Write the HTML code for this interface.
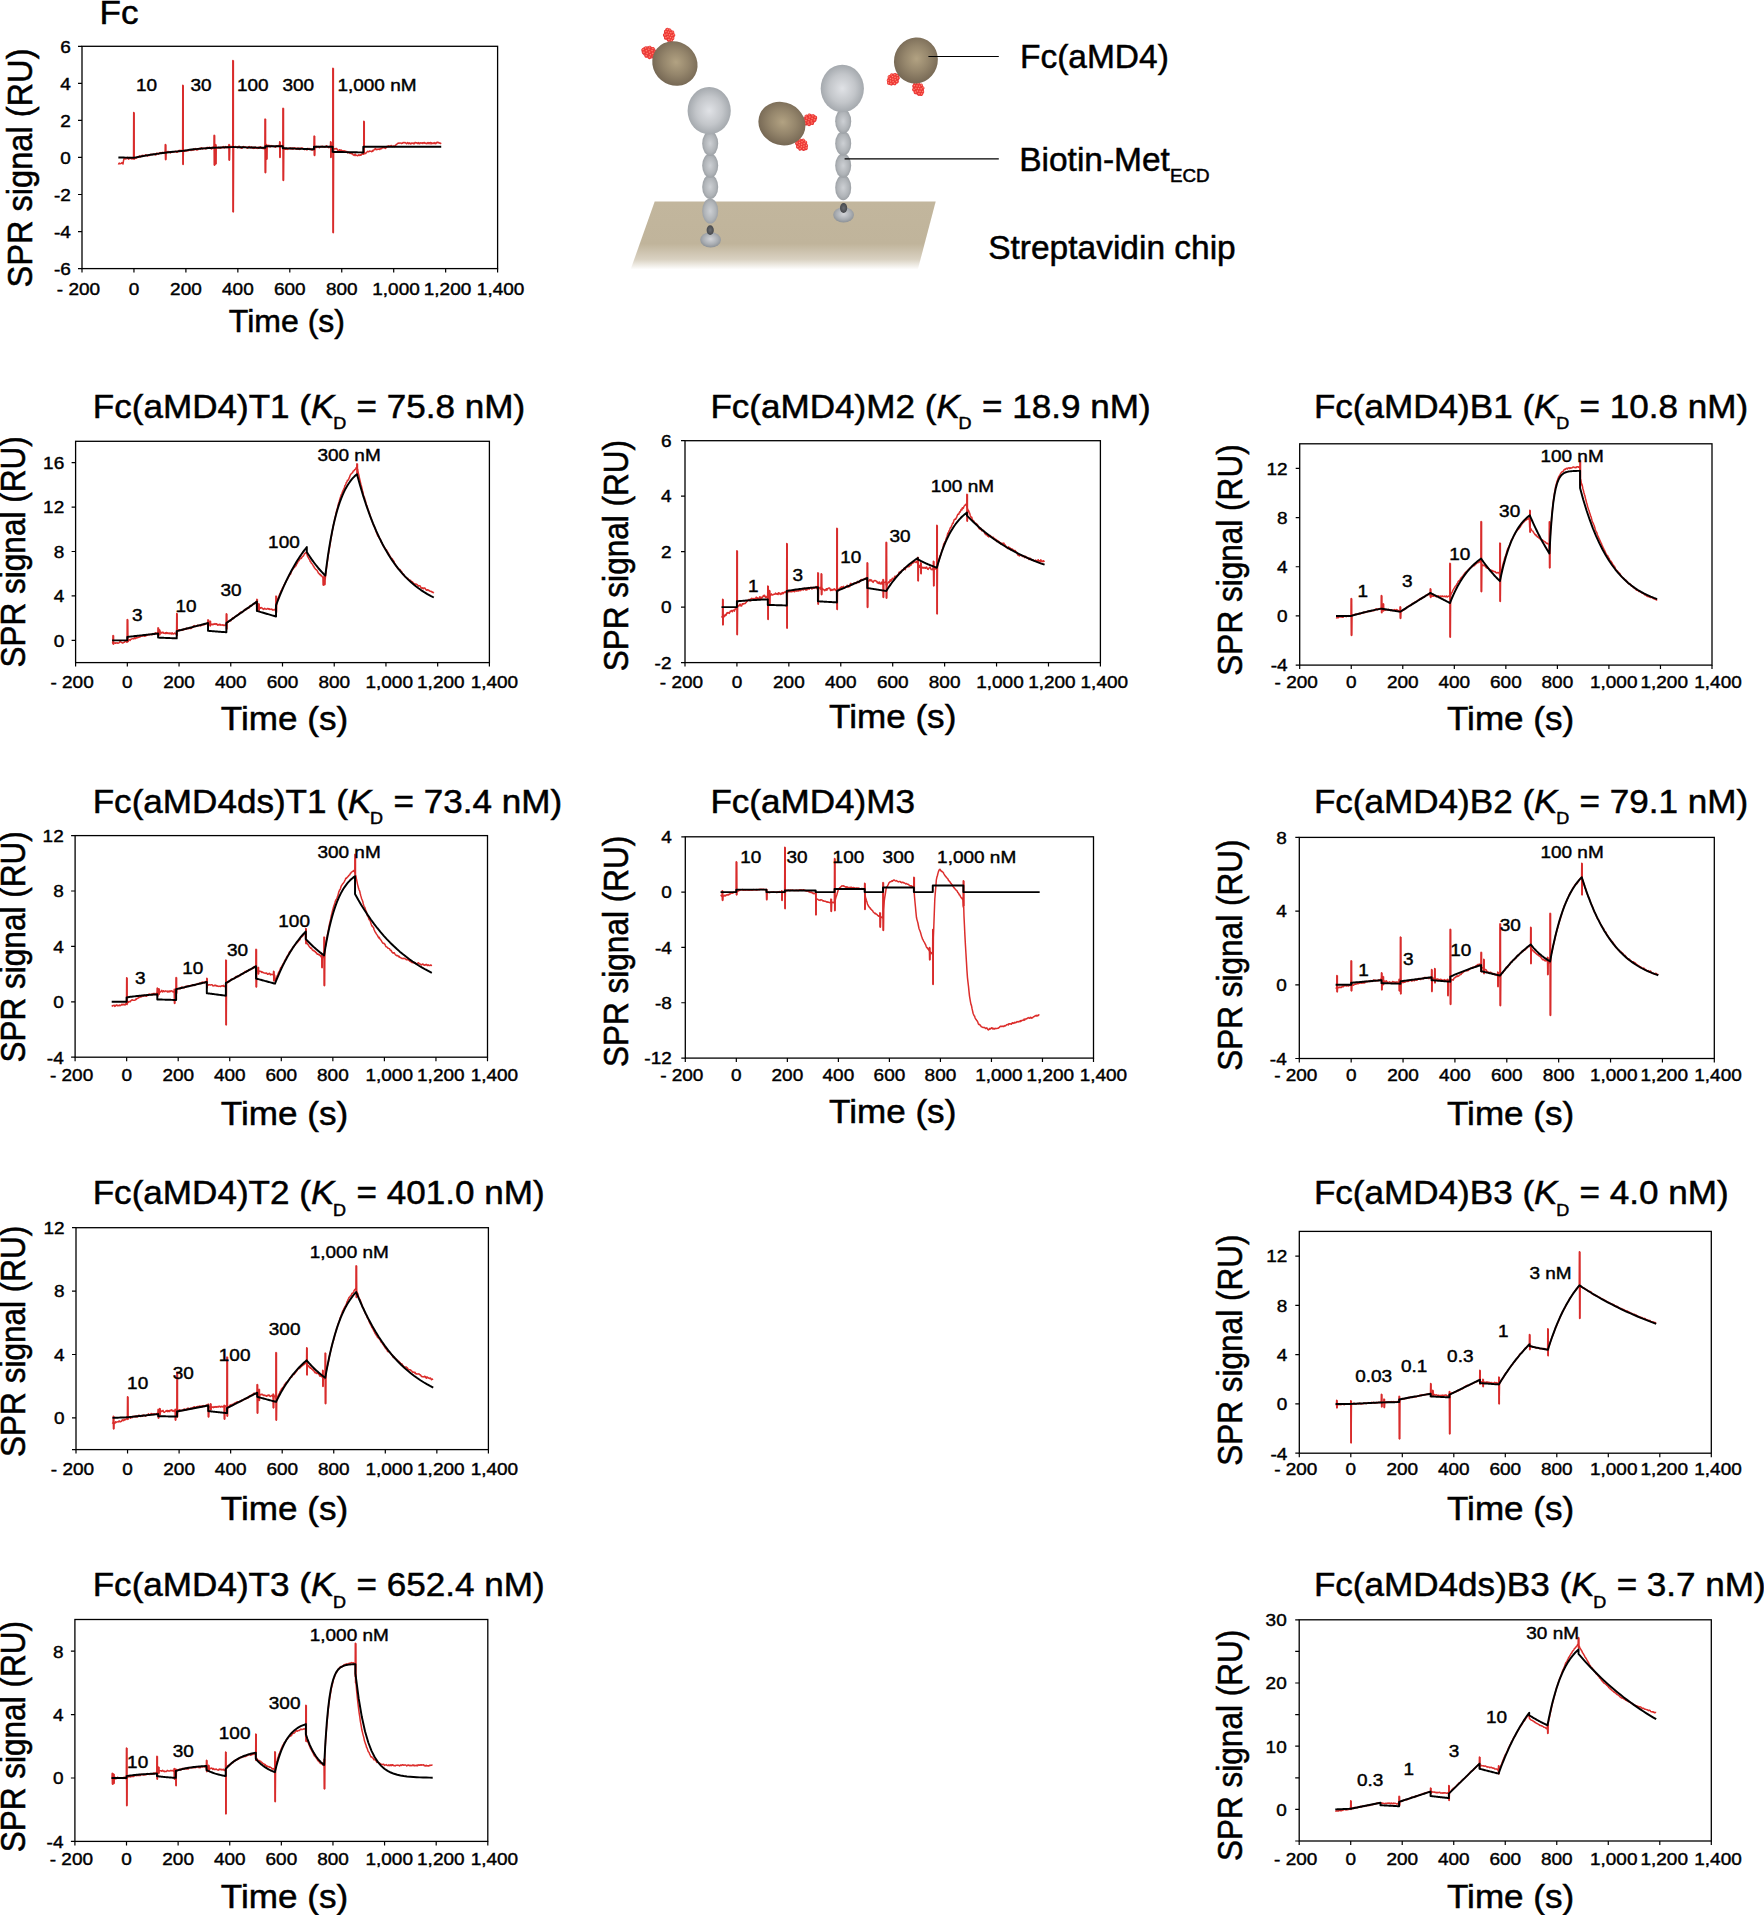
<!DOCTYPE html>
<html lang="en"><head><meta charset="utf-8"><title>SPR sensorgrams</title>
<style>
html,body{margin:0;padding:0;background:#fff}
body{width:1764px;height:1915px;overflow:hidden}
svg{display:block}
text{font-family:"Liberation Sans",sans-serif;fill:#000;stroke:#000;stroke-width:.5}
text.s{stroke-width:.42}
.fr{fill:none;stroke:#000;stroke-width:1.3}
.tk{fill:none;stroke:#000;stroke-width:1.2}
.k{fill:none;stroke:#000;stroke-width:1.95;stroke-linejoin:round}
.r{fill:none;stroke:#dc2e2c;stroke-width:1.5;stroke-linejoin:round}
.sp{fill:none;stroke:#d82c2c;stroke-width:1.8}
</style></head><body>
<svg width="1764" height="1915" viewBox="0 0 1764 1915">
<rect width="1764" height="1915" fill="#fff"/>

<defs>
<linearGradient id="gChip" x1="0" y1="201.6" x2="0" y2="269.5" gradientUnits="userSpaceOnUse">
<stop offset="0" stop-color="#c2b69d"/><stop offset=".62" stop-color="#c0b49b"/><stop offset=".85" stop-color="#d9d1c1"/><stop offset="1" stop-color="#ffffff"/></linearGradient>
<radialGradient id="gGrey" cx=".5" cy=".5" r=".55"><stop offset="0" stop-color="#e0e2e6"/><stop offset=".55" stop-color="#c3c6ca"/><stop offset="1" stop-color="#9da2a7"/></radialGradient>
<radialGradient id="gGrey2" cx=".5" cy=".45" r=".6"><stop offset="0" stop-color="#d2d4d8"/><stop offset=".6" stop-color="#a9adb2"/><stop offset="1" stop-color="#868b90"/></radialGradient>
<radialGradient id="gBead" cx=".5" cy=".5" r=".6"><stop offset="0" stop-color="#cdd0d4"/><stop offset=".6" stop-color="#b0b4b8"/><stop offset="1" stop-color="#8e9398"/></radialGradient>
<radialGradient id="gDark" cx=".5" cy=".5" r=".6"><stop offset="0" stop-color="#6a6c70"/><stop offset="1" stop-color="#3f4145"/></radialGradient>
<radialGradient id="gBrown" cx=".5" cy=".46" r=".56"><stop offset="0" stop-color="#b2a282"/><stop offset=".5" stop-color="#95866c"/><stop offset="1" stop-color="#736552"/></radialGradient>
<radialGradient id="gRed" cx=".45" cy=".4" r=".6"><stop offset="0" stop-color="#ff9a86"/><stop offset=".45" stop-color="#f5453e"/><stop offset="1" stop-color="#e22a2c"/></radialGradient>
</defs>
<g id="diagram">
<polygon points="654.7,201.6 935.7,201.6 917.8,269.5 630.6,269.5" fill="url(#gChip)"/>
<ellipse cx="710.6" cy="239.8" rx="10.4" ry="7.6" fill="url(#gGrey2)"/><ellipse cx="710.2" cy="211" rx="8.0" ry="12.6" fill="url(#gBead)"/><ellipse cx="710.2" cy="186.9" rx="8.0" ry="12.2" fill="url(#gBead)"/><ellipse cx="710.2" cy="165.6" rx="8.0" ry="12.2" fill="url(#gBead)"/><ellipse cx="710.2" cy="143.5" rx="8.0" ry="12.4" fill="url(#gBead)"/><ellipse cx="710.2" cy="230.1" rx="3.6" ry="4.9" fill="url(#gDark)"/><ellipse cx="709.2" cy="110.7" rx="21.6" ry="23.7" fill="url(#gGrey)"/>
<ellipse cx="843.6" cy="214.8" rx="10.4" ry="7.6" fill="url(#gGrey2)"/><ellipse cx="843.2" cy="187.7" rx="8.0" ry="12.6" fill="url(#gBead)"/><ellipse cx="843.2" cy="165.6" rx="8.0" ry="12.2" fill="url(#gBead)"/><ellipse cx="843.2" cy="143.4" rx="8.0" ry="12.2" fill="url(#gBead)"/><ellipse cx="843.2" cy="121.3" rx="8.0" ry="12.4" fill="url(#gBead)"/><ellipse cx="843.6" cy="208" rx="3.6" ry="4.9" fill="url(#gDark)"/><ellipse cx="842.3" cy="88.5" rx="21.6" ry="23.7" fill="url(#gGrey)"/>
<g transform="translate(669.1 35.1) rotate(70)"><ellipse rx="6.9" ry="5.1" fill="#d8262c" opacity=".8"/><circle cx="-1.44" cy="-4.21" r="1.75" fill="url(#gRed)"/><circle cx="1.44" cy="-4.21" r="1.75" fill="url(#gRed)"/><circle cx="-4.33" cy="-2.11" r="1.75" fill="url(#gRed)"/><circle cx="-1.44" cy="-2.11" r="1.75" fill="url(#gRed)"/><circle cx="1.44" cy="-2.11" r="1.75" fill="url(#gRed)"/><circle cx="4.33" cy="-2.11" r="1.75" fill="url(#gRed)"/><circle cx="-5.77" cy="0" r="1.75" fill="url(#gRed)"/><circle cx="-2.88" cy="0" r="1.75" fill="url(#gRed)"/><circle cx="0" cy="0" r="1.75" fill="url(#gRed)"/><circle cx="2.88" cy="0" r="1.75" fill="url(#gRed)"/><circle cx="5.77" cy="0" r="1.75" fill="url(#gRed)"/><circle cx="-4.33" cy="2.11" r="1.75" fill="url(#gRed)"/><circle cx="-1.44" cy="2.11" r="1.75" fill="url(#gRed)"/><circle cx="1.44" cy="2.11" r="1.75" fill="url(#gRed)"/><circle cx="4.33" cy="2.11" r="1.75" fill="url(#gRed)"/><circle cx="-1.44" cy="4.21" r="1.75" fill="url(#gRed)"/><circle cx="1.44" cy="4.21" r="1.75" fill="url(#gRed)"/></g>
<g transform="translate(649.6 52.4) rotate(22)"><ellipse rx="8.4" ry="5.7" fill="#d8262c" opacity=".8"/><circle cx="-1.73" cy="-4.64" r="1.75" fill="url(#gRed)"/><circle cx="1.73" cy="-4.64" r="1.75" fill="url(#gRed)"/><circle cx="-5.19" cy="-2.32" r="1.75" fill="url(#gRed)"/><circle cx="-1.73" cy="-2.32" r="1.75" fill="url(#gRed)"/><circle cx="1.73" cy="-2.32" r="1.75" fill="url(#gRed)"/><circle cx="5.19" cy="-2.32" r="1.75" fill="url(#gRed)"/><circle cx="-6.92" cy="0" r="1.75" fill="url(#gRed)"/><circle cx="-3.46" cy="0" r="1.75" fill="url(#gRed)"/><circle cx="0" cy="0" r="1.75" fill="url(#gRed)"/><circle cx="3.46" cy="0" r="1.75" fill="url(#gRed)"/><circle cx="6.92" cy="0" r="1.75" fill="url(#gRed)"/><circle cx="-5.19" cy="2.32" r="1.75" fill="url(#gRed)"/><circle cx="-1.73" cy="2.32" r="1.75" fill="url(#gRed)"/><circle cx="1.73" cy="2.32" r="1.75" fill="url(#gRed)"/><circle cx="5.19" cy="2.32" r="1.75" fill="url(#gRed)"/><circle cx="-1.73" cy="4.64" r="1.75" fill="url(#gRed)"/><circle cx="1.73" cy="4.64" r="1.75" fill="url(#gRed)"/></g>
<ellipse transform="translate(674.9 63.5) rotate(40)" rx="23.4" ry="21.6" fill="url(#gBrown)"/>
<g transform="translate(809.3 119.8) rotate(-20)"><ellipse rx="7.9" ry="5.2" fill="#d8262c" opacity=".8"/><circle cx="-1.63" cy="-4.29" r="1.75" fill="url(#gRed)"/><circle cx="1.63" cy="-4.29" r="1.75" fill="url(#gRed)"/><circle cx="-4.9" cy="-2.14" r="1.75" fill="url(#gRed)"/><circle cx="-1.63" cy="-2.14" r="1.75" fill="url(#gRed)"/><circle cx="1.63" cy="-2.14" r="1.75" fill="url(#gRed)"/><circle cx="4.9" cy="-2.14" r="1.75" fill="url(#gRed)"/><circle cx="-6.54" cy="0" r="1.75" fill="url(#gRed)"/><circle cx="-3.27" cy="0" r="1.75" fill="url(#gRed)"/><circle cx="0" cy="0" r="1.75" fill="url(#gRed)"/><circle cx="3.27" cy="0" r="1.75" fill="url(#gRed)"/><circle cx="6.54" cy="0" r="1.75" fill="url(#gRed)"/><circle cx="-4.9" cy="2.14" r="1.75" fill="url(#gRed)"/><circle cx="-1.63" cy="2.14" r="1.75" fill="url(#gRed)"/><circle cx="1.63" cy="2.14" r="1.75" fill="url(#gRed)"/><circle cx="4.9" cy="2.14" r="1.75" fill="url(#gRed)"/><circle cx="-1.63" cy="4.29" r="1.75" fill="url(#gRed)"/><circle cx="1.63" cy="4.29" r="1.75" fill="url(#gRed)"/></g>
<g transform="translate(801.6 144.6) rotate(40)"><ellipse rx="6.9" ry="5.2" fill="#d8262c" opacity=".8"/><circle cx="-1.44" cy="-4.29" r="1.75" fill="url(#gRed)"/><circle cx="1.44" cy="-4.29" r="1.75" fill="url(#gRed)"/><circle cx="-4.33" cy="-2.14" r="1.75" fill="url(#gRed)"/><circle cx="-1.44" cy="-2.14" r="1.75" fill="url(#gRed)"/><circle cx="1.44" cy="-2.14" r="1.75" fill="url(#gRed)"/><circle cx="4.33" cy="-2.14" r="1.75" fill="url(#gRed)"/><circle cx="-5.77" cy="0" r="1.75" fill="url(#gRed)"/><circle cx="-2.88" cy="0" r="1.75" fill="url(#gRed)"/><circle cx="0" cy="0" r="1.75" fill="url(#gRed)"/><circle cx="2.88" cy="0" r="1.75" fill="url(#gRed)"/><circle cx="5.77" cy="0" r="1.75" fill="url(#gRed)"/><circle cx="-4.33" cy="2.14" r="1.75" fill="url(#gRed)"/><circle cx="-1.44" cy="2.14" r="1.75" fill="url(#gRed)"/><circle cx="1.44" cy="2.14" r="1.75" fill="url(#gRed)"/><circle cx="4.33" cy="2.14" r="1.75" fill="url(#gRed)"/><circle cx="-1.44" cy="4.29" r="1.75" fill="url(#gRed)"/><circle cx="1.44" cy="4.29" r="1.75" fill="url(#gRed)"/></g>
<ellipse transform="translate(781.9 123.6) rotate(25)" rx="24" ry="21.3" fill="url(#gBrown)"/>
<g transform="translate(893.2 79.3) rotate(-40)"><ellipse rx="6.9" ry="5.2" fill="#d8262c" opacity=".8"/><circle cx="-1.44" cy="-4.29" r="1.75" fill="url(#gRed)"/><circle cx="1.44" cy="-4.29" r="1.75" fill="url(#gRed)"/><circle cx="-4.33" cy="-2.14" r="1.75" fill="url(#gRed)"/><circle cx="-1.44" cy="-2.14" r="1.75" fill="url(#gRed)"/><circle cx="1.44" cy="-2.14" r="1.75" fill="url(#gRed)"/><circle cx="4.33" cy="-2.14" r="1.75" fill="url(#gRed)"/><circle cx="-5.77" cy="0" r="1.75" fill="url(#gRed)"/><circle cx="-2.88" cy="0" r="1.75" fill="url(#gRed)"/><circle cx="0" cy="0" r="1.75" fill="url(#gRed)"/><circle cx="2.88" cy="0" r="1.75" fill="url(#gRed)"/><circle cx="5.77" cy="0" r="1.75" fill="url(#gRed)"/><circle cx="-4.33" cy="2.14" r="1.75" fill="url(#gRed)"/><circle cx="-1.44" cy="2.14" r="1.75" fill="url(#gRed)"/><circle cx="1.44" cy="2.14" r="1.75" fill="url(#gRed)"/><circle cx="4.33" cy="2.14" r="1.75" fill="url(#gRed)"/><circle cx="-1.44" cy="4.29" r="1.75" fill="url(#gRed)"/><circle cx="1.44" cy="4.29" r="1.75" fill="url(#gRed)"/></g>
<g transform="translate(918.3 88.9) rotate(60)"><ellipse rx="7.4" ry="5.2" fill="#d8262c" opacity=".8"/><circle cx="-1.54" cy="-4.29" r="1.75" fill="url(#gRed)"/><circle cx="1.54" cy="-4.29" r="1.75" fill="url(#gRed)"/><circle cx="-4.62" cy="-2.14" r="1.75" fill="url(#gRed)"/><circle cx="-1.54" cy="-2.14" r="1.75" fill="url(#gRed)"/><circle cx="1.54" cy="-2.14" r="1.75" fill="url(#gRed)"/><circle cx="4.62" cy="-2.14" r="1.75" fill="url(#gRed)"/><circle cx="-6.15" cy="0" r="1.75" fill="url(#gRed)"/><circle cx="-3.08" cy="0" r="1.75" fill="url(#gRed)"/><circle cx="0" cy="0" r="1.75" fill="url(#gRed)"/><circle cx="3.08" cy="0" r="1.75" fill="url(#gRed)"/><circle cx="6.15" cy="0" r="1.75" fill="url(#gRed)"/><circle cx="-4.62" cy="2.14" r="1.75" fill="url(#gRed)"/><circle cx="-1.54" cy="2.14" r="1.75" fill="url(#gRed)"/><circle cx="1.54" cy="2.14" r="1.75" fill="url(#gRed)"/><circle cx="4.62" cy="2.14" r="1.75" fill="url(#gRed)"/><circle cx="-1.54" cy="4.29" r="1.75" fill="url(#gRed)"/><circle cx="1.54" cy="4.29" r="1.75" fill="url(#gRed)"/></g>
<ellipse transform="translate(915.9 60.5) rotate(20)" rx="21.8" ry="23.2" fill="url(#gBrown)"/>
<path d="M928.4 56.5H998.8M844.6 158.8H998.8" stroke="#000" stroke-width="1.15" fill="none"/>
<text transform="translate(1020 68.1) scale(1.012 1)" font-size="33.1">Fc(aMD4)</text>
<text transform="translate(1019.2 171.4) scale(1.012 1)" font-size="33.1">Biotin-Met<tspan font-size="18.6" dy="11">ECD</tspan></text>
<text transform="translate(988.2 258.9) scale(1.012 1)" font-size="33.1">Streptavidin chip</text>
</g>
<g>
<polyline class="r" points="118.37,164.55 118.88,163.46 119.4,163.15 119.92,163.84 120.44,163.6 120.96,163.53 121.48,163.1 122,162.65 122.52,163.6 123.04,163.97 123.56,160.46 124.08,158.41 124.6,157.93 125.12,159.03 125.64,158.65 126.16,158.04 126.68,158.65 127.2,157.64 127.72,157.35 128.24,158.7 128.75,159.17 129.27,158.45 129.79,157.52 130.31,158.12 130.83,158.59 131.35,158.4 131.87,158.98 132.39,158.85 132.91,158.42 133.43,158.16 133.53,158.02 133.69,112.43 134,159.3 134.31,157.9 134.47,158.48 134.99,158.39 135.51,157.86 136.03,157.86 136.55,158.26 137.07,156.96 137.59,156.91 138.11,156.69 138.63,157.31 139.15,156.11 139.66,155.85 140.18,156.94 140.7,156.9 141.22,156.17 141.74,155.87 142.26,155.32 142.78,155.94 143.3,155.4 143.82,155.43 144.34,155.99 144.86,155.66 145.38,154.98 145.9,154.75 146.42,155.19 146.94,155.14 147.46,156 147.98,155.9 148.5,154.87 149.02,155.1 149.54,155.54 150.05,155 150.57,154.5 151.09,154.32 151.61,154.71 152.13,154.69 152.65,154.51 153.17,153.94 153.69,154.13 154.21,154.35 154.73,154.22 155.25,154.9 155.77,155.07 156.29,153.96 156.81,153.06 157.33,153.35 157.85,153.74 158.37,154.21 158.89,153.76 159.41,152.75 159.93,152.71 160.44,153.04 160.96,152.57 161.48,153.42 162,153.2 162.52,152.34 163.04,152.62 163.56,152.88 164.08,153.25 164.6,152.86 165.12,152 165.22,152.72 165.38,144.48 165.69,159.67 166,152.64 166.16,152.34 166.68,151.92 167.2,151.62 167.72,151.72 168.24,151.6 168.76,152.01 169.28,152.04 169.8,152.24 170.31,152.89 170.83,151.71 171.35,151.77 171.87,152.37 172.39,152.03 172.91,151.91 173.43,152.05 173.95,152.08 174.47,151.72 174.99,151.42 175.51,151.3 176.03,151.48 176.55,152.24 177.07,152.12 177.59,152.14 178.11,151.42 178.63,150.67 179.15,150.48 179.67,150.38 180.19,150.29 180.7,151.16 181.22,150.45 181.74,150.45 182.26,151.41 182.63,150.83 182.78,85.2 183.09,164.49 183.41,150.76 183.82,150.67 184.34,151.03 184.86,151.33 185.38,150.51 185.9,150.65 186.42,151.11 186.94,151.07 187.46,150.38 187.98,150.7 188.5,150.59 189.02,149.77 189.54,149.86 190.06,150.08 190.58,149.86 191.1,150.49 191.61,150.06 192.13,149.82 192.65,150.08 193.17,150.27 193.69,148.96 194.21,149.13 194.73,149.65 195.25,149.13 195.77,148.56 196.29,149.67 196.81,150.03 197.33,149.9 197.85,148.86 198.37,149.41 198.89,148.65 199.41,148.4 199.93,148.51 200.45,149.06 200.97,147.95 201.49,147.84 202,148.24 202.52,148.85 203.04,148.33 203.56,148.54 204.08,148.29 204.6,148.6 205.12,148.17 205.64,148.95 206.16,148.8 206.68,147.6 207.2,147.31 207.72,148.15 208.24,147.49 208.76,148.16 209.28,147.32 209.8,147.33 210.32,147.87 210.84,148.31 211.36,148.86 211.88,147.57 212.39,148.51 212.91,147.51 213.43,146.9 213.95,147.33 214.06,147.75 214.21,135.22 214.52,165.23 214.84,147.71 214.99,147.23 215.36,147.68 215.51,144.48 215.82,163.93 216.13,147.65 216.55,147.38 217.07,147.73 217.59,147.89 218.11,148.17 218.63,147.46 219.15,147.61 219.67,148.05 220.19,148.34 220.71,147.48 221.23,147.79 221.75,147.54 222.27,147.74 222.78,146.87 223.3,146.51 223.82,147.86 224.34,148.01 224.86,147.84 225.38,146.66 225.9,146.58 226.42,147.29 226.94,147.74 227.46,147.11 227.98,146.61 228.5,146.26 228.86,147.19 229.02,144.48 229.33,160.23 229.64,147.17 230.06,146.61 230.58,146.98 231.1,146.26 231.62,147.26 232.14,146.78 232.66,147.68 232.76,147.09 232.91,60.38 233.23,211.91 233.54,147.08 233.69,146.66 234.21,147.43 234.73,146.79 235.25,146.84 235.77,146.46 236.29,147.13 236.81,147.42 237.33,147.61 237.85,146.71 238.37,146.85 238.89,146.32 239.41,146.25 239.93,147.5 240.45,147.25 240.97,147.92 241.49,148.27 242.01,148.35 242.53,147.05 243.05,146.73 243.56,146.56 244.08,147.33 244.6,147.14 245.12,146.8 245.64,147.37 246.16,147.26 246.68,147.81 247.2,148.25 247.72,148.1 248.24,147 248.76,147.18 249.28,146.64 249.8,147.24 250.32,147.77 250.84,147.1 251.36,146.81 251.88,148.09 252.4,147.43 252.92,148.19 253.44,148.42 253.95,147.21 254.47,148.22 254.99,148.24 255.51,147 256.03,147.53 256.55,148.23 257.07,148.4 257.59,148.34 258.11,147.48 258.63,148.27 259.15,147.19 259.67,147.72 260.19,146.92 260.71,146.75 261.23,147.73 261.75,148.15 262.27,147.93 262.79,148.5 263.31,147.77 263.83,148.56 264.34,148.89 264.86,147.38 264.97,147.81 265.12,119.1 265.44,172.64 265.75,146.34 265.9,146.24 266.27,146.34 266.42,144.48 266.73,159.3 267.05,146.34 267.46,147.19 267.98,145.94 268.5,145.4 269.02,145.22 269.54,146.6 270.06,146.91 270.58,146.34 271.1,145.53 271.62,145.98 272.14,145.89 272.66,145.91 273.18,146.59 273.7,146.35 274.22,146.67 274.73,146.88 275.25,147.23 275.77,147.02 276.29,145.76 276.81,146.22 277.33,146.04 277.85,145.99 278.37,145.47 278.89,146.22 279.41,146.62 279.51,146.34 279.67,141.7 279.98,157.45 280.29,146.34 280.45,146.78 280.97,145.91 281.49,145.52 282.01,146.38 282.53,146.63 282.89,148.2 283.05,108.36 283.36,180.42 283.67,148.22 284.09,148.03 284.61,148.61 285.12,149.2 285.64,149.05 286.16,149.29 286.68,148.59 287.2,149.16 287.72,149.36 288.24,148.5 288.76,148.8 289.28,148.06 289.8,148.32 290.32,147.81 290.84,148.83 291.36,148.62 291.88,148.06 292.4,149.08 292.92,147.99 293.44,148.92 293.96,148.24 294.48,147.67 295,147.75 295.51,148.64 296.03,149.32 296.55,148.89 297.07,148.06 297.59,148.84 298.11,148.11 298.63,149.14 299.15,148.21 299.67,149.38 300.19,149.33 300.71,148.33 301.23,148.16 301.75,147.94 302.27,147.98 302.79,148.17 303.31,148.34 303.83,149.28 304.35,149.19 304.87,149.63 305.38,148.86 305.9,148.68 306.42,149.33 306.94,149.89 307.46,148.58 307.98,148.4 308.5,148.78 309.02,148.94 309.54,148.49 310.06,149.01 310.58,149.3 311.1,149.51 311.62,149.73 312.14,150.22 312.66,149.35 313.18,149.45 313.7,149.23 314.06,146.71 314.22,135.96 314.53,155.6 314.84,146.71 315.26,147.49 315.77,147.61 316.29,147.43 316.81,146.4 317.33,146.77 317.85,146.9 318.37,146.58 318.89,147.11 319.41,147.68 319.93,147 320.45,146.81 320.97,146.49 321.49,146.73 322.01,146.4 322.53,146.21 323.05,146.97 323.57,146.81 324.09,146.78 324.61,147.19 325.13,147.02 325.65,146.72 326.17,146.02 326.68,145.76 327.2,146.75 327.72,146.48 328.24,147.39 328.76,147.67 329.28,147.02 329.8,146.18 330.32,147.1 330.42,146.71 330.58,141.7 330.89,157.45 331.2,146.71 331.36,145.95 331.88,146.76 332.4,146.4 332.76,150.97 332.92,68.16 333.23,232.85 333.54,149.13 333.96,148.85 334.48,148.76 335,149.02 335.52,148.72 336.04,148.6 336.56,148.5 337.07,149.18 337.59,150.13 338.11,150.39 338.63,150.59 339.15,150.12 339.67,149.69 340.19,150.78 340.71,150.16 341.23,149.93 341.75,150.53 342.27,150.62 342.79,151.38 343.31,150.82 343.83,151.91 344.35,150.84 344.87,150.88 345.39,151.33 345.91,152.22 346.43,151.57 346.94,151.4 347.46,152.85 347.98,152.41 348.5,152.27 349.02,152.66 349.54,152.86 350.06,153.43 350.58,152.92 351.1,152.76 351.62,153.8 352.14,153.55 352.66,154.18 353.18,154.95 353.7,155.04 354.22,155.51 354.74,154.45 355.26,154.09 355.78,155.47 356.3,155.13 356.82,155.23 357.33,155.7 357.85,155.5 358.37,155.46 358.89,154.54 359.41,155.42 359.93,155.35 360.45,154.85 360.97,155.32 361.49,154.41 362.01,154.07 362.53,153.5 363.05,154.22 363.57,154.23 363.67,153.68 363.83,121.14 364.14,151.89 364.45,153.48 364.61,153.84 365.13,153.25 365.65,153.5 366.17,152.74 366.69,152.18 367.21,151.84 367.73,151.32 368.24,151.75 368.76,151.87 369.28,151.18 369.8,150.97 370.32,151.11 370.84,151.36 371.36,151.5 371.88,151.73 372.4,150.51 372.92,151.13 373.44,150.17 373.96,150.06 374.48,149.19 375,149.12 375.52,148.61 376.04,149.79 376.56,149.51 377.08,149.22 377.6,149.47 378.12,149.16 378.63,149.22 379.15,148.87 379.67,149.56 380.19,148.98 380.71,148.69 381.23,148.75 381.75,148.54 382.27,147.74 382.79,147.55 383.31,147.72 383.83,147.44 384.35,147.72 384.87,148.04 385.39,148.41 385.91,147.99 386.43,147.27 386.95,146.48 387.47,146.23 387.99,146.63 388.51,145.91 389.02,146.48 389.54,146 390.06,146.49 390.58,146.04 391.1,145.42 391.62,146.3 392.14,146.77 392.66,146.13 393.18,146 393.7,146.18 394.22,146.64 394.74,145.99 395.26,145.54 395.78,145.27 396.3,144.24 396.82,144.2 397.34,143.77 397.86,143.19 398.38,143.08 398.89,143.32 399.41,143.04 399.93,143.12 400.45,143.12 400.97,143.14 401.49,143.52 402.01,143.27 402.53,143.16 403.05,142.6 403.57,142.66 404.09,142.56 404.61,142.65 405.13,142.6 405.65,142.92 406.17,143.46 406.69,143.78 407.21,143.13 407.73,142.62 408.25,142.99 408.77,143.77 409.29,142.88 409.8,143.15 410.32,143.27 410.84,144.01 411.36,143.48 411.88,142.88 412.4,143.21 412.92,143.43 413.44,142.99 413.96,143.9 414.48,143.39 415,142.46 415.52,142.56 416.04,143.07 416.56,142.76 417.08,142.78 417.6,143.44 418.12,143.67 418.64,142.6 419.16,143.25 419.68,143.8 420.19,142.74 420.71,142.89 421.23,143.22 421.75,143.1 422.27,142.69 422.79,143.51 423.31,142.99 423.83,142.72 424.35,142.46 424.87,143.3 425.39,143.03 425.91,143.58 426.43,143.23 426.95,143.77 427.47,142.93 427.99,142.52 428.51,143.29 429.03,143.75 429.55,142.67 430.07,142.73 430.58,142.54 431.1,143.85 431.62,142.85 432.14,142.98 432.66,143.55 433.18,143.5 433.7,142.9 434.22,142.62 434.74,143.5 435.26,143.04 435.78,143.63 436.3,142.44 436.82,142.89 437.34,142.23 437.86,142.28 438.38,142.47 438.9,143.09 439.42,142.83 439.94,143.37 440.46,143.53 440.97,142.58"/>
<path class="sp" d="M133.99 112.43V159.3M165.68 144.48V159.67M183.08 85.2V164.49M214.51 135.22V165.23M215.81 144.48V163.93M229.32 144.48V160.23M233.21 60.38V211.91M265.42 119.1V172.64M266.72 144.48V159.3M279.97 141.7V157.45M283.35 108.36V180.42M314.52 135.96V155.6M330.88 141.7V157.45M333.22 68.16V232.85M364.13 121.14V151.89"/>
<polyline class="k" stroke-width="1.45" points="118.37,157.45 119.01,157.47 119.66,157.48 120.31,157.5 120.96,157.51 121.61,157.53 122.26,157.54 122.91,157.56 123.56,157.57 124.21,157.59 124.86,157.6 125.51,157.62 126.16,157.64 126.81,157.65 127.46,157.67 128.11,157.68 128.75,157.7 129.4,157.71 130.05,157.73 130.7,157.74 131.35,157.76 132,157.77 132.65,157.79 133.3,157.81 133.95,157.82 133.95,157.82 136.01,157.4 138.06,157 140.12,156.6 142.18,156.22 144.23,155.86 146.29,155.5 148.34,155.16 150.4,154.83 152.46,154.51 154.51,154.2 156.57,153.9 158.63,153.61 160.68,153.33 162.74,153.05 164.8,152.79 166.85,152.54 168.91,152.29 170.96,152.05 173.02,151.82 175.08,151.6 177.13,151.39 179.19,151.18 181.25,150.98 183.3,150.78 183.3,150.78 185.39,150.44 187.48,150.12 189.57,149.83 191.66,149.57 193.75,149.32 195.84,149.1 197.92,148.89 200.01,148.7 202.1,148.52 204.19,148.36 206.28,148.21 208.37,148.07 210.46,147.95 212.55,147.83 214.63,147.72 216.72,147.63 218.81,147.54 220.9,147.45 222.99,147.38 225.08,147.31 227.17,147.24 229.26,147.18 231.35,147.13 233.43,147.08 233.43,147.08 234.77,147.11 236.1,147.14 237.43,147.17 238.76,147.2 240.09,147.23 241.42,147.26 242.75,147.29 244.08,147.32 245.42,147.35 246.75,147.38 248.08,147.42 249.41,147.45 250.74,147.48 252.07,147.51 253.4,147.54 254.73,147.57 256.06,147.6 257.4,147.63 258.73,147.66 260.06,147.69 261.39,147.72 262.72,147.76 264.05,147.79 265.38,147.82 265.38,146.34 266.11,146.34 266.83,146.34 267.56,146.34 268.28,146.34 269.01,146.34 269.73,146.34 270.46,146.34 271.18,146.34 271.91,146.34 272.63,146.34 273.36,146.34 274.09,146.34 274.81,146.34 275.54,146.34 276.26,146.34 276.99,146.34 277.71,146.34 278.44,146.34 279.16,146.34 279.89,146.34 280.61,146.34 281.34,146.34 282.06,146.34 282.79,146.34 282.79,148.19 284.09,148.23 285.38,148.28 286.68,148.33 287.98,148.37 289.28,148.42 290.58,148.47 291.88,148.51 293.18,148.56 294.48,148.6 295.77,148.65 297.07,148.7 298.37,148.74 299.67,148.79 300.97,148.84 302.27,148.88 303.57,148.93 304.87,148.97 306.16,149.02 307.46,149.07 308.76,149.11 310.06,149.16 311.36,149.21 312.66,149.25 313.96,149.3 313.96,146.71 314.74,146.71 315.52,146.71 316.29,146.71 317.07,146.71 317.85,146.71 318.63,146.71 319.41,146.71 320.19,146.71 320.97,146.71 321.75,146.71 322.53,146.71 323.31,146.71 324.09,146.71 324.87,146.71 325.65,146.71 326.42,146.71 327.2,146.71 327.98,146.71 328.76,146.71 329.54,146.71 330.32,146.71 331.1,146.71 331.88,146.71 332.66,146.71 332.66,151.89 333.94,151.92 335.21,151.94 336.49,151.96 337.77,151.99 339.04,152.01 340.32,152.03 341.6,152.05 342.88,152.08 344.15,152.1 345.43,152.12 346.71,152.15 347.98,152.17 349.26,152.19 350.54,152.22 351.82,152.24 353.09,152.26 354.37,152.29 355.65,152.31 356.92,152.33 358.2,152.36 359.48,152.38 360.76,152.4 362.03,152.43 363.31,152.45 363.31,146.71 366.56,146.71 369.8,146.71 373.05,146.71 376.3,146.71 379.54,146.71 382.79,146.71 386.04,146.71 389.28,146.71 392.53,146.71 395.78,146.71 399.02,146.71 402.27,146.71 405.52,146.71 408.77,146.71 412.01,146.71 415.26,146.71 418.51,146.71 421.75,146.71 425,146.71 428.25,146.71 431.49,146.71 434.74,146.71 437.99,146.71 441.23,146.71"/>
<rect class="fr" x="82" y="46.3" width="415.6" height="222.3"/>
<path class="tk" d="M82 268.6v4M133.95 268.6v4M185.9 268.6v4M237.85 268.6v4M289.8 268.6v4M341.75 268.6v4M393.7 268.6v4M445.65 268.6v4M497.6 268.6v4M82 268.6h-4M82 231.55h-4M82 194.5h-4M82 157.45h-4M82 120.4h-4M82 83.35h-4M82 46.3h-4"/>
<text transform="translate(78.5 295.2) scale(1.12 1)" font-size="16.95" text-anchor="middle" class="s">- 200</text>
<text transform="translate(133.95 295.2) scale(1.12 1)" font-size="16.95" text-anchor="middle" class="s">0</text>
<text transform="translate(185.9 295.2) scale(1.12 1)" font-size="16.95" text-anchor="middle" class="s">200</text>
<text transform="translate(237.85 295.2) scale(1.12 1)" font-size="16.95" text-anchor="middle" class="s">400</text>
<text transform="translate(289.8 295.2) scale(1.12 1)" font-size="16.95" text-anchor="middle" class="s">600</text>
<text transform="translate(341.75 295.2) scale(1.12 1)" font-size="16.95" text-anchor="middle" class="s">800</text>
<text transform="translate(396 295.2) scale(1.12 1)" font-size="16.95" text-anchor="middle" class="s">1,000</text>
<text transform="translate(447.5 295.2) scale(1.12 1)" font-size="16.95" text-anchor="middle" class="s">1,200</text>
<text transform="translate(500.6 295.2) scale(1.12 1)" font-size="16.95" text-anchor="middle" class="s">1,400</text>
<text transform="translate(70.8 274.9) scale(1.12 1)" font-size="16.95" text-anchor="end" class="s">-6</text>
<text transform="translate(70.8 237.85) scale(1.12 1)" font-size="16.95" text-anchor="end" class="s">-4</text>
<text transform="translate(70.8 200.8) scale(1.12 1)" font-size="16.95" text-anchor="end" class="s">-2</text>
<text transform="translate(70.8 163.75) scale(1.12 1)" font-size="16.95" text-anchor="end" class="s">0</text>
<text transform="translate(70.8 126.7) scale(1.12 1)" font-size="16.95" text-anchor="end" class="s">2</text>
<text transform="translate(70.8 89.65) scale(1.12 1)" font-size="16.95" text-anchor="end" class="s">4</text>
<text transform="translate(70.8 52.6) scale(1.12 1)" font-size="16.95" text-anchor="end" class="s">6</text>
<text transform="translate(99.5 23.8) scale(1.06 1)" font-size="33.1" text-anchor="start">Fc</text>
<text transform="translate(286.9 331.6) scale(1.04 1)" font-size="30.8" text-anchor="middle">Time (s)</text>
<text transform="translate(32.3 168) scale(1.1 1) rotate(-90)" font-size="32.6" text-anchor="middle">SPR signal (RU)</text>
<text transform="translate(135.9 91.2) scale(1.12 1)" font-size="16.95" text-anchor="start" class="s">10</text>
<text transform="translate(190.4 91.2) scale(1.12 1)" font-size="16.95" text-anchor="start" class="s">30</text>
<text transform="translate(236.9 91.2) scale(1.12 1)" font-size="16.95" text-anchor="start" class="s">100</text>
<text transform="translate(282.4 91.2) scale(1.12 1)" font-size="16.95" text-anchor="start" class="s">300</text>
<text transform="translate(337.4 91.2) scale(1.12 1)" font-size="16.95" text-anchor="start" class="s">1,000 nM</text>
</g>
<g>
<polyline class="r" points="112.07,643.06 112.58,642.76 112.95,643.56 113.1,635.38 113.41,644.27 113.72,643.47 114.14,643.18 114.65,642.91 115.17,642.87 115.69,643.33 116.2,643.01 116.72,642.85 117.24,642.78 117.76,643.31 118.27,643.06 118.79,642.98 119.31,642.42 119.82,641.79 120.34,641.58 120.86,642.04 121.38,642.3 121.89,642.6 122.41,642.99 122.93,643.09 123.45,642.44 123.96,642.38 124.48,642.22 125,641.37 125.51,641.56 126.03,641.52 126.55,641.93 127.07,642.33 127.17,640.94 127.32,619.61 127.64,641.49 127.95,640.75 128.1,641.41 128.62,640.77 129.14,639.74 129.65,639.74 130.17,640.35 130.69,639.44 131.2,639.15 131.72,639.04 132.24,638.65 132.76,638.61 133.27,638.46 133.79,638.93 134.31,638.09 134.83,637.72 135.34,638.64 135.86,638 136.38,637.73 136.89,637.9 137.41,637.76 137.93,637.66 138.45,636.9 138.96,637.14 139.48,636.64 140,637.05 140.51,636.33 141.03,635.95 141.55,636.34 142.07,636.23 142.58,635.57 143.1,635.55 143.62,635.83 144.14,636.24 144.65,636.16 145.17,635.53 145.69,636.01 146.2,635.03 146.72,635.55 147.24,634.73 147.76,635.25 148.27,634.42 148.79,634.43 149.31,634.65 149.83,634.64 150.34,634.38 150.86,634.31 151.38,634.62 151.89,634.81 152.41,634.36 152.93,633.53 153.45,633.62 153.96,634.37 154.48,633.49 155,633.25 155.52,632.84 156.03,633.66 156.55,633.08 157.07,633.8 157.58,633.12 157.95,632.38 158.1,627.72 158.41,635.38 158.72,632.42 159.14,632.08 159.24,632.46 159.39,629.83 159.7,634.83 160.02,632.5 160.17,632.63 160.69,632.07 161.2,632.77 161.72,633.09 162.24,632.25 162.76,632.64 163.27,632.37 163.79,633.29 164.31,633.15 164.83,633.4 165.34,632.78 165.86,633.44 166.38,632.43 166.89,633.43 167.41,632.79 167.93,633.61 168.45,633.58 168.96,632.78 169.48,633.47 170,633.69 170.52,633.06 171.03,633.3 171.55,633.89 172.07,632.76 172.58,633.59 173.1,634.07 173.62,633.81 174.14,633.35 174.65,633.02 175.17,633.84 175.69,633.82 176.21,634.28 176.57,631.16 176.72,613.39 177.03,635.38 177.34,631 177.76,630.46 178.27,630.02 178.79,630 179.31,629.75 179.83,629.8 180.34,630.07 180.86,630.43 181.38,629.84 181.89,630.05 182.41,630.34 182.93,629.86 183.45,628.98 183.96,629.67 184.48,629.16 185,629.17 185.52,628.92 186.03,629.27 186.55,628.13 187.07,628.66 187.58,628.26 188.1,628.3 188.62,628.8 189.14,628.11 189.65,628.39 190.17,628.52 190.69,628.51 191.21,628.24 191.72,628.15 192.24,627.25 192.76,627.03 193.27,626.18 193.79,625.87 194.31,625.58 194.83,626.5 195.34,626.42 195.86,626.59 196.38,626.07 196.9,625.75 197.41,625.3 197.93,625.19 198.45,625.72 198.96,625.57 199.48,625.29 200,625.85 200.52,625.92 201.03,625.32 201.55,625.45 202.07,624.52 202.58,624.81 203.1,625.02 203.62,624.89 204.14,624.69 204.65,624.55 205.17,623.98 205.69,623.77 206.21,623.84 206.72,623.29 207.24,623.63 207.76,622.66 207.86,623.72 208.02,619.83 208.33,626.49 208.64,623.76 208.79,623.15 209.31,623.69 209.83,623.79 209.93,623.87 210.08,620.94 210.4,625.94 210.71,623.91 210.86,624.52 211.38,624.29 211.9,624.08 212.41,624.52 212.93,624.83 213.45,623.94 213.96,624.28 214.48,624.21 215,623.62 215.52,623.89 216.03,624.47 216.55,623.7 217.07,624.34 217.59,625.09 218.1,624.42 218.62,625.05 219.14,625 219.65,624.24 220.17,624.24 220.69,625.21 221.21,624.95 221.72,624.94 222.24,624.85 222.76,625.24 223.27,624.86 223.79,625.49 224.31,625.43 224.83,625.31 225.34,624.48 225.86,625.45 226.22,623.05 226.38,613.72 226.69,629.27 227,622.61 227.41,622.35 227.93,622.13 228.45,621.71 228.96,620.91 229.48,620.91 230,621.07 230.52,620.89 231.03,620.65 231.55,619.21 232.07,618.78 232.59,617.93 233.1,617.78 233.62,618.46 234.14,617.54 234.65,616.82 235.17,616.4 235.69,616.35 236.21,616.29 236.72,615.9 237.24,615.03 237.76,615.25 238.28,614.72 238.79,614.37 239.31,613.32 239.83,612.94 240.34,612.38 240.86,612.09 241.38,612.53 241.9,612.54 242.41,611.94 242.93,611.82 243.45,611.3 243.96,610.52 244.48,609.67 245,609.61 245.52,609.02 246.03,609.62 246.55,609.22 247.07,607.91 247.59,608.45 248.1,608.01 248.62,608.13 249.14,607.9 249.65,606.42 250.17,605.53 250.69,605.48 251.21,605.97 251.72,605.66 252.24,605.41 252.76,604.46 253.28,603.87 253.79,603.78 254.31,603.39 254.83,603.61 255.34,602.83 255.86,601.73 256.38,601.39 256.74,607.61 256.9,599.28 257.21,609.83 257.52,607.7 257.93,607.49 258.45,608.09 258.55,607.87 258.71,603.72 259.02,610.39 259.33,607.96 259.48,607.87 260,607.73 260.52,608.16 261.03,607.5 261.55,607.63 262.07,608.02 262.59,608.83 263.1,608.73 263.62,609.34 264.14,608.79 264.65,608.23 265.17,609.09 265.69,608.97 266.21,609.01 266.72,609.19 267.24,608.86 267.76,608.47 268.28,608.71 268.79,609.18 269.31,608.69 269.83,609.48 270.34,609.2 270.86,609.28 271.38,609.21 271.9,609.1 272.41,610.02 272.93,609.82 273.45,610.11 273.97,609.88 274.48,609.4 275,609.77 275.52,610.85 275.88,603.72 276.03,596.05 276.34,612.61 276.66,602.15 277.07,600.48 277.59,599.39 278.1,597.96 278.62,597.8 279.14,595.63 279.66,594.39 280.17,593.37 280.69,591.83 281.21,590.57 281.72,590.54 282.24,588.77 282.76,587.51 283.28,587.2 283.79,585.6 284.31,584.6 284.83,584.15 285.34,582.45 285.86,582.17 286.38,580.74 286.9,579.88 287.41,579.21 287.93,577.92 288.45,577 288.97,576.47 289.48,574.6 290,574.66 290.52,574.22 291.03,572.81 291.55,571.25 292.07,570.44 292.59,569.47 293.1,569 293.62,568.04 294.14,567.69 294.66,567.17 295.17,566.14 295.69,565.99 296.21,565.38 296.72,563.72 297.24,563.51 297.76,562.14 298.28,561.17 298.79,560.93 299.31,560.02 299.83,559.11 300.35,558.25 300.86,558.59 301.38,558.25 301.9,557.41 302.41,556.6 302.93,556.16 303.45,556.04 303.97,554.82 304.48,553.43 305,553.44 305.52,552.82 306.03,552.48 306.55,551.92 307.07,554.86 307.59,556.47 308.1,557.17 308.62,558.27 309.14,559.18 309.66,559.54 310.17,561.44 310.69,561.59 311.21,562.93 311.72,563.44 312.24,563.92 312.76,564.8 313.28,565.97 313.79,566.22 314.31,567.85 314.83,568.09 315.35,568.98 315.86,569.52 316.38,569.66 316.9,570.21 317.41,571.04 317.93,572.19 318.45,573.08 318.97,573.44 319.48,574.25 320,574.83 320.52,574.39 321.04,575.8 321.55,575.6 322.07,576.48 322.59,577.13 322.95,577.39 323.1,577.06 323.41,585.28 323.72,577.94 324.14,578.62 324.24,578.52 324.4,574.84 324.71,584.83 325.02,579.04 325.17,579.46 325.69,575.45 326.21,570.47 326.72,566.05 327.24,562.82 327.76,558.93 328.28,554.88 328.79,552.1 329.31,549.22 329.83,546.03 330.35,542.9 330.86,539.17 331.38,536.44 331.9,533.61 332.41,530.32 332.93,528.24 333.45,525.03 333.97,522.61 334.48,520.5 335,517.74 335.52,516.01 336.04,513.23 336.55,510.89 337.07,509.34 337.59,507.32 338.1,505.02 338.62,503.32 339.14,501.63 339.66,499.75 340.17,497.96 340.69,496.58 341.21,494.76 341.73,494.21 342.24,492.6 342.76,491.09 343.28,490.15 343.79,488.91 344.31,488.05 344.83,485.82 345.35,485.16 345.86,484.05 346.38,482.33 346.9,482.11 347.41,480.25 347.93,480.17 348.45,479.69 348.97,478.45 349.48,477.46 350,475.75 350.52,474.66 351.04,473.96 351.55,473.67 352.07,472.95 352.59,472.68 353.1,471.26 353.62,470.99 354.14,470.62 354.66,469.59 355.17,469.54 355.69,468.89 356.21,467.44 356.73,467.77 356.83,466.41 356.98,463.74 357.29,475.96 357.6,469.2 357.76,470.55 358.28,472.81 358.79,474.87 359.31,477.34 359.83,479.59 360.35,481.98 360.86,484.2 361.38,485.85 361.9,488.24 362.42,490.43 362.93,492.04 363.45,494.99 363.97,496.92 364.48,497.72 365,499.75 365.52,501.1 366.04,503.66 366.55,505.13 367.07,506.15 367.59,508.26 368.1,509.39 368.62,511.04 369.14,512.95 369.66,513.78 370.17,515.87 370.69,517.42 371.21,518.7 371.73,520.53 372.24,521.36 372.76,522.94 373.28,524.37 373.79,525.77 374.31,526.46 374.83,527.55 375.35,528.99 375.86,530.9 376.38,532.37 376.9,533.33 377.42,535.02 377.93,536.19 378.45,535.98 378.97,537.83 379.48,537.95 380,538.95 380.52,539.56 381.04,541.6 381.55,542.58 382.07,542.82 382.59,544.65 383.11,545.67 383.62,546.23 384.14,547.23 384.66,548.17 385.17,548.3 385.69,549.73 386.21,549.46 386.73,550.34 387.24,552.03 387.76,551.91 388.28,553.33 388.79,553.99 389.31,554.65 389.83,556.04 390.35,556.54 390.86,557.9 391.38,558.72 391.9,558.51 392.42,559.09 392.93,560.21 393.45,560.87 393.97,561.33 394.48,563.05 395,563.64 395.52,564.86 396.04,565.75 396.55,566.54 397.07,567.12 397.59,568.02 398.11,568.56 398.62,568.97 399.14,569.17 399.66,569.33 400.17,569.74 400.69,570.58 401.21,571.6 401.73,571.8 402.24,573.33 402.76,574.35 403.28,574.06 403.8,574.63 404.31,575.83 404.83,576.4 405.35,577.02 405.86,577.35 406.38,577.79 406.9,578.3 407.42,578.22 407.93,578.48 408.45,579.19 408.97,579.79 409.48,580.51 410,580.3 410.52,580.15 411.04,581.43 411.55,581.42 412.07,581.62 412.59,581.96 413.11,583.2 413.62,583.1 414.14,583.78 414.66,584.24 415.17,584.02 415.69,584.04 416.21,584.26 416.73,584.36 417.24,584.64 417.76,585.26 418.28,586.26 418.8,585.74 419.31,585.67 419.83,585.8 420.35,586.36 420.86,587.55 421.38,587.9 421.9,588.32 422.42,587.87 422.93,588.01 423.45,588.75 423.97,588.06 424.49,587.94 425,588.16 425.52,589.01 426.04,589.71 426.55,590.22 427.07,589.67 427.59,589.79 428.11,590.57 428.62,590.08 429.14,590.52 429.66,591.03 430.17,591.34 430.69,591.14 431.21,591.56 431.73,591.53 432.24,592.42 432.76,592.01 433.28,592.6 433.8,592.01"/>
<path class="sp" d="M113.4 635.38V644.27M127.62 619.61V641.49M158.4 627.72V635.38M159.69 629.83V634.83M177.02 613.39V635.38M208.32 619.83V626.49M210.38 620.94V625.94M226.68 613.72V629.27M257.2 599.28V609.83M259.01 603.72V610.39M276.33 596.05V612.61M323.4 577.06V585.28M324.7 574.84V584.83M357.28 463.74V475.96"/>
<polyline class="k" points="112.07,640.38 112.7,640.38 113.34,640.38 113.97,640.38 114.61,640.38 115.25,640.38 115.88,640.38 116.52,640.38 117.15,640.38 117.79,640.38 118.42,640.38 119.06,640.38 119.7,640.38 120.33,640.38 120.97,640.38 121.6,640.38 122.24,640.38 122.87,640.38 123.51,640.38 124.15,640.38 124.78,640.38 125.42,640.38 126.05,640.38 126.69,640.38 127.32,640.38 127.32,636.94 128.61,636.79 129.89,636.65 131.17,636.51 132.45,636.36 133.74,636.22 135.02,636.08 136.3,635.93 137.58,635.79 138.87,635.65 140.15,635.5 141.43,635.36 142.71,635.22 144,635.07 145.28,634.93 146.56,634.78 147.84,634.64 149.12,634.5 150.41,634.35 151.69,634.21 152.97,634.07 154.25,633.92 155.54,633.78 156.82,633.64 158.1,633.49 158.1,637.6 158.88,637.64 159.65,637.67 160.43,637.7 161.2,637.73 161.98,637.77 162.76,637.8 163.53,637.83 164.31,637.86 165.08,637.9 165.86,637.93 166.64,637.96 167.41,637.99 168.19,638.02 168.96,638.06 169.74,638.09 170.52,638.12 171.29,638.15 172.07,638.19 172.84,638.22 173.62,638.25 174.39,638.28 175.17,638.32 175.95,638.35 176.72,638.38 176.72,631.16 178.03,630.82 179.33,630.48 180.63,630.15 181.94,629.81 183.24,629.47 184.55,629.13 185.85,628.79 187.15,628.46 188.46,628.12 189.76,627.78 191.07,627.44 192.37,627.11 193.67,626.77 194.98,626.43 196.28,626.09 197.58,625.75 198.89,625.42 200.19,625.08 201.5,624.74 202.8,624.4 204.1,624.06 205.41,623.73 206.71,623.39 208.02,623.05 208.02,630.83 208.78,630.89 209.55,630.95 210.31,631.01 211.08,631.07 211.84,631.13 212.61,631.19 213.37,631.25 214.14,631.31 214.9,631.37 215.67,631.43 216.43,631.49 217.2,631.55 217.96,631.61 218.73,631.67 219.49,631.73 220.26,631.79 221.02,631.85 221.79,631.91 222.55,631.97 223.32,632.03 224.08,632.09 224.85,632.15 225.61,632.21 226.38,632.27 226.38,623.05 227.65,622.16 228.92,621.26 230.19,620.37 231.46,619.48 232.74,618.58 234.01,617.69 235.28,616.8 236.55,615.9 237.82,615.01 239.09,614.12 240.37,613.22 241.64,612.33 242.91,611.44 244.18,610.54 245.45,609.65 246.72,608.76 248,607.86 249.27,606.97 250.54,606.08 251.81,605.18 253.08,604.29 254.35,603.4 255.62,602.5 256.9,601.61 256.9,610.94 257.69,611.17 258.49,611.4 259.29,611.64 260.09,611.87 260.88,612.1 261.68,612.33 262.48,612.56 263.28,612.79 264.07,613.02 264.87,613.26 265.67,613.49 266.47,613.72 267.26,613.95 268.06,614.18 268.86,614.41 269.65,614.64 270.45,614.88 271.25,615.11 272.05,615.34 272.84,615.57 273.64,615.8 274.44,616.03 275.24,616.26 276.03,616.5 276.03,605.28 277.32,601.88 278.6,598.59 279.88,595.4 281.16,592.31 282.45,589.32 283.73,586.41 285.01,583.6 286.29,580.87 287.58,578.23 288.86,575.66 290.14,573.18 291.42,570.77 292.7,568.44 293.99,566.18 295.27,563.99 296.55,561.86 297.83,559.81 299.12,557.81 300.4,555.88 301.68,554 302.96,552.18 304.25,550.42 305.53,548.72 306.81,547.06 306.81,551.95 307.58,553.19 308.35,554.4 309.12,555.59 309.89,556.76 310.66,557.9 311.43,559.02 312.2,560.11 312.97,561.18 313.75,562.23 314.52,563.26 315.29,564.27 316.06,565.25 316.83,566.22 317.6,567.16 318.37,568.09 319.14,569 319.91,569.89 320.68,570.76 321.45,571.61 322.22,572.44 322.99,573.26 323.76,574.06 324.53,574.85 325.3,575.61 325.3,575.61 326.62,565.31 327.94,555.95 329.26,547.45 330.58,539.72 331.9,532.7 333.22,526.32 334.54,520.52 335.86,515.25 337.18,510.47 338.5,506.12 339.82,502.17 341.14,498.58 342.46,495.31 343.78,492.35 345.1,489.66 346.42,487.21 347.74,484.99 349.06,482.97 350.38,481.13 351.7,479.46 353.02,477.95 354.34,476.57 355.66,475.32 356.98,474.18 356.98,474.18 360.18,485.77 363.38,496.41 366.59,506.18 369.79,515.15 372.99,523.38 376.19,530.94 379.39,537.88 382.59,544.25 385.79,550.1 388.99,555.48 392.19,560.41 395.39,564.94 398.59,569.09 401.79,572.91 404.99,576.42 408.19,579.63 411.39,582.59 414.59,585.3 417.79,587.79 420.99,590.08 424.19,592.18 427.39,594.1 430.6,595.87 433.8,597.5"/>
<rect class="fr" x="75.6" y="441.3" width="413.8" height="221.3"/>
<path class="tk" d="M75.6 662.6v4M127.32 662.6v4M179.05 662.6v4M230.77 662.6v4M282.5 662.6v4M334.23 662.6v4M385.95 662.6v4M437.67 662.6v4M489.4 662.6v4M75.6 640.38h-4M75.6 595.94h-4M75.6 551.51h-4M75.6 507.07h-4M75.6 462.63h-4"/>
<text transform="translate(72.1 688) scale(1.12 1)" font-size="16.95" text-anchor="middle" class="s">- 200</text>
<text transform="translate(127.32 688) scale(1.12 1)" font-size="16.95" text-anchor="middle" class="s">0</text>
<text transform="translate(179.05 688) scale(1.12 1)" font-size="16.95" text-anchor="middle" class="s">200</text>
<text transform="translate(230.77 688) scale(1.12 1)" font-size="16.95" text-anchor="middle" class="s">400</text>
<text transform="translate(282.5 688) scale(1.12 1)" font-size="16.95" text-anchor="middle" class="s">600</text>
<text transform="translate(334.23 688) scale(1.12 1)" font-size="16.95" text-anchor="middle" class="s">800</text>
<text transform="translate(389.2 688) scale(1.12 1)" font-size="16.95" text-anchor="middle" class="s">1,000</text>
<text transform="translate(440.8 688) scale(1.12 1)" font-size="16.95" text-anchor="middle" class="s">1,200</text>
<text transform="translate(494.4 688) scale(1.12 1)" font-size="16.95" text-anchor="middle" class="s">1,400</text>
<text transform="translate(64.2 646.68) scale(1.12 1)" font-size="16.95" text-anchor="end" class="s">0</text>
<text transform="translate(64.2 602.24) scale(1.12 1)" font-size="16.95" text-anchor="end" class="s">4</text>
<text transform="translate(64.2 557.81) scale(1.12 1)" font-size="16.95" text-anchor="end" class="s">8</text>
<text transform="translate(64.2 513.37) scale(1.12 1)" font-size="16.95" text-anchor="end" class="s">12</text>
<text transform="translate(64.2 468.93) scale(1.12 1)" font-size="16.95" text-anchor="end" class="s">16</text>
<text transform="translate(92.8 417.7) scale(1.06 1)" font-size="33.1" text-anchor="start">Fc(aMD4)T1 (<tspan font-style="italic">K</tspan><tspan font-size="17" dy="11.5" dx="-1.2">D</tspan><tspan dy="-11.5" dx="0.6"> = 75.8 nM)</tspan></text>
<text transform="translate(284.5 729.9) scale(1.06 1)" font-size="33.1" text-anchor="middle">Time (s)</text>
<text transform="translate(25.1 551.9) scale(1.12 1) rotate(-90)" font-size="31.55" text-anchor="middle">SPR signal (RU)</text>
<text transform="translate(131.9 621) scale(1.12 1)" font-size="16.95" text-anchor="start" class="s">3</text>
<text transform="translate(175.4 611.5) scale(1.12 1)" font-size="16.95" text-anchor="start" class="s">10</text>
<text transform="translate(220.4 596.2) scale(1.12 1)" font-size="16.95" text-anchor="start" class="s">30</text>
<text transform="translate(268.1 547.6) scale(1.12 1)" font-size="16.95" text-anchor="start" class="s">100</text>
<text transform="translate(317.4 461.2) scale(1.12 1)" font-size="16.95" text-anchor="start" class="s">300 nM</text>
</g>
<g>
<polyline class="r" points="721.48,617.49 722,616.67 722.52,616.64 722.49,616.2 722.65,599.36 722.96,624.88 723.27,615.87 723.55,615.35 724.07,616.4 724.59,616.72 725.11,614.57 725.63,615.1 726.15,615.16 726.67,613.08 727.19,613.5 727.71,612.54 728.23,612.93 728.75,612.47 729.27,613.36 729.79,612.27 730.3,611.12 730.82,611.4 731.34,610.77 731.86,610.54 732.38,611.82 732.9,610.33 733.42,610.05 733.94,610.5 734.46,611.16 734.98,609.1 735.5,609.19 736.02,608.42 736.54,607.56 736.77,607.12 736.92,550.82 737.24,634.86 737.55,606.81 737.57,605.41 738.09,606.32 738.61,605.45 739.13,605.87 739.65,604.61 740.17,604.15 740.69,605.79 741.21,606.1 741.73,605.83 742.25,603.68 742.77,604.1 743.29,603.59 743.81,604.07 744.32,603.55 744.84,603.5 745.36,603.41 745.88,602.62 746.4,602.17 746.92,601.04 747.44,601.04 747.96,600.25 748.48,599.98 749,599.38 749.52,599.81 750.04,601.08 750.56,599.59 751.07,598.64 751.59,598.29 752.11,598.85 752.63,598.54 753.15,599.67 753.67,598.42 754.19,598.57 754.71,599.27 755.23,600 755.75,598.19 756.27,597.14 756.79,598.97 757.31,597.74 757.82,598.22 758.34,598.97 758.86,598.8 759.38,597.47 759.9,596.67 760.42,598.4 760.94,597.5 761.46,598.54 761.98,597.14 762.5,597.55 763.02,596.23 763.54,595.44 764.06,596.29 764.58,595.27 765.09,596.58 765.61,597.55 766.13,596.5 766.65,597.49 767.17,597.35 767.69,596.69 767.66,596.01 767.82,586.04 768.13,619.61 768.44,595.87 768.73,596.66 769.25,597.15 769.22,595.67 769.38,590.48 769.69,604.35 770,595.53 770.29,595.8 770.81,594.31 771.33,593.88 771.84,594.96 772.36,595.06 772.88,594.87 773.4,594.42 773.92,594.3 774.44,594.28 774.96,594.05 775.48,593.08 776,593.77 776.52,594.12 777.04,593.45 777.56,594.35 778.08,594.44 778.59,592.68 779.11,593.15 779.63,593.17 780.15,594.46 780.67,593.82 781.19,593.1 781.71,594.19 782.23,593 782.75,592.46 783.27,593.65 783.79,592.55 784.31,592.5 784.83,591.88 785.35,592.41 785.86,591.62 786.38,591.2 786.62,591.87 786.77,543.61 787.08,628.21 787.4,591.78 787.42,593.21 787.94,591.75 788.46,590.47 788.98,591.76 789.5,591.65 790.02,591.21 790.54,591.7 791.06,591.7 791.58,591.78 792.1,591.62 792.61,590.94 793.13,591.39 793.65,591.31 794.17,590.23 794.69,591.68 795.21,590.77 795.73,589.98 796.25,590.73 796.77,591.16 797.29,589.79 797.81,590.69 798.33,591.08 798.85,590.54 799.36,589.64 799.88,590.78 800.4,590.57 800.92,590.41 801.44,589.05 801.96,589.52 802.48,588.58 803,589.93 803.52,589.93 804.04,589.08 804.56,588.15 805.08,588.86 805.6,589.63 806.12,590.11 806.63,589.2 807.15,589.68 807.67,588.25 808.19,587.61 808.71,588.99 809.23,589.18 809.75,587.87 810.27,587.77 810.79,587.27 811.31,588.21 811.83,589.03 812.35,588.86 812.87,587.48 813.38,588.26 813.9,588.3 814.42,588.08 814.94,587.95 815.46,587.88 815.98,586.51 816.5,587.91 817.02,588.73 817.54,586.6 817.77,588.82 817.93,572.73 818.24,604.35 818.55,588.85 818.58,587.22 819.1,588.48 819.62,587.64 820.13,587.42 820.65,589.15 821.17,588.45 821.15,589.02 821.3,573.84 821.61,594.64 821.93,589.05 822.21,588.29 822.73,588.78 823.25,589.55 823.77,589.71 824.29,590.07 824.81,590.62 825.33,589.52 825.85,589.91 826.37,588.75 826.89,590.29 827.4,588.69 827.92,588.67 828.44,588.11 828.96,588 829.48,587.97 830,588.8 830.52,590.53 831.04,589.31 831.56,590.35 832.08,590.41 832.6,589.53 833.12,589.59 833.64,589.92 834.15,588.72 834.67,589.15 835.19,590 835.71,590.54 836.23,589.22 836.75,589.74 836.72,589.93 836.88,528.35 837.19,609.62 837.5,589.68 837.79,589.67 838.31,590.17 838.83,589.36 839.35,588.23 839.87,589.33 840.39,588.02 840.9,587.1 841.42,586.93 841.94,586.7 842.46,588.55 842.98,587.49 843.5,586.4 844.02,587.94 844.54,587.78 845.06,587.6 845.58,586.75 846.1,586.59 846.62,586.27 847.14,585.26 847.66,586.73 848.17,586.98 848.69,586.75 849.21,586.54 849.73,586.48 850.25,584.04 850.77,583.36 851.29,584.92 851.81,584.29 852.33,584.41 852.85,584.32 853.37,584.06 853.89,583.09 854.41,582.77 854.92,583.1 855.44,583.51 855.96,583.17 856.48,583.44 857,582.31 857.52,581.38 858.04,581.77 858.56,582.53 859.08,582.41 859.6,581.75 860.12,580.8 860.64,579.89 861.16,580.45 861.67,579.45 862.19,579.42 862.71,579.76 863.23,579.89 863.75,579.5 864.27,578.7 864.79,579.01 865.31,578.29 865.83,578.49 866.35,578.98 866.87,578.28 867.1,580.5 867.26,562.75 867.57,607.4 867.88,580.59 867.91,581.52 868.43,581.18 868.94,581.11 869.46,579.99 869.98,579.5 870.5,580.8 871.02,579.98 871.54,580.02 872.06,581.41 872.58,581.44 873.1,582.36 873.62,580.99 874.14,580.94 874.66,580.41 875.18,580.51 875.69,580.91 876.21,580.93 876.73,581.42 877.25,582.8 877.77,582.11 878.29,583.39 878.81,583.53 879.33,582.04 879.85,583.41 880.37,583.82 880.89,584 881.41,582.13 881.93,583.3 882.44,584.15 882.96,582.44 882.94,582.81 883.09,579.39 883.41,597.42 883.72,582.91 884,582.37 884.52,582.38 885.04,582.03 885.56,581.66 886.08,582.52 886.05,584.94 886.21,542.22 886.52,598.25 886.83,584.32 887.12,584.85 887.64,583.13 888.16,582.85 888.68,581.91 889.2,582.8 889.71,581.17 890.23,579.81 890.75,581.23 891.27,580.75 891.79,579.66 892.31,578.31 892.83,579.01 893.35,579.11 893.87,578.67 894.39,577.3 894.91,576.17 895.43,576.39 895.95,576.25 896.46,575.84 896.98,575.53 897.5,574.96 898.02,575.33 898.54,574.13 899.06,572.24 899.58,572.72 900.1,571.77 900.62,572.65 901.14,571.35 901.66,570.47 902.18,570.1 902.7,570.11 903.21,569.94 903.73,569.22 904.25,568.07 904.77,569.31 905.29,569.63 905.81,567.84 906.33,566.55 906.85,566.86 907.37,566.91 907.89,565.99 908.41,566.78 908.93,566.61 909.45,566.49 909.97,565.24 910.48,565.26 911,565.24 911.52,563.85 912.04,562.48 912.56,563.44 913.08,562.52 913.6,562.71 914.12,561.45 914.64,561.48 915.16,562.07 915.68,562.19 916.2,562.51 916.72,561.27 917.23,560.87 917.75,561.05 917.73,564.13 917.88,557.2 918.2,581.05 918.51,564.9 918.79,565.95 919.31,565.44 919.83,567.27 920.35,566.19 920.58,567.65 920.74,562.75 921.05,573.84 921.36,568.3 921.39,567.95 921.91,568.27 922.43,567.47 922.95,567.24 923.47,567.84 923.98,568.25 924.5,567.8 925.02,567.31 925.54,568.31 926.06,567.83 926.58,567.1 927.1,568.1 927.62,569.06 928.14,569.4 928.66,568.31 929.18,568.04 929.7,567.25 930.22,567.25 930.74,568.8 931.25,569.49 931.77,569.57 932.29,569.79 932.81,568.57 933.33,567.77 933.31,568.73 933.46,561.36 933.77,586.04 934.08,568.75 934.37,568.91 934.89,567.91 935.41,568.96 935.93,569.07 936.45,568.34 936.68,567.74 936.84,525.3 937.15,614.06 937.46,565.42 937.49,566.66 938,563.02 938.52,561.94 939.04,560.22 939.56,557.91 940.08,555.75 940.6,555.56 941.12,553.63 941.64,551.63 942.16,549.79 942.68,548.84 943.2,546.57 943.72,543.91 944.24,543.44 944.75,541.99 945.27,541.66 945.79,540.27 946.31,537.95 946.83,537.68 947.35,534.84 947.87,532.97 948.39,533.59 948.91,530.92 949.43,530.65 949.95,528.84 950.47,527.51 950.99,527.52 951.51,525.88 952.02,524.69 952.54,523.24 953.06,523.45 953.58,521.68 954.1,519.92 954.62,519.43 955.14,519.03 955.66,519.36 956.18,517.98 956.7,517.3 957.22,515.61 957.74,514.59 958.26,514 958.77,514.28 959.29,512.7 959.81,511.72 960.33,512.05 960.85,509.91 961.37,509.31 961.89,510 962.41,507.78 962.93,508.58 963.45,507.97 963.97,506.38 964.49,505.73 965.01,505.24 965.52,504.46 966.04,504.3 966.56,504.26 966.8,507.27 966.95,494.23 967.26,521.14 967.58,508.78 967.6,510.27 968.12,510.06 968.64,510.7 969.16,512.28 969.68,513.16 970.2,515.24 970.72,516.69 971.24,517.51 971.76,517.17 972.28,519.75 972.79,520.09 973.31,521.47 973.83,520.95 974.35,522.17 974.87,523.02 975.39,523.51 975.91,523.71 976.43,523.57 976.95,524.94 977.47,524.53 977.99,526.6 978.51,527.28 979.03,528.31 979.54,529 980.06,527.91 980.58,527.99 981.1,529.74 981.62,530.69 982.14,530.79 982.66,530.35 983.18,530.35 983.7,530.84 984.22,531.73 984.74,533.49 985.26,533.8 985.78,534.75 986.29,534.57 986.81,534.57 987.33,535.71 987.85,536.19 988.37,535.24 988.89,537.01 989.41,535.89 989.93,535.48 990.45,535.39 990.97,536.99 991.49,537.32 992.01,537.56 992.53,537.72 993.05,537.11 993.56,537.81 994.08,539.22 994.6,538.49 995.12,539.38 995.64,539.58 996.16,539.52 996.68,541.51 997.2,540.44 997.72,540.52 998.24,541.16 998.76,541.48 999.28,541.93 999.8,542.96 1000.31,542.66 1000.83,543.98 1001.35,543.46 1001.87,543.1 1002.39,543.67 1002.91,543.81 1003.43,543.1 1003.95,543.26 1004.47,545.46 1004.99,544.81 1005.51,545.24 1006.03,547.06 1006.55,547.15 1007.06,547.72 1007.58,548.54 1008.1,547.89 1008.62,546.9 1009.14,548.3 1009.66,547.63 1010.18,548.05 1010.7,549.83 1011.22,548.84 1011.74,549.36 1012.26,548.94 1012.78,549.53 1013.3,549.88 1013.82,551.21 1014.33,550.72 1014.85,550.44 1015.37,550.72 1015.89,552.09 1016.41,551.96 1016.93,552.81 1017.45,554.25 1017.97,555.12 1018.49,555.54 1019.01,555.57 1019.53,555.87 1020.05,555.32 1020.57,554.81 1021.08,555.23 1021.6,555.86 1022.12,555.66 1022.64,556.55 1023.16,556.57 1023.68,555.95 1024.2,556.75 1024.72,557.7 1025.24,556.33 1025.76,556.39 1026.28,557.39 1026.8,557.82 1027.32,557.67 1027.83,557.54 1028.35,558.53 1028.87,559.51 1029.39,559.43 1029.91,558.03 1030.43,559.24 1030.95,558.96 1031.47,559.61 1031.99,559.88 1032.51,560.15 1033.03,559.74 1033.55,560.27 1034.07,560.89 1034.59,560.98 1035.1,560.93 1035.62,560.14 1036.14,561.01 1036.66,561.46 1037.18,560.59 1037.7,560.45 1038.22,559.7 1038.74,561.12 1039.26,560.78 1039.78,560.71 1040.3,561.67 1040.82,559.68 1041.34,560.91 1041.85,561.69 1042.37,561.04 1042.89,561.63 1043.41,560.72 1043.93,561.14 1044.45,561.88"/>
<path class="sp" d="M722.95 599.36V624.88M737.22 550.82V634.86M768.12 586.04V619.61M769.68 590.48V604.35M787.07 543.61V628.21M818.23 572.73V604.35M821.6 573.84V594.64M837.18 528.35V609.62M867.56 562.75V607.4M883.39 579.39V597.42M886.51 542.22V598.25M918.18 557.2V581.05M921.04 562.75V573.84M933.76 561.36V586.04M937.14 525.3V614.06M967.25 494.23V521.14"/>
<polyline class="k" points="721.48,607.12 722.12,607.12 722.76,607.12 723.41,607.12 724.05,607.12 724.7,607.12 725.34,607.12 725.98,607.12 726.63,607.12 727.27,607.12 727.91,607.12 728.56,607.12 729.2,607.12 729.84,607.12 730.49,607.12 731.13,607.12 731.78,607.12 732.42,607.12 733.06,607.12 733.71,607.12 734.35,607.12 734.99,607.12 735.64,607.12 736.28,607.12 736.92,607.12 736.92,601.3 738.21,601.18 739.5,601.07 740.79,600.96 742.07,600.86 743.36,600.76 744.65,600.66 745.94,600.57 747.22,600.47 748.51,600.39 749.8,600.3 751.09,600.22 752.37,600.14 753.66,600.06 754.95,599.99 756.23,599.91 757.52,599.84 758.81,599.77 760.1,599.71 761.38,599.65 762.67,599.58 763.96,599.53 765.25,599.47 766.53,599.41 767.82,599.36 767.82,604.91 768.61,604.93 769.4,604.95 770.19,604.98 770.98,605 771.77,605.02 772.56,605.04 773.35,605.07 774.14,605.09 774.93,605.11 775.72,605.14 776.51,605.16 777.3,605.18 778.09,605.21 778.88,605.23 779.67,605.25 780.46,605.28 781.25,605.3 782.03,605.32 782.82,605.35 783.61,605.37 784.4,605.39 785.19,605.41 785.98,605.44 786.77,605.46 786.77,591.04 788.07,590.81 789.37,590.58 790.67,590.37 791.97,590.16 793.26,589.95 794.56,589.76 795.86,589.57 797.16,589.39 798.46,589.21 799.75,589.04 801.05,588.87 802.35,588.71 803.65,588.56 804.95,588.41 806.24,588.26 807.54,588.12 808.84,587.99 810.14,587.86 811.44,587.73 812.74,587.61 814.03,587.49 815.33,587.37 816.63,587.26 817.93,587.15 817.93,601.3 818.72,601.35 819.51,601.39 820.3,601.44 821.09,601.49 821.88,601.53 822.67,601.58 823.46,601.62 824.25,601.67 825.04,601.72 825.82,601.76 826.61,601.81 827.4,601.85 828.19,601.9 828.98,601.95 829.77,601.99 830.56,602.04 831.35,602.09 832.14,602.13 832.93,602.18 833.72,602.22 834.51,602.27 835.3,602.32 836.09,602.36 836.88,602.41 836.88,591.04 838.15,590.49 839.41,589.95 840.68,589.41 841.94,588.86 843.21,588.32 844.47,587.78 845.74,587.23 847.01,586.69 848.27,586.15 849.54,585.61 850.8,585.06 852.07,584.52 853.33,583.98 854.6,583.43 855.87,582.89 857.13,582.35 858.4,581.8 859.66,581.26 860.93,580.72 862.19,580.17 863.46,579.63 864.73,579.09 865.99,578.54 867.26,578 867.26,587.99 868.05,588.11 868.84,588.24 869.63,588.37 870.42,588.49 871.21,588.62 871.99,588.75 872.78,588.88 873.57,589 874.36,589.13 875.15,589.26 875.94,589.38 876.73,589.51 877.52,589.64 878.31,589.77 879.1,589.89 879.89,590.02 880.68,590.15 881.47,590.27 882.26,590.4 883.05,590.53 883.84,590.66 884.63,590.78 885.42,590.91 886.21,591.04 886.21,591.04 887.53,588.99 888.85,587.02 890.17,585.12 891.49,583.29 892.81,581.53 894.13,579.83 895.45,578.2 896.77,576.62 898.09,575.1 899.41,573.64 900.73,572.24 902.05,570.88 903.37,569.58 904.69,568.32 906.01,567.11 907.33,565.94 908.65,564.82 909.97,563.74 911.28,562.69 912.6,561.69 913.92,560.72 915.24,559.79 916.56,558.89 917.88,558.03 917.88,559.42 918.67,559.83 919.46,560.24 920.25,560.65 921.04,561.04 921.83,561.43 922.62,561.82 923.41,562.2 924.2,562.57 924.99,562.93 925.78,563.29 926.57,563.64 927.36,563.99 928.15,564.33 928.94,564.67 929.73,565 930.52,565.32 931.31,565.64 932.1,565.96 932.89,566.27 933.68,566.57 934.47,566.87 935.26,567.16 936.05,567.45 936.84,567.74 936.84,567.74 938.09,563.28 939.35,559.1 940.6,555.2 941.86,551.55 943.11,548.13 944.37,544.94 945.62,541.95 946.88,539.15 948.13,536.53 949.38,534.09 950.64,531.8 951.89,529.65 953.15,527.65 954.4,525.77 955.66,524.02 956.91,522.38 958.17,520.84 959.42,519.41 960.68,518.06 961.93,516.81 963.19,515.63 964.44,514.53 965.7,513.5 966.95,512.54 966.95,515.59 970.19,518.89 973.42,522.04 976.66,525.05 979.89,527.92 983.13,530.66 986.36,533.28 989.59,535.79 992.83,538.18 996.06,540.47 999.3,542.65 1002.53,544.73 1005.77,546.72 1009,548.63 1012.24,550.44 1015.47,552.18 1018.7,553.84 1021.94,555.42 1025.17,556.93 1028.41,558.38 1031.64,559.76 1034.88,561.08 1038.11,562.33 1041.35,563.54 1044.58,564.69"/>
<rect class="fr" x="685" y="440.7" width="415.4" height="221.9"/>
<path class="tk" d="M685 662.6v4M736.92 662.6v4M788.85 662.6v4M840.78 662.6v4M892.7 662.6v4M944.62 662.6v4M996.55 662.6v4M1048.48 662.6v4M1100.4 662.6v4M685 662.6h-4M685 607.12h-4M685 551.65h-4M685 496.18h-4M685 440.7h-4"/>
<text transform="translate(681.5 688) scale(1.12 1)" font-size="16.95" text-anchor="middle" class="s">- 200</text>
<text transform="translate(736.92 688) scale(1.12 1)" font-size="16.95" text-anchor="middle" class="s">0</text>
<text transform="translate(788.85 688) scale(1.12 1)" font-size="16.95" text-anchor="middle" class="s">200</text>
<text transform="translate(840.78 688) scale(1.12 1)" font-size="16.95" text-anchor="middle" class="s">400</text>
<text transform="translate(892.7 688) scale(1.12 1)" font-size="16.95" text-anchor="middle" class="s">600</text>
<text transform="translate(944.62 688) scale(1.12 1)" font-size="16.95" text-anchor="middle" class="s">800</text>
<text transform="translate(999.95 688) scale(1.12 1)" font-size="16.95" text-anchor="middle" class="s">1,000</text>
<text transform="translate(1051.88 688) scale(1.12 1)" font-size="16.95" text-anchor="middle" class="s">1,200</text>
<text transform="translate(1104.3 688) scale(1.12 1)" font-size="16.95" text-anchor="middle" class="s">1,400</text>
<text transform="translate(671.5 668.9) scale(1.12 1)" font-size="16.95" text-anchor="end" class="s">-2</text>
<text transform="translate(671.5 613.42) scale(1.12 1)" font-size="16.95" text-anchor="end" class="s">0</text>
<text transform="translate(671.5 557.95) scale(1.12 1)" font-size="16.95" text-anchor="end" class="s">2</text>
<text transform="translate(671.5 502.48) scale(1.12 1)" font-size="16.95" text-anchor="end" class="s">4</text>
<text transform="translate(671.5 447) scale(1.12 1)" font-size="16.95" text-anchor="end" class="s">6</text>
<text transform="translate(710.4 417.7) scale(1.06 1)" font-size="33.1" text-anchor="start">Fc(aMD4)M2 (<tspan font-style="italic">K</tspan><tspan font-size="17" dy="11.5" dx="-1.2">D</tspan><tspan dy="-11.5" dx="0.6"> = 18.9 nM)</tspan></text>
<text transform="translate(892.7 727.8) scale(1.06 1)" font-size="33.1" text-anchor="middle">Time (s)</text>
<text transform="translate(628 555.6) scale(1.12 1) rotate(-90)" font-size="31.55" text-anchor="middle">SPR signal (RU)</text>
<text transform="translate(747.9 591.8) scale(1.12 1)" font-size="16.95" text-anchor="start" class="s">1</text>
<text transform="translate(792.4 580.9) scale(1.12 1)" font-size="16.95" text-anchor="start" class="s">3</text>
<text transform="translate(840.2 562.9) scale(1.12 1)" font-size="16.95" text-anchor="start" class="s">10</text>
<text transform="translate(889.4 542.4) scale(1.12 1)" font-size="16.95" text-anchor="start" class="s">30</text>
<text transform="translate(930.7 491.8) scale(1.12 1)" font-size="16.95" text-anchor="start" class="s">100 nM</text>
</g>
<g>
<polyline class="r" points="1336.03,617.69 1336.55,617.89 1337.06,617.61 1337.58,617.74 1338.1,617.86 1338.61,617.49 1339.13,616.75 1339.64,616.59 1340.16,616.54 1340.67,617.1 1341.19,616.91 1341.7,617.1 1342.22,617.25 1342.73,617.35 1343.25,617.23 1343.76,616.35 1344.28,616.13 1344.8,616.04 1345.31,615.98 1345.83,616.61 1346.34,616.67 1346.86,616.3 1347.37,616.02 1347.89,615.75 1348.4,615.6 1348.92,616.4 1349.43,616.07 1349.95,615.84 1350.46,615.92 1350.98,616.28 1351.08,615.92 1351.24,598.46 1351.55,635.59 1351.86,615.74 1352.01,616.2 1352.53,615.23 1353.04,614.86 1353.56,614.99 1354.07,615.22 1354.59,614.52 1355.1,614.55 1355.62,614.13 1356.13,613.92 1356.65,614.13 1357.16,614.22 1357.68,613.95 1358.2,613.96 1358.71,614.17 1359.23,613.99 1359.74,613.27 1360.26,613.79 1360.77,613.89 1361.29,613.18 1361.8,613.24 1362.32,612.89 1362.83,612.75 1363.35,612.76 1363.86,611.95 1364.38,612.48 1364.89,612.34 1365.41,612.45 1365.93,611.92 1366.44,612.06 1366.96,611.94 1367.47,611.38 1367.99,611.59 1368.5,611.31 1369.02,610.76 1369.53,611.38 1370.05,611.57 1370.56,611.38 1371.08,610.64 1371.59,610.47 1372.11,610.76 1372.63,610.69 1373.14,610.76 1373.66,610.4 1374.17,610.67 1374.69,609.97 1375.2,609.43 1375.72,609.11 1376.23,609.17 1376.75,608.88 1377.26,609.76 1377.78,609.7 1378.29,608.86 1378.81,608.71 1379.33,609 1379.84,608.44 1380.36,608.55 1380.87,608.3 1381.23,609.16 1381.39,595.39 1381.7,612.85 1382.01,609.2 1382.42,609.42 1382.93,609.74 1383.04,609.28 1383.19,603.63 1383.5,611 1383.81,609.32 1383.96,608.92 1384.48,609.41 1384.99,609.96 1385.51,610.14 1386.03,610.08 1386.54,609.4 1387.06,609.65 1387.57,609.84 1388.09,610.15 1388.6,609.28 1389.12,609.63 1389.63,610.01 1390.15,610.34 1390.66,610.48 1391.18,610.42 1391.69,609.85 1392.21,610.27 1392.73,610.55 1393.24,610.17 1393.76,610.33 1394.27,609.57 1394.79,610.31 1395.3,610.13 1395.82,609.82 1396.33,610.14 1396.85,609.63 1397.36,610.04 1397.88,610.47 1398.39,610.45 1398.91,610.89 1399.43,610.63 1399.94,610.76 1400.04,611.74 1400.2,606.7 1400.51,618.38 1400.82,611.36 1400.97,610.78 1401.49,610.77 1402,611.08 1402.52,610.73 1403.03,610.42 1403.55,610.13 1404.06,609.8 1404.58,608.76 1405.09,609 1405.61,608.98 1406.12,607.78 1406.64,607.56 1407.16,606.79 1407.67,606.98 1408.19,606.27 1408.7,606.09 1409.22,605.67 1409.73,605.36 1410.25,605.33 1410.76,605.56 1411.28,605.29 1411.79,604.25 1412.31,603.65 1412.82,603.2 1413.34,603.49 1413.86,603.03 1414.37,602.5 1414.89,602.28 1415.4,601.8 1415.92,601.74 1416.43,601.37 1416.95,601 1417.46,601.13 1417.98,600.23 1418.49,599.67 1419.01,600.25 1419.52,599.24 1420.04,598.69 1420.56,598.62 1421.07,599.08 1421.59,598.08 1422.1,598.38 1422.62,597.34 1423.13,597.1 1423.65,597.49 1424.16,597.29 1424.68,596.49 1425.19,596.08 1425.71,595.53 1426.22,594.92 1426.74,595.29 1427.26,595.46 1427.77,594.27 1428.29,594.67 1428.8,593.63 1429.32,593.91 1429.83,593.02 1430.19,596.01 1430.35,588.87 1430.66,597.48 1430.97,596.02 1431.38,595.78 1431.89,595.53 1432.41,596.21 1432.92,595.93 1433.44,596.22 1433.96,595.71 1434.47,595.67 1434.99,596 1435.5,596.06 1436.02,596.65 1436.53,596.86 1437.05,596.31 1437.56,596.25 1438.08,595.81 1438.59,595.96 1439.11,596.54 1439.62,596.5 1440.14,596.04 1440.66,596.17 1441.17,596.79 1441.69,596.09 1442.2,595.87 1442.72,596.63 1443.23,596.39 1443.75,596.5 1444.26,596.09 1444.78,596.49 1445.29,596.72 1445.81,596.53 1446.32,595.93 1446.84,596.71 1447.35,596.96 1447.87,596.5 1448.39,596.04 1448.9,596.31 1449.42,596.5 1449.78,596.25 1449.93,563.3 1450.24,637.31 1450.55,595.02 1450.96,594.53 1451.48,592.89 1451.99,592.46 1452.51,591.56 1453.02,590.07 1453.54,589.41 1454.05,588.18 1454.57,587.9 1455.09,586.45 1455.6,586.19 1456.12,585.6 1456.63,584.49 1457.15,583.77 1457.66,582.79 1458.18,581.56 1458.69,580.87 1459.21,580.95 1459.72,580.19 1460.24,579.21 1460.75,578.5 1461.27,577.57 1461.79,577.08 1462.3,576.97 1462.82,576.33 1463.33,575.05 1463.85,574.76 1464.36,573.83 1464.88,572.89 1465.39,572.6 1465.91,572.1 1466.42,571.65 1466.94,571.49 1467.45,570.44 1467.97,570.24 1468.49,569.36 1469,569.42 1469.52,568.51 1470.03,567.99 1470.55,567.71 1471.06,567.52 1471.58,567.51 1472.09,566.53 1472.61,566.38 1473.12,565.73 1473.64,565.84 1474.15,565.69 1474.67,565.32 1475.19,564.21 1475.7,564.3 1476.22,563.29 1476.73,563.3 1477.25,562.86 1477.76,562.75 1478.28,562.19 1478.79,562.38 1479.31,561.9 1479.82,560.94 1480.34,561.26 1480.85,560.65 1480.96,563.06 1481.11,521.5 1481.42,591.7 1481.73,563.7 1481.89,564.14 1482.4,565 1482.92,565.61 1483.43,565.09 1483.95,565.32 1484.46,565.71 1484.98,566.11 1485.49,566.33 1486.01,567.54 1486.52,567.72 1487.04,568.11 1487.55,568.37 1488.07,568.26 1488.58,568.62 1489.1,568.7 1489.62,569.87 1490.13,569.85 1490.65,569.98 1491.16,570.11 1491.68,570.46 1492.19,570.49 1492.71,571.23 1493.22,570.93 1493.74,571.54 1494.25,571.66 1494.77,571.49 1495.28,571.76 1495.8,572.41 1496.32,572.83 1496.83,572.98 1497.35,572.79 1497.86,572.4 1498.38,572.47 1498.89,573.13 1499.41,573.45 1499.77,576.58 1499.92,542.89 1500.23,601.54 1500.54,573.96 1500.95,572.35 1501.47,570.72 1501.98,568.66 1502.5,566.26 1503.02,564.08 1503.53,562.19 1504.05,560.7 1504.56,558.42 1505.08,556.91 1505.59,555.9 1506.11,554.61 1506.62,552.22 1507.14,550.42 1507.65,548.96 1508.17,547.94 1508.68,547.04 1509.2,546.18 1509.72,544.88 1510.23,543.71 1510.75,541.77 1511.26,540.4 1511.78,539.38 1512.29,539.02 1512.81,538.17 1513.32,537.17 1513.84,535.48 1514.35,535.18 1514.87,533.79 1515.38,532.89 1515.9,532.18 1516.42,530.96 1516.93,530.81 1517.45,529.97 1517.96,529.63 1518.48,529.12 1518.99,528.58 1519.51,527.65 1520.02,527.12 1520.54,526.61 1521.05,525 1521.57,524.86 1522.08,523.77 1522.6,523.25 1523.12,522.7 1523.63,522.26 1524.15,521.47 1524.66,520.96 1525.18,520.67 1525.69,520.45 1526.21,519.95 1526.72,519.48 1527.24,519.23 1527.75,518.96 1528.27,519.01 1528.78,518.02 1529.3,517.85 1529.66,527.4 1529.81,510.19 1530.12,532.32 1530.43,528.31 1530.85,528.67 1531.36,529.82 1531.88,530.51 1532.39,530.86 1532.91,531.2 1533.42,532.31 1533.94,533.04 1534.45,533.63 1534.97,534.64 1535.48,534.41 1536,535.63 1536.51,535.34 1537.03,536.47 1537.55,537.17 1538.06,536.95 1538.58,537.19 1539.09,538.22 1539.61,538.51 1540.12,538.95 1540.64,539.1 1541.15,540.01 1541.67,539.85 1542.18,539.84 1542.7,540.39 1543.21,540.56 1543.73,540.82 1544.25,541.74 1544.76,541.74 1545.28,541.96 1545.79,542.5 1546.31,543.41 1546.82,543.33 1547.34,543.15 1547.85,543.93 1548.37,543.98 1548.88,543.88 1549.24,550.76 1549.4,521.87 1549.71,567.97 1550.02,540.52 1550.43,533.68 1550.95,526.54 1551.46,519.59 1551.98,513.29 1552.49,508.93 1553.01,503.65 1553.52,499.68 1554.04,496.49 1554.55,492.57 1555.07,489.7 1555.58,486.97 1556.1,484.7 1556.61,482.96 1557.13,481.07 1557.65,479.71 1558.16,478.36 1558.68,476.64 1559.19,476.08 1559.71,475.51 1560.22,474.15 1560.74,473.38 1561.25,472.66 1561.77,471.97 1562.28,471.75 1562.8,471.47 1563.31,471.22 1563.83,470.12 1564.35,469.38 1564.86,469.15 1565.38,469.58 1565.89,468.6 1566.41,468.31 1566.92,468.44 1567.44,468.94 1567.95,468.09 1568.47,467.95 1568.98,467.84 1569.5,468.41 1570.01,467.75 1570.53,468.25 1571.04,467.88 1571.56,468.09 1572.08,467.88 1572.59,467.18 1573.11,467.07 1573.62,466.93 1574.14,467.44 1574.65,467.49 1575.17,467.25 1575.68,467.79 1576.2,467.54 1576.71,466.81 1577.23,466.79 1577.74,466.65 1578.26,467.23 1578.78,466.98 1579.29,466.78 1579.81,466.8 1579.91,477 1580.06,460.15 1580.37,485.6 1580.68,479.55 1580.84,480.53 1581.35,482.97 1581.87,484.24 1582.38,486.01 1582.9,488.75 1583.41,490.5 1583.93,492.69 1584.44,494.46 1584.96,496.08 1585.48,498.48 1585.99,500.23 1586.51,502.49 1587.02,504.05 1587.54,506.26 1588.05,507.89 1588.57,509.56 1589.08,510.57 1589.6,512.92 1590.11,514.02 1590.63,516.16 1591.14,516.91 1591.66,519.11 1592.18,520.97 1592.69,522.5 1593.21,523.15 1593.72,524.56 1594.24,525.72 1594.75,527.47 1595.27,529.43 1595.78,530.77 1596.3,531.98 1596.81,532.59 1597.33,534.55 1597.84,535.97 1598.36,536.61 1598.88,538.48 1599.39,538.98 1599.91,540.61 1600.42,541.62 1600.94,542.6 1601.45,543.41 1601.97,545.37 1602.48,545.93 1603,547.51 1603.51,548.12 1604.03,549.78 1604.54,550.2 1605.06,551.67 1605.58,552.82 1606.09,554.01 1606.61,554.7 1607.12,555.53 1607.64,555.69 1608.15,556.77 1608.67,558.02 1609.18,558.32 1609.7,559.86 1610.21,560.9 1610.73,560.97 1611.24,561.54 1611.76,562.58 1612.27,563.14 1612.79,564.83 1613.31,564.97 1613.82,565.72 1614.34,566.52 1614.85,567.09 1615.37,568.6 1615.88,569.44 1616.4,570.24 1616.91,570.58 1617.43,571.06 1617.94,571.68 1618.46,572.53 1618.97,572.79 1619.49,573.17 1620.01,573.79 1620.52,575.2 1621.04,575.97 1621.55,576.56 1622.07,577.11 1622.58,577.27 1623.1,578.11 1623.61,578.28 1624.13,579.01 1624.64,579.6 1625.16,579.76 1625.67,579.86 1626.19,581.06 1626.71,581.63 1627.22,581.44 1627.74,582.56 1628.25,583.47 1628.77,583.88 1629.28,583.61 1629.8,583.91 1630.31,584.07 1630.83,584.91 1631.34,586 1631.86,586.34 1632.37,586.26 1632.89,586.85 1633.41,587.61 1633.92,587.87 1634.44,588.12 1634.95,588.57 1635.47,588.85 1635.98,589.54 1636.5,590.13 1637.01,589.73 1637.53,589.88 1638.04,590.51 1638.56,591.27 1639.07,591.55 1639.59,591.56 1640.11,591.4 1640.62,592.02 1641.14,591.89 1641.65,592.53 1642.17,593.33 1642.68,593.32 1643.2,593.52 1643.71,593.78 1644.23,593.93 1644.74,594.93 1645.26,594.98 1645.77,594.77 1646.29,595.61 1646.81,596.18 1647.32,596.4 1647.84,596.51 1648.35,596.54 1648.87,596.83 1649.38,596.74 1649.9,597.38 1650.41,597.56 1650.93,597.4 1651.44,597.62 1651.96,597.38 1652.47,597.46 1652.99,598.39 1653.5,598.76 1654.02,598.8 1654.54,598.93 1655.05,599.3 1655.57,599 1656.08,599.77 1656.6,599.85 1657.11,600.4"/>
<path class="sp" d="M1351.54 598.46V635.59M1381.69 595.39V612.85M1383.49 603.63V611M1400.5 606.7V618.38M1430.65 588.87V597.48M1450.23 563.3V637.31M1481.41 521.5V591.7M1500.22 542.89V601.54M1530.11 510.19V532.32M1549.7 521.87V567.97M1580.36 460.15V485.6"/>
<polyline class="k" points="1336.03,615.92 1336.67,615.92 1337.3,615.92 1337.93,615.92 1338.57,615.92 1339.2,615.92 1339.83,615.92 1340.47,615.92 1341.1,615.92 1341.74,615.92 1342.37,615.92 1343,615.92 1343.64,615.92 1344.27,615.92 1344.9,615.92 1345.54,615.92 1346.17,615.92 1346.8,615.92 1347.44,615.92 1348.07,615.92 1348.7,615.92 1349.34,615.92 1349.97,615.92 1350.6,615.92 1351.24,615.92 1351.24,615.92 1352.49,615.54 1353.75,615.17 1355.01,614.81 1356.26,614.45 1357.52,614.1 1358.77,613.76 1360.03,613.42 1361.29,613.09 1362.54,612.77 1363.8,612.46 1365.06,612.15 1366.31,611.84 1367.57,611.55 1368.82,611.26 1370.08,610.97 1371.34,610.7 1372.59,610.42 1373.85,610.16 1375.11,609.9 1376.36,609.64 1377.62,609.39 1378.87,609.14 1380.13,608.9 1381.39,608.67 1381.39,608.67 1382.17,608.8 1382.95,608.92 1383.74,609.05 1384.52,609.18 1385.31,609.31 1386.09,609.44 1386.87,609.56 1387.66,609.69 1388.44,609.82 1389.22,609.95 1390.01,610.08 1390.79,610.21 1391.58,610.33 1392.36,610.46 1393.14,610.59 1393.93,610.72 1394.71,610.85 1395.5,610.97 1396.28,611.1 1397.06,611.23 1397.85,611.36 1398.63,611.49 1399.41,611.61 1400.2,611.74 1400.2,611.74 1401.45,610.96 1402.71,610.17 1403.97,609.39 1405.22,608.61 1406.48,607.82 1407.74,607.04 1408.99,606.26 1410.25,605.47 1411.5,604.69 1412.76,603.9 1414.02,603.12 1415.27,602.34 1416.53,601.55 1417.79,600.77 1419.04,599.99 1420.3,599.2 1421.55,598.42 1422.81,597.63 1424.07,596.85 1425.32,596.07 1426.58,595.28 1427.84,594.5 1429.09,593.72 1430.35,592.93 1430.35,592.93 1431.16,593.35 1431.98,593.77 1432.8,594.19 1433.61,594.61 1434.43,595.03 1435.24,595.45 1436.06,595.87 1436.88,596.29 1437.69,596.71 1438.51,597.13 1439.32,597.55 1440.14,597.97 1440.96,598.39 1441.77,598.81 1442.59,599.23 1443.4,599.65 1444.22,600.07 1445.04,600.49 1445.85,600.91 1446.67,601.33 1447.48,601.75 1448.3,602.17 1449.12,602.59 1449.93,603.01 1449.93,603.01 1451.23,599.8 1452.53,596.75 1453.83,593.86 1455.13,591.13 1456.43,588.54 1457.73,586.08 1459.03,583.76 1460.33,581.56 1461.62,579.47 1462.92,577.5 1464.22,575.63 1465.52,573.85 1466.82,572.17 1468.12,570.58 1469.42,569.08 1470.72,567.65 1472.02,566.3 1473.32,565.02 1474.62,563.8 1475.92,562.65 1477.21,561.56 1478.51,560.53 1479.81,559.56 1481.11,558.63 1481.11,558.63 1481.9,559.76 1482.68,560.87 1483.46,561.96 1484.25,563.03 1485.03,564.09 1485.81,565.12 1486.6,566.15 1487.38,567.15 1488.17,568.14 1488.95,569.11 1489.73,570.06 1490.52,571 1491.3,571.92 1492.09,572.83 1492.87,573.73 1493.65,574.6 1494.44,575.47 1495.22,576.32 1496,577.15 1496.79,577.98 1497.57,578.78 1498.36,579.58 1499.14,580.36 1499.92,581.13 1499.92,581.13 1501.17,575.24 1502.41,569.8 1503.66,564.78 1504.91,560.14 1506.15,555.85 1507.4,551.88 1508.64,548.22 1509.89,544.84 1511.13,541.72 1512.38,538.83 1513.62,536.16 1514.87,533.7 1516.11,531.42 1517.36,529.32 1518.61,527.37 1519.85,525.58 1521.1,523.92 1522.34,522.39 1523.59,520.97 1524.83,519.66 1526.08,518.45 1527.32,517.34 1528.57,516.31 1529.81,515.35 1529.81,515.35 1530.63,517.26 1531.45,519.14 1532.26,520.99 1533.08,522.81 1533.89,524.6 1534.71,526.35 1535.53,528.08 1536.34,529.78 1537.16,531.46 1537.98,533.1 1538.79,534.72 1539.61,536.31 1540.42,537.87 1541.24,539.41 1542.06,540.93 1542.87,542.41 1543.69,543.88 1544.5,545.32 1545.32,546.73 1546.14,548.12 1546.95,549.49 1547.77,550.84 1548.58,552.16 1549.4,553.47 1549.4,553.47 1550.68,531.28 1551.95,515.05 1553.23,503.17 1554.51,494.49 1555.79,488.13 1557.07,483.48 1558.34,480.08 1559.62,477.59 1560.9,475.77 1562.18,474.43 1563.45,473.46 1564.73,472.75 1566.01,472.22 1567.29,471.84 1568.56,471.56 1569.84,471.36 1571.12,471.21 1572.4,471.1 1573.68,471.02 1574.95,470.96 1576.23,470.92 1577.51,470.89 1578.79,470.86 1580.06,470.85 1580.06,488.06 1583.27,499.68 1586.48,510.19 1589.7,519.7 1592.91,528.31 1596.12,536.1 1599.33,543.15 1602.54,549.52 1605.75,555.29 1608.96,560.51 1612.17,565.24 1615.38,569.51 1618.59,573.38 1621.8,576.88 1625.01,580.05 1628.22,582.91 1631.43,585.5 1634.64,587.85 1637.85,589.97 1641.06,591.89 1644.27,593.63 1647.48,595.2 1650.69,596.63 1653.9,597.91 1657.11,599.08"/>
<rect class="fr" x="1299.7" y="443.8" width="412.3" height="221.3"/>
<path class="tk" d="M1299.7 665.1v4M1351.24 665.1v4M1402.78 665.1v4M1454.31 665.1v4M1505.85 665.1v4M1557.39 665.1v4M1608.92 665.1v4M1660.46 665.1v4M1712 665.1v4M1299.7 665.1h-4M1299.7 615.92h-4M1299.7 566.74h-4M1299.7 517.57h-4M1299.7 468.39h-4"/>
<text transform="translate(1296.2 688.2) scale(1.12 1)" font-size="16.95" text-anchor="middle" class="s">- 200</text>
<text transform="translate(1351.24 688.2) scale(1.12 1)" font-size="16.95" text-anchor="middle" class="s">0</text>
<text transform="translate(1402.78 688.2) scale(1.12 1)" font-size="16.95" text-anchor="middle" class="s">200</text>
<text transform="translate(1454.31 688.2) scale(1.12 1)" font-size="16.95" text-anchor="middle" class="s">400</text>
<text transform="translate(1505.85 688.2) scale(1.12 1)" font-size="16.95" text-anchor="middle" class="s">600</text>
<text transform="translate(1557.39 688.2) scale(1.12 1)" font-size="16.95" text-anchor="middle" class="s">800</text>
<text transform="translate(1613.7 688.2) scale(1.12 1)" font-size="16.95" text-anchor="middle" class="s">1,000</text>
<text transform="translate(1664.2 688.2) scale(1.12 1)" font-size="16.95" text-anchor="middle" class="s">1,200</text>
<text transform="translate(1718 688.2) scale(1.12 1)" font-size="16.95" text-anchor="middle" class="s">1,400</text>
<text transform="translate(1287.6 671.4) scale(1.12 1)" font-size="16.95" text-anchor="end" class="s">-4</text>
<text transform="translate(1287.6 622.22) scale(1.12 1)" font-size="16.95" text-anchor="end" class="s">0</text>
<text transform="translate(1287.6 573.04) scale(1.12 1)" font-size="16.95" text-anchor="end" class="s">4</text>
<text transform="translate(1287.6 523.87) scale(1.12 1)" font-size="16.95" text-anchor="end" class="s">8</text>
<text transform="translate(1287.6 474.69) scale(1.12 1)" font-size="16.95" text-anchor="end" class="s">12</text>
<text transform="translate(1313.9 417.7) scale(1.06 1)" font-size="33.1" text-anchor="start">Fc(aMD4)B1 (<tspan font-style="italic">K</tspan><tspan font-size="17" dy="11.5" dx="-1.2">D</tspan><tspan dy="-11.5" dx="0.6"> = 10.8 nM)</tspan></text>
<text transform="translate(1510.6 729.9) scale(1.06 1)" font-size="33.1" text-anchor="middle">Time (s)</text>
<text transform="translate(1242.2 560) scale(1.12 1) rotate(-90)" font-size="31.55" text-anchor="middle">SPR signal (RU)</text>
<text transform="translate(1357.6 597.2) scale(1.12 1)" font-size="16.95" text-anchor="start" class="s">1</text>
<text transform="translate(1402.1 587) scale(1.12 1)" font-size="16.95" text-anchor="start" class="s">3</text>
<text transform="translate(1449.2 559.8) scale(1.12 1)" font-size="16.95" text-anchor="start" class="s">10</text>
<text transform="translate(1499.1 516.9) scale(1.12 1)" font-size="16.95" text-anchor="start" class="s">30</text>
<text transform="translate(1540.4 461.8) scale(1.12 1)" font-size="16.95" text-anchor="start" class="s">100 nM</text>
</g>
<g>
<polyline class="r" points="111.7,1006.33 112.22,1006.01 112.73,1005.76 113.25,1005.4 113.76,1005.51 114.28,1005.22 114.79,1006.35 115.31,1006.06 115.82,1005.21 116.34,1005.28 116.86,1004.88 117.37,1005.81 117.89,1005.57 118.4,1005.75 118.92,1005.32 119.43,1005.07 119.95,1005.73 120.46,1005.61 120.98,1005.42 121.49,1004.38 122.01,1004.17 122.53,1004.91 123.04,1004.19 123.56,1004.83 124.07,1004.3 124.59,1004.77 125.1,1005.05 125.62,1003.84 126.13,1004.31 126.5,1003.19 126.65,977.84 126.96,1004.57 127.27,1002.9 127.68,1001.99 128.2,1002.52 128.71,1001.58 129.23,1001.7 129.74,1001.39 130.26,1001.81 130.77,1000.73 131.29,1000.56 131.81,999.95 132.32,999.69 132.84,1000.29 133.35,1000.26 133.87,1000.37 134.38,1000.29 134.9,1000.22 135.41,999.7 135.93,998.92 136.44,999.36 136.96,998.38 137.48,998.38 137.99,998.26 138.51,997.33 139.02,997.33 139.54,997.42 140.05,997.05 140.57,996.45 141.08,997.01 141.6,995.73 142.12,996.5 142.63,995.72 143.15,995.25 143.66,996.23 144.18,995.4 144.69,995.67 145.21,995.4 145.72,996.07 146.24,996.2 146.75,995.99 147.27,994.75 147.79,995.36 148.3,994.71 148.82,994.17 149.33,993.91 149.85,994.63 150.36,994.81 150.88,994.57 151.39,994.07 151.91,994.81 152.42,994.09 152.94,993.71 153.46,993.43 153.97,994.46 154.49,993.46 155,994.29 155.52,994.16 156.03,993.67 156.55,993 157.06,993.55 157.17,991 157.32,988.09 157.63,996.26 157.94,991.02 158.1,990.74 158.61,991.21 158.71,991.04 158.87,988.64 159.18,994.18 159.49,991.06 159.64,991.64 160.16,991.89 160.67,991.88 161.19,991.11 161.7,990.41 162.22,991.38 162.73,991.89 163.25,990.73 163.77,990.98 164.28,991.27 164.8,991.62 165.31,991.24 165.83,990.78 166.34,991.16 166.86,991.36 167.37,991.96 167.89,990.94 168.41,991.87 168.92,991.54 169.44,990.94 169.95,991.75 170.47,991.19 170.98,990.68 171.5,990.98 172.01,990.86 172.53,991.81 173.04,991.68 173.56,992.06 174.08,991.2 174.18,991.5 174.33,989.34 174.64,1003.46 174.95,991.52 175.11,991.66 175.62,990.86 175.98,989.2 176.14,977.56 176.45,993.49 176.76,989.05 177.17,988.69 177.68,988.76 178.2,988.36 178.72,988.5 179.23,988.74 179.75,988.58 180.26,988.82 180.78,988.49 181.29,987.42 181.81,987 182.32,987.26 182.84,987.45 183.35,987.68 183.87,988.03 184.39,987.82 184.9,986.93 185.42,986.41 185.93,986.89 186.45,986.36 186.96,986.11 187.48,986.06 187.99,986.01 188.51,985.78 189.03,986.19 189.54,985.76 190.06,986.14 190.57,985.9 191.09,985.33 191.6,985.17 192.12,985.6 192.63,984.74 193.15,984.78 193.66,984.82 194.18,985.57 194.7,984.99 195.21,985.13 195.73,984.49 196.24,984.49 196.76,983.9 197.27,983.86 197.79,983.55 198.3,984.02 198.82,983.67 199.34,983.34 199.85,983.01 200.37,983.51 200.88,982.89 201.4,982.56 201.91,982.63 202.43,982.16 202.94,981.94 203.46,982.42 203.97,982.49 204.49,982.96 205.01,982.08 205.52,981.55 206.04,981.95 206.55,981.7 206.66,984.9 206.81,978.25 207.12,987.95 207.43,984.94 207.58,984.46 208.1,985.28 208.61,984.71 209.13,984.82 209.65,984.75 210.16,985.1 210.68,984.95 211.19,984.7 211.71,984.83 212.22,984.77 212.74,985.77 213.25,985.95 213.77,985.63 214.28,985.23 214.8,985.74 215.32,985.26 215.83,985.19 216.35,986.03 216.86,985.73 217.38,986 217.89,986.36 218.41,986.39 218.92,986.15 219.44,986.29 219.96,986.34 220.47,986.6 220.99,986.09 221.5,986.06 222.02,985.73 222.53,985.67 223.05,986.17 223.56,985.41 224.08,986.46 224.59,986.27 225.11,986.4 225.63,986.28 225.73,982.96 225.88,959.97 226.19,1024.93 226.5,982.62 226.66,982.29 227.17,982.34 227.69,982.66 228.2,981.76 228.72,982 229.23,981.25 229.75,981.1 230.27,980.51 230.78,979.58 231.3,979.26 231.81,979.54 232.33,978.89 232.84,978.72 233.36,978.87 233.87,979.06 234.39,978.29 234.91,977.88 235.42,976.98 235.94,976.46 236.45,976.62 236.97,976.85 237.48,975.97 238,976.76 238.51,976.69 239.03,975.83 239.54,975.27 240.06,975.57 240.58,974.78 241.09,973.94 241.61,974.21 242.12,974.03 242.64,974.08 243.15,973.82 243.67,972.56 244.18,972.78 244.7,971.84 245.21,971.39 245.73,971.51 246.25,971.84 246.76,970.74 247.28,970.86 247.79,970.84 248.31,970.78 248.82,969.62 249.34,969.73 249.85,969.88 250.37,969.47 250.89,969.66 251.4,968.81 251.92,968.59 252.43,968.54 252.95,967.63 253.46,967.07 253.98,967.85 254.49,967.19 255.01,967.15 255.52,965.99 255.89,969.95 256.04,949.31 256.35,987.12 256.66,970.19 257.07,970.74 257.59,971.18 257.95,970.74 258.1,967.18 258.41,974.1 258.72,970.97 259.13,971 259.65,971.29 260.16,971.26 260.68,971.42 261.2,971.38 261.71,972.38 262.23,971.91 262.74,972.5 263.26,972.48 263.77,972.85 264.29,973.13 264.8,972.99 265.32,973.13 265.83,973.41 266.35,973.05 266.87,973.22 267.38,974.17 267.9,974.27 268.41,974.09 268.93,973.45 269.44,973.34 269.96,973.87 270.47,974.89 270.99,974.22 271.51,974.56 272.02,974.54 272.54,974.41 273.05,974.53 273.41,974.94 273.57,971.33 273.88,981.03 274.19,975.06 274.6,975.08 275.11,980.86 275.63,979.06 276.14,978.58 276.66,977.52 277.18,975.63 277.69,975.33 278.21,973.39 278.72,972.19 279.24,971.45 279.75,970.71 280.27,969.04 280.78,967.61 281.3,967.54 281.82,966.38 282.33,965.23 282.85,964.26 283.36,963.54 283.88,962.92 284.39,961.48 284.91,960.05 285.42,960.03 285.94,959.22 286.45,957.5 286.97,956.39 287.49,955.62 288,955.72 288.52,954.22 289.03,952.79 289.55,951.75 290.06,951.29 290.58,951.56 291.09,950.02 291.61,949.88 292.13,948.74 292.64,947.42 293.16,946.83 293.67,947 294.19,946.37 294.7,944.8 295.22,944.92 295.73,943.85 296.25,943.34 296.76,943.09 297.28,941.94 297.8,941.95 298.31,941.46 298.83,940.5 299.34,940.21 299.86,939.75 300.37,938.46 300.89,937.39 301.4,936.45 301.92,936.82 302.44,936.18 302.95,935.76 303.47,934.86 303.98,934.36 304.5,933.19 305.01,933.28 305.53,933.43 305.63,940.86 305.79,928.39 306.1,943.63 306.4,942.02 306.56,942.79 307.07,943.26 307.59,944.24 308.11,944.63 308.62,945.67 309.14,946.17 309.65,947.17 310.17,947.41 310.68,948.23 311.2,948.1 311.71,948.69 312.23,949.74 312.75,950.25 313.26,950.51 313.78,950.36 314.29,951.39 314.81,951.25 315.32,951.56 315.84,952.75 316.35,952.59 316.87,953.63 317.38,954.2 317.9,953.97 318.42,954.66 318.93,954.22 319.45,954.89 319.96,955.58 320.48,955.38 320.99,956.65 321.51,956.32 321.61,956.63 321.77,954.71 322.08,967.73 322.39,957.05 322.54,957.87 323.06,957.1 323.57,957.44 323.93,956.1 324.09,936.98 324.4,985.73 324.71,951.69 325.12,948.43 325.63,945.09 326.15,941.62 326.66,939.4 327.18,936.01 327.69,933.37 328.21,930.85 328.73,928.13 329.24,925.16 329.76,922.95 330.27,920.62 330.79,918.73 331.3,915.69 331.82,913.56 332.33,911.31 332.85,909.84 333.37,907.54 333.88,906.1 334.4,904.41 334.91,902.81 335.43,901.01 335.94,899.92 336.46,899.05 336.97,897.96 337.49,896.48 338,895.38 338.52,892.8 339.04,891.62 339.55,889.97 340.07,889.69 340.58,888.18 341.1,886.33 341.61,885.39 342.13,884.69 342.64,883.78 343.16,883.39 343.68,882.61 344.19,881.81 344.71,880.71 345.22,879.82 345.74,878.33 346.25,878.43 346.77,877.9 347.28,877.27 347.8,876.84 348.31,876.15 348.83,875.64 349.35,874.77 349.86,874.81 350.38,873.24 350.89,873.2 351.41,872.1 351.92,871.82 352.44,871.49 352.95,871.43 353.47,870.51 353.99,871.17 354.5,870.4 354.86,873 355.02,854.16 355.33,878.54 355.64,875.56 356.05,876.89 356.56,879.77 357.08,882.11 357.59,884.58 358.11,886.53 358.62,888.59 359.14,890.02 359.66,890.9 360.17,893.28 360.69,895.39 361.2,897.1 361.72,899.01 362.23,900.02 362.75,901.43 363.26,903.75 363.78,905.49 364.3,906.5 364.81,907.42 365.33,909 365.84,910.75 366.36,911.47 366.87,914 367.39,915.7 367.9,916.11 368.42,917.5 368.93,919.27 369.45,919.93 369.97,920.29 370.48,921.86 371,923.41 371.51,924.93 372.03,926.15 372.54,926.04 373.06,927.25 373.57,927.69 374.09,929.77 374.61,930.78 375.12,931.96 375.64,932.44 376.15,933.66 376.67,934.37 377.18,934.97 377.7,935.82 378.21,936.95 378.73,937.86 379.25,937.32 379.76,938.75 380.28,939.27 380.79,940.06 381.31,940.54 381.82,941.77 382.34,942.29 382.85,943.19 383.37,943.3 383.88,943.2 384.4,943.96 384.92,944.21 385.43,945.59 385.95,946.72 386.46,946.72 386.98,947.16 387.49,947.48 388.01,948.18 388.52,948.38 389.04,948.61 389.55,948.73 390.07,949.96 390.59,950.45 391.1,950.34 391.62,951.43 392.13,952.24 392.65,952.51 393.16,953.19 393.68,952.68 394.19,952.65 394.71,953.6 395.23,954.43 395.74,955.02 396.26,955.22 396.77,955.74 397.29,955.61 397.8,955.55 398.32,956.2 398.83,956.89 399.35,956.41 399.87,957.38 400.38,957.66 400.9,957.8 401.41,957.89 401.93,958.49 402.44,958.41 402.96,958.7 403.47,958.31 403.99,958.6 404.5,958.36 405.02,958.77 405.54,958.91 406.05,959.37 406.57,959.85 407.08,959.6 407.6,959.87 408.11,959.66 408.63,960.04 409.14,960.34 409.66,961.18 410.17,960.8 410.69,961.39 411.21,962.07 411.72,962.51 412.24,962.62 412.75,962.63 413.27,962.12 413.78,962.6 414.3,963.18 414.81,962.47 415.33,962.61 415.85,963.52 416.36,963.88 416.88,963.97 417.39,963.75 417.91,963.04 418.42,962.74 418.94,963.2 419.45,963.97 419.97,964.03 420.49,964.21 421,964.39 421.52,964.98 422.03,964.43 422.55,963.95 423.06,963.99 423.58,964.97 424.09,964.74 424.61,965.24 425.12,964.7 425.64,964.95 426.16,964.37 426.67,964.43 427.19,965.47 427.7,965.6 428.22,964.84 428.73,965.28 429.25,965.51 429.76,965.62 430.28,965.24 430.79,964.9 431.31,965.41 431.83,965.01"/>
<path class="sp" d="M126.95 977.84V1004.57M157.62 988.09V996.26M159.17 988.64V994.18M174.63 989.34V1003.46M176.44 977.56V993.49M207.11 978.25V987.95M226.18 959.97V1024.93M256.34 949.31V987.12M258.4 967.18V974.1M273.87 971.33V981.03M306.09 928.39V943.63M322.07 954.71V967.73M324.39 936.98V985.73M355.32 854.16V878.54"/>
<polyline class="k" points="111.7,1001.8 112.32,1001.8 112.95,1001.8 113.57,1001.8 114.19,1001.8 114.81,1001.8 115.44,1001.8 116.06,1001.8 116.68,1001.8 117.31,1001.8 117.93,1001.8 118.55,1001.8 119.18,1001.8 119.8,1001.8 120.42,1001.8 121.04,1001.8 121.67,1001.8 122.29,1001.8 122.91,1001.8 123.54,1001.8 124.16,1001.8 124.78,1001.8 125.4,1001.8 126.03,1001.8 126.65,1001.8 126.65,997.37 127.93,997.19 129.21,997.01 130.48,996.84 131.76,996.68 133.04,996.52 134.32,996.36 135.6,996.22 136.87,996.07 138.15,995.93 139.43,995.8 140.71,995.67 141.99,995.54 143.26,995.42 144.54,995.3 145.82,995.19 147.1,995.08 148.38,994.97 149.65,994.87 150.93,994.77 152.21,994.68 153.49,994.58 154.77,994.49 156.04,994.41 157.32,994.32 157.32,999.45 158.11,999.47 158.89,999.49 159.67,999.51 160.46,999.54 161.24,999.56 162.03,999.58 162.81,999.61 163.59,999.63 164.38,999.65 165.16,999.68 165.95,999.7 166.73,999.72 167.51,999.75 168.3,999.77 169.08,999.79 169.87,999.81 170.65,999.84 171.43,999.86 172.22,999.88 173,999.91 173.79,999.93 174.57,999.95 175.35,999.98 176.14,1000 176.14,989.2 177.42,988.9 178.69,988.6 179.97,988.3 181.25,988 182.53,987.7 183.81,987.4 185.08,987.1 186.36,986.8 187.64,986.5 188.92,986.2 190.2,985.9 191.47,985.6 192.75,985.3 194.03,985 195.31,984.7 196.59,984.4 197.86,984.1 199.14,983.8 200.42,983.49 201.7,983.19 202.98,982.89 204.25,982.59 205.53,982.29 206.81,981.99 206.81,993.21 207.6,993.32 208.4,993.42 209.19,993.52 209.99,993.63 210.78,993.73 211.58,993.84 212.37,993.94 213.17,994.04 213.96,994.15 214.76,994.25 215.55,994.36 216.35,994.46 217.14,994.56 217.94,994.67 218.73,994.77 219.53,994.88 220.32,994.98 221.12,995.08 221.91,995.19 222.7,995.29 223.5,995.39 224.29,995.5 225.09,995.6 225.88,995.71 225.88,982.96 227.14,982.27 228.4,981.57 229.65,980.87 230.91,980.17 232.17,979.47 233.42,978.77 234.68,978.08 235.94,977.38 237.19,976.68 238.45,975.98 239.71,975.28 240.96,974.58 242.22,973.89 243.48,973.19 244.73,972.49 245.99,971.79 247.24,971.09 248.5,970.4 249.76,969.7 251.01,969 252.27,968.3 253.53,967.6 254.78,966.9 256.04,966.21 256.04,978.53 256.83,978.75 257.62,978.96 258.41,979.17 259.2,979.39 259.99,979.6 260.78,979.81 261.57,980.03 262.36,980.24 263.14,980.45 263.93,980.67 264.72,980.88 265.51,981.09 266.3,981.31 267.09,981.52 267.88,981.73 268.67,981.95 269.46,982.16 270.25,982.38 271.04,982.59 271.83,982.8 272.62,983.02 273.41,983.23 274.2,983.44 274.99,983.66 274.99,983.66 276.27,980.42 277.55,977.3 278.84,974.29 280.12,971.4 281.4,968.61 282.69,965.93 283.97,963.34 285.25,960.85 286.54,958.45 287.82,956.14 289.1,953.92 290.39,951.77 291.67,949.71 292.95,947.72 294.24,945.8 295.52,943.96 296.8,942.18 298.09,940.47 299.37,938.82 300.65,937.23 301.94,935.7 303.22,934.23 304.5,932.81 305.79,931.44 305.79,939.06 306.55,939.88 307.31,940.68 308.07,941.48 308.84,942.26 309.6,943.02 310.36,943.78 311.12,944.52 311.89,945.25 312.65,945.96 313.41,946.67 314.17,947.36 314.94,948.05 315.7,948.72 316.46,949.38 317.22,950.02 317.99,950.66 318.75,951.29 319.51,951.91 320.27,952.51 321.04,953.11 321.8,953.7 322.56,954.28 323.32,954.84 324.09,955.4 324.09,955.4 325.38,947.6 326.66,940.48 327.95,933.98 329.24,928.05 330.53,922.65 331.82,917.71 333.11,913.21 334.4,909.1 335.69,905.35 336.97,901.93 338.26,898.81 339.55,895.97 340.84,893.37 342.13,891 343.42,888.84 344.71,886.86 346,885.06 347.28,883.42 348.57,881.92 349.86,880.55 351.15,879.31 352.44,878.17 353.73,877.13 355.02,876.18 355.02,894.05 358.22,899.76 361.42,905.17 364.62,910.29 367.82,915.15 371.02,919.75 374.22,924.11 377.42,928.23 380.62,932.14 383.82,935.84 387.02,939.35 390.22,942.68 393.42,945.82 396.62,948.81 399.82,951.63 403.02,954.31 406.22,956.84 409.42,959.24 412.62,961.52 415.82,963.67 419.02,965.71 422.22,967.64 425.43,969.48 428.63,971.21 431.83,972.85"/>
<rect class="fr" x="75.1" y="835.6" width="412.4" height="221.6"/>
<path class="tk" d="M75.1 1057.2v4M126.65 1057.2v4M178.2 1057.2v4M229.75 1057.2v4M281.3 1057.2v4M332.85 1057.2v4M384.4 1057.2v4M435.95 1057.2v4M487.5 1057.2v4M75.1 1057.2h-4M75.1 1001.8h-4M75.1 946.4h-4M75.1 891h-4M75.1 835.6h-4"/>
<text transform="translate(71.6 1081) scale(1.12 1)" font-size="16.95" text-anchor="middle" class="s">- 200</text>
<text transform="translate(126.65 1081) scale(1.12 1)" font-size="16.95" text-anchor="middle" class="s">0</text>
<text transform="translate(178.2 1081) scale(1.12 1)" font-size="16.95" text-anchor="middle" class="s">200</text>
<text transform="translate(229.75 1081) scale(1.12 1)" font-size="16.95" text-anchor="middle" class="s">400</text>
<text transform="translate(281.3 1081) scale(1.12 1)" font-size="16.95" text-anchor="middle" class="s">600</text>
<text transform="translate(332.85 1081) scale(1.12 1)" font-size="16.95" text-anchor="middle" class="s">800</text>
<text transform="translate(389.2 1081) scale(1.12 1)" font-size="16.95" text-anchor="middle" class="s">1,000</text>
<text transform="translate(440.8 1081) scale(1.12 1)" font-size="16.95" text-anchor="middle" class="s">1,200</text>
<text transform="translate(494.4 1081) scale(1.12 1)" font-size="16.95" text-anchor="middle" class="s">1,400</text>
<text transform="translate(63.7 1063.5) scale(1.12 1)" font-size="16.95" text-anchor="end" class="s">-4</text>
<text transform="translate(63.7 1008.1) scale(1.12 1)" font-size="16.95" text-anchor="end" class="s">0</text>
<text transform="translate(63.7 952.7) scale(1.12 1)" font-size="16.95" text-anchor="end" class="s">4</text>
<text transform="translate(63.7 897.3) scale(1.12 1)" font-size="16.95" text-anchor="end" class="s">8</text>
<text transform="translate(63.7 841.9) scale(1.12 1)" font-size="16.95" text-anchor="end" class="s">12</text>
<text transform="translate(92.7 812.6) scale(1.06 1)" font-size="33.1" text-anchor="start">Fc(aMD4ds)T1 (<tspan font-style="italic">K</tspan><tspan font-size="17" dy="11.5" dx="-1.2">D</tspan><tspan dy="-11.5" dx="0.6"> = 73.4 nM)</tspan></text>
<text transform="translate(284.5 1124.9) scale(1.06 1)" font-size="33.1" text-anchor="middle">Time (s)</text>
<text transform="translate(25.1 946.9) scale(1.12 1) rotate(-90)" font-size="31.55" text-anchor="middle">SPR signal (RU)</text>
<text transform="translate(134.9 984.4) scale(1.12 1)" font-size="16.95" text-anchor="start" class="s">3</text>
<text transform="translate(182.2 974.2) scale(1.12 1)" font-size="16.95" text-anchor="start" class="s">10</text>
<text transform="translate(226.9 956.2) scale(1.12 1)" font-size="16.95" text-anchor="start" class="s">30</text>
<text transform="translate(278.3 926.6) scale(1.12 1)" font-size="16.95" text-anchor="start" class="s">100</text>
<text transform="translate(317.4 857.9) scale(1.12 1)" font-size="16.95" text-anchor="start" class="s">300 nM</text>
</g>
<g>
<polyline class="r" points="720.51,895.75 721.02,895.45 721.53,895.91 722.04,896.43 722.14,896.05 722.29,890.74 722.6,900.42 722.91,895.98 723.06,896.02 723.57,895.97 724.08,895.39 724.59,895.85 725.1,895.25 725.61,895.89 726.12,895.13 726.63,894.8 727.14,895.12 727.65,894.88 728.16,894.4 728.67,894.97 729.18,894.36 729.69,893.87 730.2,894.04 730.71,893.48 731.22,893.26 731.73,892.9 732.24,893.1 732.75,893.25 733.26,892.54 733.77,892.15 734.28,892.2 734.79,892.4 735.3,892.24 735.81,891.66 736.17,891.43 736.32,861.83 736.63,894.89 736.94,891.27 737.35,890.96 737.86,891.22 738.37,890.81 738.88,890.84 739.39,890.25 739.9,889.97 740.41,890.14 740.92,889.99 741.43,889.8 741.94,889.68 742.45,889.48 742.96,890.25 743.47,890.22 743.98,889.99 744.49,890.17 745,889.97 745.51,890.34 746.02,889.76 746.53,889.87 747.04,890.27 747.55,889.91 748.06,890.1 748.57,890.26 749.08,890.05 749.59,890.29 750.1,890.3 750.61,889.71 751.12,889.64 751.63,890.23 752.14,889.75 752.65,890.25 753.16,890.14 753.67,889.58 754.18,889.64 754.69,889.93 755.2,889.97 755.71,889.96 756.22,890.19 756.73,889.48 757.25,890.08 757.76,889.95 758.27,889.61 758.78,889.8 759.29,889.33 759.8,889.83 760.31,889.33 760.82,889.24 761.33,889.39 761.84,889.25 762.35,889.59 762.86,889.36 763.37,889.3 763.88,889.53 764.39,889.64 764.9,889.47 765.41,889.67 765.92,890.02 766.28,889.64 766.43,889.36 766.74,899.87 767.04,892.12 767.45,892.2 767.96,891.9 768.47,892.34 768.98,892.63 769.49,892.64 770,892.22 770.51,892.28 771.02,892.4 771.53,892.26 772.04,891.79 772.55,892.23 773.06,892.24 773.57,891.82 774.08,891.92 774.59,892.26 775.1,892.2 775.61,892.17 776.12,892.46 776.63,892.35 777.14,892.38 777.66,891.94 778.17,892.22 778.68,892.01 779.19,891.66 779.7,891.58 780.21,892.05 780.72,892 781.23,892.24 781.58,892.12 781.74,890.74 782.04,900.42 782.35,892.12 782.76,891.88 783.27,891.65 783.78,892.15 784.29,892.58 784.65,892.12 784.8,847.17 785.1,908.72 785.41,890.46 785.82,891.04 786.33,890.4 786.84,890.76 787.35,890.34 787.86,890.5 788.37,890.03 788.88,889.94 789.39,890.61 789.9,890.72 790.41,890.07 790.92,890.13 791.43,890.32 791.94,890.05 792.45,889.92 792.96,890.16 793.47,890.26 793.98,890.61 794.49,890.49 795,890.64 795.51,890.25 796.02,890.12 796.53,890.49 797.04,890.17 797.55,890.53 798.07,890.64 798.58,890.18 799.09,890.18 799.6,889.78 800.11,889.88 800.62,889.84 801.13,890.33 801.64,889.86 802.15,890.36 802.66,890.05 803.17,889.82 803.68,889.83 804.19,889.94 804.7,890.46 805.21,890.52 805.72,890.54 806.23,891.23 806.74,890.83 807.25,890.81 807.76,891.32 808.27,891.28 808.78,891.66 809.29,892.03 809.8,891.86 810.31,892.47 810.82,892.17 811.33,892.04 811.84,892.74 812.35,892.53 812.86,893.35 813.37,893.07 813.88,893.62 814.39,893.33 814.9,893.83 815.41,893.7 815.52,894.2 815.67,892.12 815.98,914.95 816.28,899.07 816.43,899.57 816.94,899.11 817.45,899.18 817.96,899.38 818.48,899.98 818.99,900.15 819.5,900.11 820.01,900.46 820.52,899.82 821.03,899.88 821.54,899.81 822.05,900.09 822.56,900.59 823.07,901.08 823.58,900.74 824.09,901.25 824.6,901.12 825.11,901.22 825.62,901.31 826.13,901.79 826.64,902.03 827.15,901.79 827.66,902.22 828.17,902.01 828.68,902.34 829.19,902.42 829.7,902.64 830.21,902.41 830.72,902.57 830.82,902.5 830.98,899.04 831.28,911.49 831.59,902.5 831.74,902.85 832.25,902.56 832.76,902.15 833.27,902.45 833.78,902.78 834.29,902.76 834.4,902.5 834.55,858.38 834.85,910.8 835.16,900.36 835.31,899.88 835.82,897.81 836.33,896.13 836.84,894.77 837.35,893.05 837.86,891.28 838.38,889.48 838.89,889.03 839.4,888.04 839.91,887.79 840.42,887.3 840.93,886.79 841.44,886.37 841.95,885.78 842.46,885.95 842.97,885.91 843.48,885.7 843.99,886.42 844.5,886.33 845.01,886.59 845.52,887.04 846.03,887.29 846.54,886.81 847.05,887.29 847.56,886.99 848.07,887.51 848.58,887.52 849.09,887.84 849.6,887.54 850.11,887.25 850.62,887.69 851.13,887.57 851.64,887.25 852.15,887.74 852.66,887.79 853.17,887.61 853.68,887.46 854.19,888.07 854.7,887.88 855.21,888.34 855.72,888.54 856.23,887.87 856.74,888.51 857.25,887.99 857.76,887.99 858.27,888.1 858.78,888.12 859.3,888.24 859.81,888.65 860.32,888.69 860.83,888.95 861.34,888.49 861.85,888.44 862.36,888.45 862.87,889.01 863.38,888.9 863.89,889.2 864.4,888.86 864.5,889.08 864.65,883.27 864.96,909.41 865.27,895.94 865.42,897.11 865.93,898.82 866.44,900.43 866.95,901.91 867.46,904.05 867.97,904.94 868.48,906.1 868.99,906.68 869.5,907.59 870.01,907.64 870.52,908.97 871.03,909.11 871.54,909.61 872.05,910.41 872.56,910.6 873.07,911.63 873.58,912.19 874.09,912.77 874.6,913.19 875.11,913.67 875.62,913.36 876.13,914.19 876.64,914.3 877.15,914.86 877.66,915.43 878.17,915.62 878.68,916.15 879.19,915.87 879.71,916.55 879.81,916.74 879.96,912.87 880.27,927.26 880.57,916.94 880.73,916.9 881.24,917 881.75,917.28 882.26,917.67 882.77,918.03 882.87,917.71 883.02,882.44 883.33,930.44 883.63,909.41 883.79,907.54 884.3,900.54 884.81,897.08 885.32,894.05 885.83,890.63 886.34,887.54 886.85,886.89 887.36,886.42 887.87,885.23 888.38,884.32 888.89,883.05 889.4,882.31 889.91,882 890.42,881.64 890.93,881.68 891.44,881.22 891.95,880.86 892.46,881.26 892.97,880.57 893.48,880.23 893.99,879.98 894.5,880.21 895.01,880.59 895.52,880.93 896.03,880.93 896.54,880.59 897.05,881.01 897.56,881.58 898.07,881.6 898.58,881.9 899.09,881.62 899.61,881.49 900.12,881.39 900.63,882.21 901.14,882.33 901.65,882.7 902.16,882.21 902.67,882.25 903.18,882.68 903.69,882.56 904.2,883.03 904.71,883.09 905.22,883.5 905.73,883.88 906.24,883.57 906.75,883.72 907.26,884.13 907.77,884.15 908.28,884.47 908.79,884.58 909.3,885.4 909.81,885.75 910.32,886.02 910.83,885.8 911.34,885.74 911.85,886.35 912.36,886.38 912.87,886.86 913.38,886.64 913.74,886.87 913.89,877.33 914.2,892.12 914.5,896.61 914.91,901.28 915.42,906.48 915.93,912.13 916.44,917.24 916.95,919.62 917.46,921.38 917.97,923.26 918.48,926.03 918.99,928.42 919.5,929.67 920.01,930.93 920.53,932.5 921.04,934.33 921.55,936.31 922.06,937.58 922.57,939.19 923.08,939.91 923.59,941.02 924.1,941.93 924.61,942.69 925.12,943.93 925.63,944.76 926.14,946.29 926.65,947.57 927.16,947.61 927.67,948.85 928.18,948.86 928.69,949.8 929.2,950.93 929.3,950.91 929.45,947.45 929.76,959.9 930.07,951.55 930.22,951.62 930.73,952.31 931.24,952.68 931.75,953.63 932.26,953.65 932.62,954.37 932.77,929.47 933.08,984.38 933.38,937.77 933.79,926.92 934.3,912.8 934.81,899.04 935.32,892.67 935.83,886.59 936.34,879.81 936.85,877.34 937.36,875.79 937.87,873.59 938.38,871.87 938.89,870.51 939.4,869.66 939.91,869.24 940.42,869.93 940.94,870.83 941.45,871.39 941.96,871.36 942.47,871.8 942.98,872.23 943.49,872.94 944,874.02 944.51,875.01 945.02,875.55 945.53,876.37 946.04,876.92 946.55,877.26 947.06,878.22 947.57,878.53 948.08,879.32 948.59,880.61 949.1,880.85 949.61,881.43 950.12,882.08 950.63,883.29 951.14,883.34 951.65,884.13 952.16,884.78 952.67,885.76 953.18,886.65 953.69,887.39 954.2,887.9 954.71,888.41 955.22,889.14 955.73,889.91 956.24,890.09 956.75,890.65 957.26,891.17 957.77,892.43 958.28,892.9 958.79,893.66 959.3,894.86 959.81,895.06 960.32,896.08 960.84,897.07 961.35,897.9 961.86,898.01 962.37,899.16 962.88,899.89 963.23,906.99 963.39,880.78 963.69,905.96 964,916.36 964.41,924.67 964.92,935.62 965.43,945.04 965.94,953.49 966.45,962.03 966.96,970.65 967.47,977.62 967.98,982.1 968.49,986.42 969,991.43 969.51,996.1 970.02,999.07 970.53,1002.12 971.04,1004.6 971.55,1005.76 972.06,1008.69 972.57,1010.96 973.08,1013.27 973.59,1014.52 974.1,1015.73 974.61,1016.13 975.12,1018 975.63,1019 976.14,1019.29 976.65,1020.47 977.16,1020.86 977.67,1021.79 978.18,1023.35 978.69,1024.38 979.2,1024.36 979.71,1024.49 980.22,1025.4 980.73,1025.87 981.25,1026.74 981.76,1026.91 982.27,1027.18 982.78,1027.44 983.29,1027.49 983.8,1027.37 984.31,1027.5 984.82,1027.59 985.33,1028.43 985.84,1028.45 986.35,1028.15 986.86,1027.85 987.37,1028.88 987.88,1029.67 988.39,1029.96 988.9,1029.39 989.41,1028.5 989.92,1029.31 990.43,1028.52 990.94,1028.44 991.45,1028 991.96,1027.74 992.47,1028.89 992.98,1028.14 993.49,1028.9 994,1029.14 994.51,1028.66 995.02,1028.26 995.53,1028.7 996.04,1028.44 996.55,1028.42 997.06,1028.38 997.57,1028.34 998.08,1028.36 998.59,1027.96 999.1,1027.55 999.61,1027.17 1000.12,1026.5 1000.63,1026.31 1001.14,1026.36 1001.65,1026.55 1002.17,1026.06 1002.68,1026.48 1003.19,1026.56 1003.7,1026.6 1004.21,1025.63 1004.72,1026.05 1005.23,1025.98 1005.74,1025.65 1006.25,1025.1 1006.76,1024.69 1007.27,1024.54 1007.78,1024.39 1008.29,1024.91 1008.8,1023.83 1009.31,1023.65 1009.82,1024.03 1010.33,1024.09 1010.84,1023.73 1011.35,1024.25 1011.86,1023.5 1012.37,1022.72 1012.88,1023.23 1013.39,1023.1 1013.9,1023.37 1014.41,1022.31 1014.92,1022.71 1015.43,1022.78 1015.94,1022.15 1016.45,1022.39 1016.96,1021.52 1017.47,1021.9 1017.98,1021.64 1018.49,1021.9 1019,1021.42 1019.51,1021.33 1020.02,1021.79 1020.53,1020.57 1021.04,1021.22 1021.55,1020.67 1022.07,1020.2 1022.58,1020.27 1023.09,1020.41 1023.6,1020.15 1024.11,1019.07 1024.62,1020.18 1025.13,1019.04 1025.64,1018.99 1026.15,1019.07 1026.66,1018.73 1027.17,1018.5 1027.68,1018.01 1028.19,1017.49 1028.7,1017.95 1029.21,1018.27 1029.72,1018.25 1030.23,1017.27 1030.74,1017.54 1031.25,1018.2 1031.76,1017.5 1032.27,1017.93 1032.78,1017.61 1033.29,1016.92 1033.8,1016.65 1034.31,1016.58 1034.82,1015.99 1035.33,1016.05 1035.84,1015.39 1036.35,1015.33 1036.86,1016.1 1037.37,1015.44 1037.88,1015.8 1038.39,1014.88 1038.9,1015 1039.41,1015.27"/>
<path class="sp" d="M722.59 890.74V900.42M736.62 861.83V894.89M766.73 889.36V899.87M782.04 890.74V900.42M785.1 847.17V908.72M815.97 892.12V914.95M831.28 899.04V911.49M834.85 858.38V910.8M864.95 883.27V909.41M880.26 912.87V927.26M883.32 882.44V930.44M914.19 877.33V892.12M929.75 947.45V959.9M933.07 929.47V984.38M963.69 880.78V905.96"/>
<polyline class="k" stroke-width="1.5" points="720.51,892.12 721.17,892.12 721.83,892.12 722.48,892.12 723.14,892.12 723.8,892.12 724.46,892.12 725.12,892.12 725.78,892.12 726.44,892.12 727.1,892.12 727.76,892.12 728.42,892.12 729.08,892.12 729.73,892.12 730.39,892.12 731.05,892.12 731.71,892.12 732.37,892.12 733.03,892.12 733.69,892.12 734.35,892.12 735.01,892.12 735.67,892.12 736.32,892.12 736.32,889.64 737.58,889.64 738.83,889.64 740.09,889.64 741.34,889.64 742.6,889.64 743.85,889.64 745.11,889.64 746.36,889.64 747.61,889.64 748.87,889.64 750.12,889.64 751.38,889.64 752.63,889.64 753.89,889.64 755.14,889.64 756.39,889.64 757.65,889.64 758.9,889.64 760.16,889.64 761.41,889.64 762.67,889.64 763.92,889.64 765.18,889.64 766.43,889.64 766.43,892.12 767.2,892.12 767.96,892.12 768.73,892.12 769.49,892.12 770.26,892.12 771.02,892.12 771.79,892.12 772.55,892.12 773.32,892.12 774.08,892.12 774.85,892.12 775.61,892.12 776.38,892.12 777.14,892.12 777.91,892.12 778.68,892.12 779.44,892.12 780.21,892.12 780.97,892.12 781.74,892.12 782.5,892.12 783.27,892.12 784.03,892.12 784.8,892.12 784.8,890.47 786.09,890.47 787.37,890.47 788.66,890.47 789.94,890.47 791.23,890.47 792.52,890.47 793.8,890.47 795.09,890.47 796.38,890.47 797.66,890.47 798.95,890.47 800.23,890.47 801.52,890.47 802.81,890.47 804.09,890.47 805.38,890.47 806.67,890.47 807.95,890.47 809.24,890.47 810.52,890.47 811.81,890.47 813.1,890.47 814.38,890.47 815.67,890.47 815.67,892.12 816.46,892.12 817.24,892.12 818.03,892.12 818.82,892.12 819.6,892.12 820.39,892.12 821.18,892.12 821.96,892.12 822.75,892.12 823.54,892.12 824.32,892.12 825.11,892.12 825.9,892.12 826.68,892.12 827.47,892.12 828.26,892.12 829.04,892.12 829.83,892.12 830.61,892.12 831.4,892.12 832.19,892.12 832.97,892.12 833.76,892.12 834.55,892.12 834.55,889.08 835.8,889.08 837.06,889.08 838.31,889.08 839.57,889.08 840.82,889.08 842.07,889.08 843.33,889.08 844.58,889.08 845.84,889.08 847.09,889.08 848.35,889.08 849.6,889.08 850.85,889.08 852.11,889.08 853.36,889.08 854.62,889.08 855.87,889.08 857.13,889.08 858.38,889.08 859.64,889.08 860.89,889.08 862.14,889.08 863.4,889.08 864.65,889.08 864.65,892.12 865.42,892.12 866.18,892.12 866.95,892.12 867.71,892.12 868.48,892.12 869.25,892.12 870.01,892.12 870.78,892.12 871.54,892.12 872.31,892.12 873.07,892.12 873.84,892.12 874.6,892.12 875.37,892.12 876.13,892.12 876.9,892.12 877.66,892.12 878.43,892.12 879.19,892.12 879.96,892.12 880.73,892.12 881.49,892.12 882.26,892.12 883.02,892.12 883.02,887.56 884.31,887.56 885.59,887.56 886.88,887.56 888.17,887.56 889.45,887.56 890.74,887.56 892.03,887.56 893.31,887.56 894.6,887.56 895.88,887.56 897.17,887.56 898.46,887.56 899.74,887.56 901.03,887.56 902.32,887.56 903.6,887.56 904.89,887.56 906.17,887.56 907.46,887.56 908.75,887.56 910.03,887.56 911.32,887.56 912.61,887.56 913.89,887.56 913.89,892.12 914.68,892.12 915.47,892.12 916.25,892.12 917.04,892.12 917.83,892.12 918.61,892.12 919.4,892.12 920.19,892.12 920.97,892.12 921.76,892.12 922.54,892.12 923.33,892.12 924.12,892.12 924.9,892.12 925.69,892.12 926.48,892.12 927.26,892.12 928.05,892.12 928.84,892.12 929.62,892.12 930.41,892.12 931.2,892.12 931.98,892.12 932.77,892.12 932.77,885.49 934.05,885.49 935.32,885.49 936.6,885.49 937.87,885.49 939.15,885.49 940.42,885.49 941.7,885.49 942.98,885.49 944.25,885.49 945.53,885.49 946.8,885.49 948.08,885.49 949.35,885.49 950.63,885.49 951.91,885.49 953.18,885.49 954.46,885.49 955.73,885.49 957.01,885.49 958.28,885.49 959.56,885.49 960.84,885.49 962.11,885.49 963.39,885.49 963.39,892.12 966.56,892.12 969.74,892.12 972.92,892.12 976.1,892.12 979.28,892.12 982.46,892.12 985.64,892.12 988.81,892.12 991.99,892.12 995.17,892.12 998.35,892.12 1001.53,892.12 1004.71,892.12 1007.88,892.12 1011.06,892.12 1014.24,892.12 1017.42,892.12 1020.6,892.12 1023.78,892.12 1026.95,892.12 1030.13,892.12 1033.31,892.12 1036.49,892.12 1039.67,892.12"/>
<rect class="fr" x="685.3" y="836.8" width="408.2" height="221.3"/>
<path class="tk" d="M685.3 1058.1v4M736.32 1058.1v4M787.35 1058.1v4M838.38 1058.1v4M889.4 1058.1v4M940.42 1058.1v4M991.45 1058.1v4M1042.47 1058.1v4M1093.5 1058.1v4M685.3 1058.1h-4M685.3 1002.77h-4M685.3 947.45h-4M685.3 892.12h-4M685.3 836.8h-4"/>
<text transform="translate(681.8 1081.2) scale(1.12 1)" font-size="16.95" text-anchor="middle" class="s">- 200</text>
<text transform="translate(736.32 1081.2) scale(1.12 1)" font-size="16.95" text-anchor="middle" class="s">0</text>
<text transform="translate(787.35 1081.2) scale(1.12 1)" font-size="16.95" text-anchor="middle" class="s">200</text>
<text transform="translate(838.38 1081.2) scale(1.12 1)" font-size="16.95" text-anchor="middle" class="s">400</text>
<text transform="translate(889.4 1081.2) scale(1.12 1)" font-size="16.95" text-anchor="middle" class="s">600</text>
<text transform="translate(940.42 1081.2) scale(1.12 1)" font-size="16.95" text-anchor="middle" class="s">800</text>
<text transform="translate(998.9 1081.2) scale(1.12 1)" font-size="16.95" text-anchor="middle" class="s">1,000</text>
<text transform="translate(1050.3 1081.2) scale(1.12 1)" font-size="16.95" text-anchor="middle" class="s">1,200</text>
<text transform="translate(1103.4 1081.2) scale(1.12 1)" font-size="16.95" text-anchor="middle" class="s">1,400</text>
<text transform="translate(671.8 1064.4) scale(1.12 1)" font-size="16.95" text-anchor="end" class="s">-12</text>
<text transform="translate(671.8 1009.07) scale(1.12 1)" font-size="16.95" text-anchor="end" class="s">-8</text>
<text transform="translate(671.8 953.75) scale(1.12 1)" font-size="16.95" text-anchor="end" class="s">-4</text>
<text transform="translate(671.8 898.42) scale(1.12 1)" font-size="16.95" text-anchor="end" class="s">0</text>
<text transform="translate(671.8 843.1) scale(1.12 1)" font-size="16.95" text-anchor="end" class="s">4</text>
<text transform="translate(710.4 812.6) scale(1.06 1)" font-size="33.1" text-anchor="start">Fc(aMD4)M3</text>
<text transform="translate(892.7 1122.8) scale(1.06 1)" font-size="33.1" text-anchor="middle">Time (s)</text>
<text transform="translate(628 951.4) scale(1.12 1) rotate(-90)" font-size="31.55" text-anchor="middle">SPR signal (RU)</text>
<text transform="translate(740.2 863) scale(1.12 1)" font-size="16.95" text-anchor="start" class="s">10</text>
<text transform="translate(786.5 863) scale(1.12 1)" font-size="16.95" text-anchor="start" class="s">30</text>
<text transform="translate(832.6 863) scale(1.12 1)" font-size="16.95" text-anchor="start" class="s">100</text>
<text transform="translate(882.6 863) scale(1.12 1)" font-size="16.95" text-anchor="start" class="s">300</text>
<text transform="translate(937.1 863) scale(1.12 1)" font-size="16.95" text-anchor="start" class="s">1,000 nM</text>
</g>
<g>
<polyline class="r" points="1335.61,987.82 1336.13,988.06 1336.65,987.37 1336.75,987.33 1336.91,975.59 1337.22,991.99 1337.53,987.22 1337.69,987.36 1338.21,987.35 1338.72,987.73 1339.24,987.16 1339.76,987.58 1340.28,987.09 1340.8,987.39 1341.32,987.4 1341.84,986.86 1342.36,986.04 1342.88,986.7 1343.39,986.73 1343.91,986.1 1344.43,985.36 1344.95,985.57 1345.47,985.84 1345.99,985.05 1346.51,986.05 1347.02,985.17 1347.54,985.62 1348.06,985.92 1348.58,986.01 1349.1,985.71 1349.62,984.81 1350.14,985.35 1350.66,984.9 1351.02,984.8 1351.17,960.85 1351.49,990.88 1351.8,984.69 1352.21,984.58 1352.73,985.13 1353.25,985.27 1353.77,985.05 1354.29,984.23 1354.81,984.24 1355.33,984.35 1355.84,983.93 1356.36,983.92 1356.88,984.07 1357.4,983.35 1357.92,983.18 1358.44,983.71 1358.96,983.36 1359.47,983.24 1359.99,982.64 1360.51,982.58 1361.03,983.13 1361.55,982.26 1362.07,983.14 1362.59,982.95 1363.11,982.34 1363.62,982.93 1364.14,982.59 1364.66,983.06 1365.18,982.26 1365.7,981.78 1366.22,981.82 1366.74,981.34 1367.26,981.92 1367.77,981.51 1368.29,981.45 1368.81,981.39 1369.33,981.49 1369.85,980.91 1370.37,980.49 1370.89,980.96 1371.41,980.79 1371.92,981.54 1372.44,980.82 1372.96,980.58 1373.48,979.94 1374,979.9 1374.52,980.6 1375.04,980.64 1375.56,980.18 1376.08,980.89 1376.59,980.44 1377.11,980.65 1377.63,980.73 1378.15,980.78 1378.67,979.72 1379.19,980.21 1379.71,980.14 1380.22,979.85 1380.74,979 1381.26,979.78 1381.37,981.12 1381.52,972.64 1381.83,989.96 1382.14,981.18 1382.3,981.2 1382.82,980.69 1382.92,981.27 1383.08,976.51 1383.39,984.8 1383.7,981.33 1383.86,980.59 1384.38,981.45 1384.89,981.58 1385.41,981.75 1385.93,981.08 1386.45,980.77 1386.97,981.86 1387.49,982.24 1388.01,982.32 1388.52,982.38 1389.04,982.07 1389.56,981.85 1390.08,982.27 1390.6,982.82 1391.12,982.45 1391.64,982.43 1392.16,982.17 1392.67,981.56 1393.19,981.75 1393.71,982.1 1394.23,982.11 1394.75,982.07 1395.27,982.98 1395.79,982.11 1396.31,982.01 1396.83,981.88 1397.34,981.97 1397.86,982.62 1398.38,982.87 1398.9,983.42 1399,982.83 1399.16,979.27 1399.47,990.88 1399.78,982.89 1399.94,983.54 1400.3,982.04 1400.46,936.89 1400.77,994.01 1401.08,981.94 1401.49,982.61 1402.01,982.28 1402.53,982.53 1403.05,982.64 1403.57,982.41 1404.09,982.35 1404.61,981.9 1405.12,982.17 1405.64,981 1406.16,980.91 1406.68,981.5 1407.2,981.5 1407.72,981.31 1408.24,981.17 1408.76,981.42 1409.27,980.41 1409.79,979.8 1410.31,980.29 1410.83,980.38 1411.35,980.93 1411.87,981.05 1412.39,980.7 1412.91,980.63 1413.42,979.75 1413.94,980.34 1414.46,980.7 1414.98,979.44 1415.5,979.55 1416.02,980.09 1416.54,979.66 1417.06,980.19 1417.58,979.61 1418.09,978.71 1418.61,978.5 1419.13,978.62 1419.65,979.24 1420.17,979.25 1420.69,979.49 1421.21,978.65 1421.72,978.65 1422.24,978.24 1422.76,978.69 1423.28,978.95 1423.8,978.15 1424.32,977.56 1424.84,977.5 1425.36,977.49 1425.88,977.42 1426.39,977.45 1426.91,978.15 1427.43,977.92 1427.95,978.03 1428.47,978.48 1428.99,978.59 1429.51,978.21 1430.02,978.06 1430.54,977.33 1431.06,976.64 1431.43,978.9 1431.58,969.51 1431.89,991.62 1432.2,978.98 1432.62,978.09 1433.14,978.1 1433.66,979 1434.17,979.56 1434.54,979.27 1434.69,968.59 1435,982.96 1435.32,979.35 1435.73,980.04 1436.25,979.5 1436.77,978.96 1437.29,978.89 1437.81,979.43 1438.33,979.41 1438.84,979.23 1439.36,980.24 1439.88,979.8 1440.4,979.33 1440.92,979.39 1441.44,979.49 1441.96,979.96 1442.47,980.6 1442.99,979.98 1443.51,980.46 1444.03,980 1444.55,979.63 1445.07,980.37 1445.59,980.66 1446.11,980.01 1446.62,980.15 1447.14,981.03 1447.51,980.81 1447.66,979.27 1447.97,995.86 1448.28,980.88 1448.7,980.6 1449.22,980.44 1449.74,981.37 1450.1,981.12 1450.26,929.16 1450.57,1004.51 1450.88,980.7 1451.29,979.9 1451.81,980.1 1452.33,979.66 1452.85,979.88 1453.37,979.9 1453.89,978.3 1454.41,977.97 1454.92,977.81 1455.44,976.94 1455.96,977.13 1456.48,976.34 1457,975.9 1457.52,976.4 1458.04,976.29 1458.56,975.97 1459.08,975.7 1459.59,974.89 1460.11,974.84 1460.63,974.37 1461.15,974.39 1461.67,973.05 1462.19,973.16 1462.71,972.82 1463.22,972.29 1463.74,971.42 1464.26,971.58 1464.78,970.7 1465.3,970.76 1465.82,970.62 1466.34,970.42 1466.86,970.92 1467.38,970.33 1467.89,970.34 1468.41,970.44 1468.93,969.18 1469.45,969.48 1469.97,969 1470.49,968.31 1471.01,968.15 1471.52,968.27 1472.04,967.88 1472.56,967.53 1473.08,966.93 1473.6,967.53 1474.12,966.93 1474.64,967.01 1475.16,966.84 1475.67,965.92 1476.19,965.81 1476.71,965.54 1477.23,965.01 1477.75,964.44 1478.27,964.76 1478.79,964.47 1479.31,964.37 1479.83,964.17 1480.34,963.68 1480.86,963.7 1480.97,967.3 1481.12,952.19 1481.43,971.9 1481.74,967.73 1481.9,967.85 1482.42,967.56 1482.94,968.02 1483.46,968.15 1483.56,969.03 1483.72,959.37 1484.03,973.75 1484.34,969.42 1484.49,969.55 1485.01,969.76 1485.53,969.48 1486.05,969.72 1486.57,971 1487.09,971.66 1487.61,971.61 1488.12,972.3 1488.64,972.47 1489.16,972.95 1489.68,972.42 1490.2,972.23 1490.72,972.16 1491.24,973.36 1491.76,973.13 1492.28,973.27 1492.79,974.21 1493.31,973.62 1493.83,973.43 1494.35,974.58 1494.87,974.06 1495.39,974.8 1495.91,975.06 1496.42,974.56 1496.94,974.73 1497.46,975.87 1497.57,975.73 1497.72,971.9 1498.03,986.64 1498.34,975.94 1498.5,976.04 1499.02,976.42 1499.54,976.86 1499.9,975.59 1500.06,923.63 1500.37,1005.8 1500.68,974.79 1501.09,974.89 1501.61,973.75 1502.13,973.09 1502.65,973.04 1503.17,972.17 1503.69,971.03 1504.21,970.38 1504.72,970.4 1505.24,968.68 1505.76,967.97 1506.28,967.06 1506.8,967.59 1507.32,967.16 1507.84,966.95 1508.36,965.44 1508.88,965.26 1509.39,965.03 1509.91,964.15 1510.43,962.78 1510.95,962.06 1511.47,962.26 1511.99,962.12 1512.51,960.62 1513.02,960.23 1513.54,959.57 1514.06,959.86 1514.58,959.67 1515.1,958.35 1515.62,957.93 1516.14,957.96 1516.66,956.39 1517.17,955.95 1517.69,955.23 1518.21,955.68 1518.73,954.41 1519.25,954.78 1519.77,953.45 1520.29,953.26 1520.81,953.05 1521.33,952.36 1521.84,951.27 1522.36,951.54 1522.88,951.53 1523.4,950.66 1523.92,950.47 1524.44,950.3 1524.96,949.88 1525.47,949.6 1525.99,949 1526.51,948.35 1527.03,947.85 1527.55,946.75 1528.07,946.76 1528.59,946.19 1529.11,946.18 1529.62,945.66 1530.14,945.69 1530.51,947.95 1530.66,927.13 1530.97,963.8 1531.28,948.68 1531.7,949.15 1532.22,949.66 1532.74,950.72 1533.26,951.04 1533.77,950.83 1534.29,952.29 1534.81,952.1 1535.33,952.9 1535.85,953.41 1536.37,953.4 1536.89,954.32 1537.41,954.76 1537.92,954.94 1538.44,954.84 1538.96,956 1539.48,955.95 1540,956.37 1540.52,956.86 1541.04,957.6 1541.56,958.17 1542.07,959.02 1542.59,959.42 1543.11,959.86 1543.63,959.26 1544.15,959.95 1544.67,960.52 1545.19,961.02 1545.71,960.3 1546.22,960.18 1546.74,960.61 1547.26,961.49 1547.37,961.47 1547.52,957.16 1547.83,974.67 1548.14,961.77 1548.3,962.3 1548.82,962.31 1549.34,962.91 1549.86,962.85 1549.96,961.4 1550.12,913.31 1550.43,1015.39 1550.74,958.07 1550.89,956.73 1551.41,953.61 1551.93,951.51 1552.45,949.54 1552.97,946.2 1553.49,944.45 1554.01,942.21 1554.52,940.51 1555.04,937.92 1555.56,935.48 1556.08,933.26 1556.6,931.56 1557.12,929.29 1557.64,927.95 1558.16,925.88 1558.67,924.27 1559.19,922.08 1559.71,920.74 1560.23,919.21 1560.75,917.19 1561.27,915.6 1561.79,913.51 1562.31,911.91 1562.82,910.09 1563.34,908.64 1563.86,907.2 1564.38,905.57 1564.9,904.87 1565.42,903.9 1565.94,901.79 1566.46,901.51 1566.97,899.82 1567.49,898.61 1568.01,898.35 1568.53,896.4 1569.05,894.99 1569.57,894.21 1570.09,893.14 1570.61,892.05 1571.12,892.01 1571.64,890.87 1572.16,889.93 1572.68,888.56 1573.2,887.6 1573.72,886.69 1574.24,886.23 1574.76,885.12 1575.28,884.54 1575.79,883.87 1576.31,883.83 1576.83,883.67 1577.35,883.03 1577.87,882.05 1578.39,881.68 1578.91,880.1 1579.42,879.56 1579.94,878.9 1580.46,878.29 1580.98,877.66 1581.5,877.36 1581.6,877.2 1581.76,863.19 1582.07,895.07 1582.38,879.13 1582.54,879.42 1583.06,880.8 1583.58,882.68 1584.09,884.34 1584.61,885.79 1585.13,888.15 1585.65,888.93 1586.17,890.85 1586.69,892.72 1587.21,894.06 1587.72,894.81 1588.24,896.75 1588.76,897.49 1589.28,898.27 1589.8,900.1 1590.32,901.77 1590.84,903.08 1591.36,904.1 1591.88,905.08 1592.39,906.43 1592.91,907.64 1593.43,909.67 1593.95,911.06 1594.47,912.18 1594.99,912.56 1595.51,914.03 1596.02,914.88 1596.54,916.69 1597.06,917.96 1597.58,918.83 1598.1,919.18 1598.62,919.92 1599.14,920.85 1599.66,922.38 1600.17,923.24 1600.69,924.26 1601.21,925.21 1601.73,926.62 1602.25,926.58 1602.77,928.16 1603.29,928.18 1603.81,928.84 1604.32,930.94 1604.84,931.56 1605.36,931.79 1605.88,932.2 1606.4,933.62 1606.92,934.91 1607.44,935.96 1607.96,935.74 1608.47,937.2 1608.99,937.67 1609.51,938.95 1610.03,939.34 1610.55,939.33 1611.07,940.93 1611.59,940.94 1612.11,941.83 1612.62,942.04 1613.14,942.82 1613.66,944.22 1614.18,944.12 1614.7,945.09 1615.22,946.49 1615.74,947.41 1616.26,947.43 1616.78,947.9 1617.29,948.63 1617.81,949.48 1618.33,949.85 1618.85,950.38 1619.37,950.18 1619.89,951.68 1620.41,951.46 1620.92,951.58 1621.44,952.99 1621.96,952.65 1622.48,953.17 1623,953.41 1623.52,954.68 1624.04,955.3 1624.56,955.79 1625.08,955.39 1625.59,956.14 1626.11,957.03 1626.63,957.53 1627.15,958.19 1627.67,959.02 1628.19,959.51 1628.71,958.9 1629.22,959.75 1629.74,959.38 1630.26,960.47 1630.78,961.08 1631.3,961.19 1631.82,961.94 1632.34,962.18 1632.86,961.67 1633.38,961.82 1633.89,962.19 1634.41,962.81 1634.93,962.85 1635.45,963.05 1635.97,963.91 1636.49,964.16 1637.01,965.41 1637.52,965.08 1638.04,965.57 1638.56,965.51 1639.08,965.85 1639.6,966.67 1640.12,967.48 1640.64,966.69 1641.16,967.75 1641.67,967.81 1642.19,968.2 1642.71,968.57 1643.23,968.23 1643.75,967.94 1644.27,969.04 1644.79,969.03 1645.31,969.7 1645.82,969.72 1646.34,970.12 1646.86,970.73 1647.38,971.11 1647.9,971.33 1648.42,970.56 1648.94,971.02 1649.46,971.72 1649.97,971.12 1650.49,970.91 1651.01,971.77 1651.53,972.66 1652.05,973.02 1652.57,973.42 1653.09,973.33 1653.61,973.78 1654.12,973.85 1654.64,973.98 1655.16,973.7 1655.68,973.26 1656.2,973.41 1656.72,974.07 1657.24,974.41 1657.76,974.49 1658.28,974.84"/>
<path class="sp" d="M1337.21 975.59V991.99M1351.47 960.85V990.88M1381.82 972.64V989.96M1383.38 976.51V984.8M1399.46 979.27V990.88M1400.76 936.89V994.01M1431.88 969.51V991.62M1434.99 968.59V982.96M1447.96 979.27V995.86M1450.56 929.16V1004.51M1481.42 952.19V971.9M1484.02 959.37V973.75M1498.02 971.9V986.64M1500.36 923.63V1005.8M1530.96 927.13V963.8M1547.82 957.16V974.67M1550.42 913.31V1015.39M1582.06 863.19V895.07"/>
<polyline class="k" points="1335.61,984.8 1336.26,984.8 1336.91,984.8 1337.56,984.8 1338.21,984.8 1338.85,984.8 1339.5,984.8 1340.15,984.8 1340.8,984.8 1341.45,984.8 1342.1,984.8 1342.75,984.8 1343.39,984.8 1344.04,984.8 1344.69,984.8 1345.34,984.8 1345.99,984.8 1346.64,984.8 1347.28,984.8 1347.93,984.8 1348.58,984.8 1349.23,984.8 1349.88,984.8 1350.53,984.8 1351.17,984.8 1351.17,982.77 1352.44,982.67 1353.7,982.56 1354.97,982.45 1356.23,982.34 1357.5,982.24 1358.76,982.13 1360.03,982.02 1361.29,981.91 1362.56,981.81 1363.82,981.7 1365.08,981.59 1366.35,981.48 1367.61,981.38 1368.88,981.27 1370.14,981.16 1371.41,981.05 1372.67,980.95 1373.94,980.84 1375.2,980.73 1376.46,980.62 1377.73,980.52 1378.99,980.41 1380.26,980.3 1381.52,980.19 1381.52,983.14 1382.31,983.16 1383.1,983.19 1383.89,983.21 1384.68,983.23 1385.47,983.26 1386.26,983.28 1387.04,983.3 1387.83,983.33 1388.62,983.35 1389.41,983.37 1390.2,983.4 1390.99,983.42 1391.78,983.44 1392.57,983.46 1393.36,983.49 1394.14,983.51 1394.93,983.53 1395.72,983.56 1396.51,983.58 1397.3,983.6 1398.09,983.63 1398.88,983.65 1399.67,983.67 1400.46,983.69 1400.46,981.3 1401.75,981.13 1403.05,980.96 1404.35,980.79 1405.64,980.62 1406.94,980.45 1408.24,980.29 1409.53,980.12 1410.83,979.95 1412.13,979.78 1413.42,979.61 1414.72,979.44 1416.02,979.27 1417.32,979.1 1418.61,978.93 1419.91,978.77 1421.21,978.6 1422.5,978.43 1423.8,978.26 1425.1,978.09 1426.39,977.92 1427.69,977.75 1428.99,977.58 1430.28,977.41 1431.58,977.25 1431.58,980.19 1432.36,980.26 1433.14,980.32 1433.92,980.38 1434.69,980.44 1435.47,980.5 1436.25,980.56 1437.03,980.62 1437.81,980.69 1438.58,980.75 1439.36,980.81 1440.14,980.87 1440.92,980.93 1441.7,980.99 1442.47,981.05 1443.25,981.12 1444.03,981.18 1444.81,981.24 1445.59,981.3 1446.37,981.36 1447.14,981.42 1447.92,981.48 1448.7,981.54 1449.48,981.61 1450.26,981.67 1450.26,976.69 1451.54,976.11 1452.83,975.54 1454.11,974.98 1455.4,974.42 1456.69,973.88 1457.97,973.34 1459.26,972.82 1460.54,972.3 1461.83,971.79 1463.12,971.29 1464.4,970.8 1465.69,970.31 1466.98,969.83 1468.26,969.37 1469.55,968.9 1470.83,968.45 1472.12,968.01 1473.41,967.57 1474.69,967.14 1475.98,966.71 1477.26,966.3 1478.55,965.89 1479.84,965.48 1481.12,965.09 1481.12,971.17 1481.91,971.35 1482.7,971.53 1483.49,971.72 1484.28,971.9 1485.07,972.09 1485.86,972.27 1486.64,972.46 1487.43,972.64 1488.22,972.82 1489.01,973.01 1489.8,973.19 1490.59,973.38 1491.38,973.56 1492.17,973.75 1492.96,973.93 1493.74,974.11 1494.53,974.3 1495.32,974.48 1496.11,974.67 1496.9,974.85 1497.69,975.03 1498.48,975.22 1499.27,975.4 1500.06,975.59 1500.06,975.59 1501.33,973.96 1502.61,972.36 1503.88,970.79 1505.16,969.26 1506.43,967.76 1507.71,966.29 1508.98,964.85 1510.26,963.44 1511.53,962.06 1512.81,960.7 1514.08,959.38 1515.36,958.08 1516.63,956.81 1517.91,955.57 1519.19,954.35 1520.46,953.15 1521.74,951.99 1523.01,950.84 1524.29,949.72 1525.56,948.62 1526.84,947.54 1528.11,946.49 1529.39,945.46 1530.66,944.45 1530.66,944.45 1531.47,945.46 1532.28,946.43 1533.09,947.38 1533.9,948.29 1534.72,949.17 1535.53,950.03 1536.34,950.86 1537.15,951.65 1537.96,952.43 1538.77,953.18 1539.58,953.9 1540.39,954.6 1541.2,955.27 1542.01,955.93 1542.82,956.56 1543.63,957.17 1544.44,957.77 1545.25,958.34 1546.06,958.89 1546.87,959.43 1547.68,959.95 1548.49,960.45 1549.31,960.93 1550.12,961.4 1550.12,961.4 1551.43,954.36 1552.75,947.79 1554.07,941.68 1555.39,935.98 1556.71,930.67 1558.03,925.73 1559.35,921.12 1560.66,916.83 1561.98,912.84 1563.3,909.11 1564.62,905.64 1565.94,902.41 1567.26,899.4 1568.57,896.59 1569.89,893.98 1571.21,891.55 1572.53,889.28 1573.85,887.17 1575.17,885.2 1576.49,883.36 1577.8,881.65 1579.12,880.06 1580.44,878.58 1581.76,877.2 1581.76,877.2 1584.95,887.15 1588.14,896.2 1591.32,904.42 1594.51,911.89 1597.7,918.67 1600.89,924.84 1604.08,930.44 1607.26,935.53 1610.45,940.16 1613.64,944.36 1616.83,948.18 1620.02,951.65 1623.21,954.8 1626.39,957.66 1629.58,960.27 1632.77,962.63 1635.96,964.78 1639.15,966.73 1642.33,968.5 1645.52,970.12 1648.71,971.58 1651.9,972.91 1655.09,974.12 1658.28,975.22"/>
<rect class="fr" x="1299.3" y="837.4" width="415" height="221.1"/>
<path class="tk" d="M1299.3 1058.5v4M1351.17 1058.5v4M1403.05 1058.5v4M1454.92 1058.5v4M1506.8 1058.5v4M1558.67 1058.5v4M1610.55 1058.5v4M1662.42 1058.5v4M1714.3 1058.5v4M1299.3 1058.5h-4M1299.3 984.8h-4M1299.3 911.1h-4M1299.3 837.4h-4"/>
<text transform="translate(1295.8 1081) scale(1.12 1)" font-size="16.95" text-anchor="middle" class="s">- 200</text>
<text transform="translate(1351.17 1081) scale(1.12 1)" font-size="16.95" text-anchor="middle" class="s">0</text>
<text transform="translate(1403.05 1081) scale(1.12 1)" font-size="16.95" text-anchor="middle" class="s">200</text>
<text transform="translate(1454.92 1081) scale(1.12 1)" font-size="16.95" text-anchor="middle" class="s">400</text>
<text transform="translate(1506.8 1081) scale(1.12 1)" font-size="16.95" text-anchor="middle" class="s">600</text>
<text transform="translate(1558.67 1081) scale(1.12 1)" font-size="16.95" text-anchor="middle" class="s">800</text>
<text transform="translate(1613.7 1081) scale(1.12 1)" font-size="16.95" text-anchor="middle" class="s">1,000</text>
<text transform="translate(1664.2 1081) scale(1.12 1)" font-size="16.95" text-anchor="middle" class="s">1,200</text>
<text transform="translate(1718 1081) scale(1.12 1)" font-size="16.95" text-anchor="middle" class="s">1,400</text>
<text transform="translate(1286.7 1064.8) scale(1.12 1)" font-size="16.95" text-anchor="end" class="s">-4</text>
<text transform="translate(1286.7 991.1) scale(1.12 1)" font-size="16.95" text-anchor="end" class="s">0</text>
<text transform="translate(1286.7 917.4) scale(1.12 1)" font-size="16.95" text-anchor="end" class="s">4</text>
<text transform="translate(1286.7 843.7) scale(1.12 1)" font-size="16.95" text-anchor="end" class="s">8</text>
<text transform="translate(1313.9 812.6) scale(1.06 1)" font-size="33.1" text-anchor="start">Fc(aMD4)B2 (<tspan font-style="italic">K</tspan><tspan font-size="17" dy="11.5" dx="-1.2">D</tspan><tspan dy="-11.5" dx="0.6"> = 79.1 nM)</tspan></text>
<text transform="translate(1510.6 1124.9) scale(1.06 1)" font-size="33.1" text-anchor="middle">Time (s)</text>
<text transform="translate(1242.2 955.2) scale(1.12 1) rotate(-90)" font-size="31.55" text-anchor="middle">SPR signal (RU)</text>
<text transform="translate(1358.3 975.9) scale(1.12 1)" font-size="16.95" text-anchor="start" class="s">1</text>
<text transform="translate(1403.1 965) scale(1.12 1)" font-size="16.95" text-anchor="start" class="s">3</text>
<text transform="translate(1450.2 956.2) scale(1.12 1)" font-size="16.95" text-anchor="start" class="s">10</text>
<text transform="translate(1499.8 931) scale(1.12 1)" font-size="16.95" text-anchor="start" class="s">30</text>
<text transform="translate(1540.4 857.5) scale(1.12 1)" font-size="16.95" text-anchor="start" class="s">100 nM</text>
</g>
<g>
<polyline class="r" points="112.47,1423.74 112.99,1422.53 113.22,1423.01 113.37,1416.31 113.68,1428.99 113.99,1422.83 114.02,1422.62 114.53,1423.28 115.05,1423.13 115.56,1421.74 116.08,1422.46 116.6,1421.89 117.11,1421.89 117.63,1421.8 118.14,1421.6 118.66,1421.92 119.17,1420.88 119.69,1421.64 120.2,1421.56 120.72,1421.79 121.24,1421.36 121.75,1420.87 122.27,1419.78 122.78,1420.16 123.3,1420.63 123.81,1420.46 124.33,1419.08 124.84,1420.03 125.36,1419.34 125.87,1419.4 126.39,1418.85 126.91,1419.09 127.42,1418.49 127.4,1417.9 127.55,1396.82 127.86,1419.48 128.17,1417.8 128.45,1417.48 128.97,1416.92 129.48,1417.2 130,1417.97 130.51,1418.32 131.03,1416.93 131.55,1417.15 132.06,1417.66 132.58,1416.55 133.09,1416.71 133.61,1416.47 134.12,1416.08 134.64,1416.87 135.15,1416.98 135.67,1416.11 136.18,1416.98 136.7,1416.19 137.22,1416.96 137.73,1416.2 138.25,1415.87 138.76,1415.29 139.28,1415.21 139.79,1415.69 140.31,1416.31 140.82,1416.56 141.34,1415.96 141.86,1415.74 142.37,1416.33 142.89,1415.11 143.4,1415.29 143.92,1414.98 144.43,1415.61 144.95,1415.74 145.46,1416.12 145.98,1415.65 146.49,1415.56 147.01,1415.22 147.53,1415.12 148.04,1414.28 148.56,1413.84 149.07,1414.82 149.59,1414.74 150.1,1415.05 150.62,1414.28 151.13,1413.45 151.65,1414.38 152.17,1413.72 152.68,1414.21 153.2,1414.8 153.71,1413.71 154.23,1413.98 154.74,1414.3 155.26,1413.93 155.77,1414.08 156.29,1413.79 156.8,1413.57 157.32,1413.49 157.84,1413.13 158.07,1411.56 158.22,1409.18 158.53,1418.22 158.84,1411.53 158.87,1412.31 159.38,1412.46 159.61,1411.48 159.77,1408.39 160.08,1414.73 160.39,1411.45 160.41,1411.76 160.93,1411.76 161.44,1411.01 161.96,1411.23 162.48,1410.95 162.99,1410.39 163.51,1411.69 164.02,1412.2 164.54,1412.16 165.05,1411.72 165.57,1411.25 166.08,1410.78 166.6,1411.25 167.11,1410.38 167.63,1411.65 168.15,1410.7 168.66,1411.39 169.18,1410.51 169.69,1411.58 170.21,1410.4 170.72,1410.31 171.24,1409.88 171.75,1410.38 172.27,1411.21 172.79,1410.18 173.3,1410.67 173.82,1411.41 174.33,1410.8 174.85,1410.74 175.08,1410.7 175.23,1409.18 175.54,1420.28 175.85,1410.67 175.88,1411.26 176.39,1411.47 176.91,1410.77 176.88,1410.61 177.04,1372.25 177.35,1417.11 177.66,1410.51 177.94,1411.12 178.46,1410.71 178.97,1410.04 179.49,1409.77 180,1410.02 180.52,1410.18 181.03,1410.24 181.55,1410.43 182.06,1410.48 182.58,1410.04 183.1,1410.39 183.61,1409.44 184.13,1409.08 184.64,1409.06 185.16,1409.96 185.67,1409.67 186.19,1409.39 186.7,1409.8 187.22,1408.45 187.73,1408.27 188.25,1408.57 188.77,1408.29 189.28,1408.97 189.8,1409.1 190.31,1408.61 190.83,1408.02 191.34,1407.92 191.86,1408.88 192.37,1408.17 192.89,1407.38 193.41,1407.32 193.92,1406.94 194.44,1406.66 194.95,1407.76 195.47,1407.97 195.98,1407.58 196.5,1406.67 197.01,1407.31 197.53,1406.53 198.04,1406.35 198.56,1406.79 199.08,1406.71 199.59,1406.08 200.11,1406.09 200.62,1406.84 201.14,1406.14 201.65,1406.92 202.17,1406.85 202.68,1405.8 203.2,1405.56 203.72,1406.3 204.23,1406.54 204.75,1406.04 205.26,1405.43 205.78,1405.43 206.29,1404.95 206.81,1405.08 207.32,1404.91 207.84,1405.16 208.07,1406.8 208.23,1403.95 208.54,1417.11 208.84,1406.82 208.87,1406.96 209.39,1406.89 209.9,1406.81 210.42,1406.28 210.39,1406.84 210.55,1403.63 210.85,1409.97 211.16,1406.85 211.45,1407.63 211.96,1406.75 212.48,1407.21 212.99,1407.14 213.51,1407.61 214.03,1406.61 214.54,1407.18 215.06,1407.36 215.57,1406.58 216.09,1406.81 216.6,1407.27 217.12,1406.43 217.63,1406.92 218.15,1407.19 218.66,1406.29 219.18,1406.27 219.7,1406.34 220.21,1407.19 220.73,1406.56 221.24,1406.71 221.76,1406.38 222.27,1407.03 222.79,1406.58 223.3,1406.41 223.82,1407.03 224.05,1407.07 224.21,1405.22 224.52,1419.33 224.82,1407.08 224.85,1406.53 225.37,1406.09 225.88,1406.06 226.4,1406.27 226.91,1407.43 226.89,1407.44 227.04,1356.88 227.35,1416.31 227.66,1407.14 227.94,1406.67 228.46,1407.31 228.97,1406.75 229.49,1405.73 230.01,1405.14 230.52,1404.74 231.04,1405.81 231.55,1405.17 232.07,1404.36 232.58,1404.26 233.1,1404.61 233.61,1405.03 234.13,1403.56 234.65,1402.99 235.16,1402.96 235.68,1403.26 236.19,1402.44 236.71,1402.01 237.22,1401.85 237.74,1401.83 238.25,1402.12 238.77,1402.1 239.28,1401.83 239.8,1401.62 240.32,1401.06 240.83,1401.37 241.35,1400.32 241.86,1400.4 242.38,1400.58 242.89,1400.32 243.41,1399.84 243.92,1399.44 244.44,1398.56 244.96,1399.21 245.47,1399.07 245.99,1398.74 246.5,1398.66 247.02,1397.52 247.53,1398.01 248.05,1398.12 248.56,1397.16 249.08,1396.36 249.59,1395.77 250.11,1395.84 250.63,1396.08 251.14,1395.09 251.66,1394.82 252.17,1394.98 252.69,1394.74 253.2,1393.88 253.72,1393.31 254.23,1393.05 254.75,1394.12 255.27,1394.01 255.78,1393.67 256.3,1393.78 256.81,1392.68 257.04,1394.92 257.2,1384.62 257.51,1413.14 257.82,1394.97 257.84,1394.56 258.36,1394.73 258.87,1394.77 258.85,1395.07 259,1389.37 259.31,1400.46 259.62,1395.12 259.9,1394.44 260.42,1394.81 260.94,1394.45 261.45,1394.3 261.97,1394.66 262.48,1394.34 263,1395.06 263.51,1395.55 264.03,1394.96 264.54,1395.3 265.06,1395.81 265.58,1395.41 266.09,1395.63 266.61,1396.31 267.12,1395.41 267.64,1395.68 268.15,1395.02 268.67,1395.54 269.18,1395.09 269.7,1396.02 270.21,1396.5 270.73,1396.18 271.25,1395.71 271.76,1395.47 272.28,1395.71 272.79,1396.68 273.02,1396.26 273.18,1394.12 273.49,1408.07 273.8,1396.32 273.82,1397.2 274.34,1396.88 274.85,1395.85 275.37,1396.51 275.89,1396.18 275.86,1398.88 276.01,1352.44 276.32,1420.28 276.63,1397.79 276.92,1397.76 277.43,1396.24 277.95,1396.15 278.46,1395.37 278.98,1393.9 279.49,1393.58 280.01,1391.55 280.52,1391.21 281.04,1390.22 281.56,1388.82 282.07,1389.23 282.59,1387.41 283.1,1387.87 283.62,1386.61 284.13,1385.61 284.65,1384.25 285.16,1384.34 285.68,1382.95 286.2,1382.5 286.71,1382.2 287.23,1382.16 287.74,1381.61 288.26,1380.78 288.77,1380.1 289.29,1379.42 289.8,1378.06 290.32,1377.9 290.83,1377.04 291.35,1377.31 291.87,1376.87 292.38,1375.4 292.9,1374.22 293.41,1374.4 293.93,1374.56 294.44,1373.95 294.96,1373.17 295.47,1372.55 295.99,1371.67 296.51,1371.46 297.02,1370.5 297.54,1369.61 298.05,1368.98 298.57,1368.52 299.08,1368.31 299.6,1368.47 300.11,1367.27 300.63,1367.47 301.14,1366.31 301.66,1366.3 302.18,1365.72 302.69,1365.45 303.21,1364.83 303.72,1364.86 304.24,1364.21 304.75,1363.47 305.27,1363.57 305.78,1362.96 306.3,1362.74 306.53,1364.01 306.69,1347.84 307,1375.11 307.3,1364.64 307.33,1364.88 307.85,1365.18 308.36,1365.35 308.88,1366.62 309.39,1367.43 309.91,1366.91 310.42,1368.26 310.94,1367.87 311.45,1368.1 311.97,1369.37 312.49,1369.42 313,1370.36 313.52,1369.94 314.03,1371.2 314.55,1372.06 315.06,1372.77 315.58,1372.16 316.09,1373.05 316.61,1373.46 317.13,1372.77 317.64,1373.18 318.16,1373.58 318.67,1374.23 319.19,1374.6 319.7,1376.01 320.22,1375.42 320.73,1376.25 321.25,1375.91 321.76,1376.74 322.28,1376.44 322.51,1377.4 322.67,1370.35 322.98,1386.52 323.29,1377.81 323.31,1377.24 323.83,1378.62 324.34,1378.64 324.86,1378.9 325.09,1377.8 325.24,1352.91 325.55,1403.63 325.86,1374.44 325.89,1373.67 326.4,1370.48 326.92,1367.79 327.44,1365.95 327.95,1364.09 328.47,1361.87 328.98,1358.56 329.5,1355.51 330.01,1353.41 330.53,1351.73 331.04,1349.34 331.56,1346.99 332.07,1345.51 332.59,1342.95 333.11,1341.56 333.62,1340.14 334.14,1338.33 334.65,1335.83 335.17,1333.45 335.68,1332.24 336.2,1330.46 336.71,1328.24 337.23,1327.15 337.75,1325.31 338.26,1323.52 338.78,1322.27 339.29,1321.18 339.81,1319.09 340.32,1317.44 340.84,1316.81 341.35,1314.73 341.87,1313.4 342.38,1311.78 342.9,1310.55 343.42,1309.81 343.93,1308.44 344.45,1307.86 344.96,1306.4 345.48,1306.12 345.99,1304.89 346.51,1303.54 347.02,1301.77 347.54,1300.86 348.06,1299.55 348.57,1298.54 349.09,1297.44 349.6,1297.05 350.12,1296.36 350.63,1295.82 351.15,1295.49 351.66,1293.92 352.18,1293.15 352.69,1293.14 353.21,1292.52 353.73,1291.86 354.24,1290.35 354.76,1289.56 355.27,1289.52 355.79,1288.27 356.02,1289.52 356.17,1265.74 356.48,1297.44 356.79,1291.28 356.82,1291.68 357.33,1293.04 357.85,1293.56 358.37,1296.11 358.88,1297.8 359.4,1298.76 359.91,1299.51 360.43,1300.51 360.94,1302.59 361.46,1303.58 361.97,1305.87 362.49,1307.1 363,1307.52 363.52,1308.77 364.04,1310.36 364.55,1311.45 365.07,1312.81 365.58,1313.98 366.1,1314.56 366.61,1315.31 367.13,1317.57 367.64,1318.17 368.16,1318.78 368.68,1320.27 369.19,1321.65 369.71,1322.98 370.22,1323.91 370.74,1324.73 371.25,1325.62 371.77,1327.4 372.28,1327.21 372.8,1328.9 373.31,1329.64 373.83,1331.06 374.35,1331.44 374.86,1333.08 375.38,1333.82 375.89,1334.52 376.41,1335.42 376.92,1335.98 377.44,1337.26 377.95,1337.7 378.47,1337.89 378.99,1338.72 379.5,1338.93 380.02,1339.52 380.53,1341 381.05,1342.02 381.56,1342.39 382.08,1342.78 382.59,1343.91 383.11,1344.54 383.62,1345.17 384.14,1346.12 384.66,1346.91 385.17,1347.8 385.69,1348.41 386.2,1348.99 386.72,1349.06 387.23,1350.54 387.75,1351.54 388.26,1350.96 388.78,1351.79 389.3,1352.14 389.81,1352.27 390.33,1352.98 390.84,1353.87 391.36,1353.92 391.87,1354.8 392.39,1355.73 392.9,1356.83 393.42,1357.58 393.93,1357.14 394.45,1357.14 394.97,1358.35 395.48,1358.78 396,1358.99 396.51,1359.48 397.03,1360.5 397.54,1360.11 398.06,1360.86 398.57,1361.12 399.09,1361.53 399.61,1362.36 400.12,1362.49 400.64,1363.66 401.15,1363.75 401.67,1363.85 402.18,1364.17 402.7,1365.09 403.21,1365.84 403.73,1366.49 404.24,1366.93 404.76,1367.21 405.28,1367.03 405.79,1367.06 406.31,1367.07 406.82,1367.74 407.34,1367.66 407.85,1369.06 408.37,1369.23 408.88,1369.87 409.4,1369.65 409.92,1369.68 410.43,1369.88 410.95,1370.38 411.46,1370.86 411.98,1371.28 412.49,1371.98 413.01,1372.27 413.52,1372.08 414.04,1372.06 414.55,1372.99 415.07,1372.25 415.59,1373.52 416.1,1373.97 416.62,1373.76 417.13,1374.05 417.65,1374 418.16,1373.85 418.68,1374.11 419.19,1374.04 419.71,1374.69 420.23,1374.74 420.74,1375.32 421.26,1376.14 421.77,1376.65 422.29,1376.8 422.8,1376.56 423.32,1376.89 423.83,1376.67 424.35,1376.54 424.86,1376.21 425.38,1377.49 425.9,1376.73 426.41,1378.17 426.93,1377.34 427.44,1377 427.96,1378.02 428.47,1377.78 428.99,1378.29 429.5,1378.49 430.02,1378.2 430.54,1378.05 431.05,1379.16 431.57,1379.79 432.08,1378.97 432.6,1379.32 433.11,1379.04"/>
<path class="sp" d="M113.67 1416.31V1428.99M127.85 1396.82V1419.48M158.52 1409.18V1418.22M160.07 1408.39V1414.73M175.53 1409.18V1420.28M177.34 1372.25V1417.11M208.53 1403.95V1417.11M210.85 1403.63V1409.97M224.51 1405.22V1419.33M227.34 1356.88V1416.31M257.5 1384.62V1413.14M259.3 1389.37V1400.46M273.48 1394.12V1408.07M276.31 1352.44V1420.28M306.99 1347.84V1375.11M322.97 1370.35V1386.52M325.54 1352.91V1403.63M356.47 1265.74V1297.44"/>
<polyline class="k" points="112.47,1417.9 113.1,1417.87 113.73,1417.85 114.36,1417.82 114.98,1417.79 115.61,1417.77 116.24,1417.74 116.87,1417.72 117.5,1417.69 118.13,1417.66 118.75,1417.64 119.38,1417.61 120.01,1417.58 120.64,1417.56 121.27,1417.53 121.9,1417.5 122.52,1417.48 123.15,1417.45 123.78,1417.42 124.41,1417.4 125.04,1417.37 125.67,1417.35 126.29,1417.32 126.92,1417.29 127.55,1417.27 127.55,1417.27 128.83,1417.13 130.11,1417 131.38,1416.87 132.66,1416.74 133.94,1416.61 135.22,1416.47 136.5,1416.34 137.77,1416.21 139.05,1416.08 140.33,1415.95 141.61,1415.81 142.89,1415.68 144.16,1415.55 145.44,1415.42 146.72,1415.28 148,1415.15 149.28,1415.02 150.55,1414.89 151.83,1414.76 153.11,1414.62 154.39,1414.49 155.67,1414.36 156.94,1414.23 158.22,1414.1 158.22,1416.16 159.01,1416.18 159.79,1416.2 160.57,1416.22 161.36,1416.24 162.14,1416.26 162.93,1416.28 163.71,1416.3 164.49,1416.31 165.28,1416.33 166.06,1416.35 166.85,1416.37 167.63,1416.39 168.41,1416.41 169.2,1416.43 169.98,1416.45 170.77,1416.47 171.55,1416.49 172.33,1416.51 173.12,1416.53 173.9,1416.55 174.69,1416.57 175.47,1416.59 176.25,1416.61 177.04,1416.63 177.04,1411.56 178.34,1411.31 179.64,1411.06 180.94,1410.81 182.24,1410.56 183.54,1410.31 184.83,1410.05 186.13,1409.8 187.43,1409.55 188.73,1409.3 190.03,1409.05 191.33,1408.8 192.63,1408.55 193.93,1408.3 195.23,1408.05 196.53,1407.8 197.83,1407.54 199.13,1407.29 200.43,1407.04 201.73,1406.79 203.03,1406.54 204.33,1406.29 205.63,1406.04 206.93,1405.79 208.23,1405.54 208.23,1411.08 209.01,1411.17 209.79,1411.26 210.58,1411.34 211.36,1411.43 212.15,1411.51 212.93,1411.6 213.71,1411.69 214.5,1411.77 215.28,1411.86 216.07,1411.94 216.85,1412.03 217.63,1412.11 218.42,1412.2 219.2,1412.29 219.99,1412.37 220.77,1412.46 221.55,1412.54 222.34,1412.63 223.12,1412.72 223.91,1412.8 224.69,1412.89 225.47,1412.97 226.26,1413.06 227.04,1413.14 227.04,1408.07 228.3,1407.43 229.55,1406.79 230.81,1406.15 232.07,1405.51 233.32,1404.87 234.58,1404.23 235.84,1403.59 237.09,1402.95 238.35,1402.31 239.61,1401.67 240.86,1401.03 242.12,1400.39 243.38,1399.75 244.63,1399.1 245.89,1398.46 247.15,1397.82 248.4,1397.18 249.66,1396.54 250.92,1395.9 252.17,1395.26 253.43,1394.62 254.69,1393.98 255.94,1393.34 257.2,1392.7 257.2,1396.82 257.98,1397.03 258.77,1397.24 259.55,1397.45 260.33,1397.66 261.12,1397.88 261.9,1398.09 262.69,1398.3 263.47,1398.51 264.25,1398.72 265.04,1398.93 265.82,1399.14 266.61,1399.36 267.39,1399.57 268.17,1399.78 268.96,1399.99 269.74,1400.2 270.53,1400.41 271.31,1400.62 272.09,1400.83 272.88,1401.05 273.66,1401.26 274.45,1401.47 275.23,1401.68 276.01,1401.89 276.01,1401.89 277.29,1399.32 278.57,1396.84 279.85,1394.45 281.13,1392.14 282.4,1389.93 283.68,1387.79 284.96,1385.74 286.24,1383.75 287.52,1381.85 288.79,1380.01 290.07,1378.24 291.35,1376.53 292.63,1374.89 293.91,1373.31 295.18,1371.79 296.46,1370.32 297.74,1368.9 299.02,1367.54 300.3,1366.23 301.57,1364.97 302.85,1363.75 304.13,1362.58 305.41,1361.45 306.69,1360.36 306.69,1360.36 307.46,1361.28 308.23,1362.17 309.01,1363.05 309.78,1363.91 310.55,1364.75 311.33,1365.57 312.1,1366.38 312.87,1367.17 313.65,1367.94 314.42,1368.7 315.19,1369.44 315.97,1370.17 316.74,1370.88 317.51,1371.57 318.28,1372.26 319.06,1372.93 319.83,1373.58 320.6,1374.22 321.38,1374.85 322.15,1375.46 322.92,1376.07 323.7,1376.66 324.47,1377.23 325.24,1377.8 325.24,1377.8 326.53,1370.63 327.82,1363.94 329.11,1357.71 330.4,1351.91 331.69,1346.51 332.98,1341.47 334.27,1336.78 335.55,1332.41 336.84,1328.34 338.13,1324.55 339.42,1321.02 340.71,1317.73 342,1314.66 343.29,1311.8 344.58,1309.14 345.86,1306.66 347.15,1304.35 348.44,1302.2 349.73,1300.2 351.02,1298.33 352.31,1296.59 353.6,1294.97 354.89,1293.46 356.17,1292.05 356.17,1292.05 359.39,1299.77 362.6,1307 365.81,1313.76 369.02,1320.08 372.23,1326 375.44,1331.53 378.65,1336.71 381.86,1341.55 385.07,1346.08 388.29,1350.32 391.5,1354.29 394.71,1358 397.92,1361.47 401.13,1364.71 404.34,1367.75 407.55,1370.59 410.76,1373.25 413.97,1375.74 417.19,1378.06 420.4,1380.24 423.61,1382.27 426.82,1384.18 430.03,1385.96 433.24,1387.63"/>
<rect class="fr" x="76" y="1227.7" width="412.4" height="221.9"/>
<path class="tk" d="M76 1449.6v4M127.55 1449.6v4M179.1 1449.6v4M230.65 1449.6v4M282.2 1449.6v4M333.75 1449.6v4M385.3 1449.6v4M436.85 1449.6v4M488.4 1449.6v4M76 1449.6h-4M76 1417.9h-4M76 1354.5h-4M76 1291.1h-4M76 1227.7h-4"/>
<text transform="translate(72.5 1475.3) scale(1.12 1)" font-size="16.95" text-anchor="middle" class="s">- 200</text>
<text transform="translate(127.55 1475.3) scale(1.12 1)" font-size="16.95" text-anchor="middle" class="s">0</text>
<text transform="translate(179.1 1475.3) scale(1.12 1)" font-size="16.95" text-anchor="middle" class="s">200</text>
<text transform="translate(230.65 1475.3) scale(1.12 1)" font-size="16.95" text-anchor="middle" class="s">400</text>
<text transform="translate(282.2 1475.3) scale(1.12 1)" font-size="16.95" text-anchor="middle" class="s">600</text>
<text transform="translate(333.75 1475.3) scale(1.12 1)" font-size="16.95" text-anchor="middle" class="s">800</text>
<text transform="translate(389.2 1475.3) scale(1.12 1)" font-size="16.95" text-anchor="middle" class="s">1,000</text>
<text transform="translate(440.8 1475.3) scale(1.12 1)" font-size="16.95" text-anchor="middle" class="s">1,200</text>
<text transform="translate(494.4 1475.3) scale(1.12 1)" font-size="16.95" text-anchor="middle" class="s">1,400</text>
<text transform="translate(64.6 1424.2) scale(1.12 1)" font-size="16.95" text-anchor="end" class="s">0</text>
<text transform="translate(64.6 1360.8) scale(1.12 1)" font-size="16.95" text-anchor="end" class="s">4</text>
<text transform="translate(64.6 1297.4) scale(1.12 1)" font-size="16.95" text-anchor="end" class="s">8</text>
<text transform="translate(64.6 1234) scale(1.12 1)" font-size="16.95" text-anchor="end" class="s">12</text>
<text transform="translate(92.7 1204.1) scale(1.06 1)" font-size="33.1" text-anchor="start">Fc(aMD4)T2 (<tspan font-style="italic">K</tspan><tspan font-size="17" dy="11.5" dx="-1.2">D</tspan><tspan dy="-11.5" dx="0.6"> = 401.0 nM)</tspan></text>
<text transform="translate(284.5 1519.9) scale(1.06 1)" font-size="33.1" text-anchor="middle">Time (s)</text>
<text transform="translate(25.1 1341.3) scale(1.12 1) rotate(-90)" font-size="31.55" text-anchor="middle">SPR signal (RU)</text>
<text transform="translate(127.1 1388.9) scale(1.12 1)" font-size="16.95" text-anchor="start" class="s">10</text>
<text transform="translate(172.8 1378.7) scale(1.12 1)" font-size="16.95" text-anchor="start" class="s">30</text>
<text transform="translate(218.8 1360.7) scale(1.12 1)" font-size="16.95" text-anchor="start" class="s">100</text>
<text transform="translate(268.8 1335.2) scale(1.12 1)" font-size="16.95" text-anchor="start" class="s">300</text>
<text transform="translate(309.7 1257.6) scale(1.12 1)" font-size="16.95" text-anchor="start" class="s">1,000 nM</text>
</g>
<g>
<polyline class="r" points="1335.61,1404.56 1336.12,1404.64 1336.48,1404.49 1336.64,1400.21 1336.95,1407.98 1337.26,1404.46 1337.67,1404.84 1338.18,1404.56 1338.7,1404.07 1339.21,1404.67 1339.73,1404.41 1340.24,1404.24 1340.76,1404.73 1341.27,1404.56 1341.79,1404.17 1342.3,1404.27 1342.82,1404.02 1343.33,1404.47 1343.85,1404.53 1344.36,1404.67 1344.88,1404.32 1345.39,1403.78 1345.91,1403.9 1346.42,1403.75 1346.94,1404.06 1347.45,1403.81 1347.97,1404.33 1348.48,1404.31 1349,1403.92 1349.51,1403.73 1350.03,1403.93 1350.54,1404.31 1350.65,1403.91 1350.8,1400.83 1351.11,1443.1 1351.42,1403.88 1351.57,1404.28 1352.09,1404.2 1352.6,1403.65 1353.12,1404.03 1353.63,1403.48 1354.15,1403.28 1354.66,1403.99 1355.18,1403.91 1355.69,1403.76 1356.21,1404.14 1356.72,1403.87 1357.24,1403.29 1357.75,1403.84 1358.27,1403.55 1358.78,1403.89 1359.3,1403.55 1359.81,1403.11 1360.33,1403.61 1360.84,1403.95 1361.36,1403.99 1361.87,1403.54 1362.39,1403.87 1362.9,1403.91 1363.42,1403.51 1363.93,1402.95 1364.45,1403.21 1364.96,1403.31 1365.48,1403.1 1365.99,1403.53 1366.51,1403.2 1367.02,1403.46 1367.54,1403.11 1368.05,1402.64 1368.57,1403.33 1369.08,1403.07 1369.6,1402.92 1370.11,1403.29 1370.63,1403.28 1371.14,1402.57 1371.66,1402.3 1372.17,1403.03 1372.69,1402.71 1373.2,1402.35 1373.72,1402.89 1374.23,1402.7 1374.75,1403.17 1375.26,1403 1375.78,1402.63 1376.29,1402.57 1376.81,1402.35 1377.32,1402.92 1377.84,1402.86 1378.35,1402.32 1378.87,1402.38 1379.38,1402.52 1379.9,1402.6 1380.41,1402.05 1380.93,1402.23 1381.29,1402.19 1381.44,1394.3 1381.75,1406.99 1382.06,1402.17 1382.47,1402.28 1382.99,1402.26 1383.5,1402.45 1383.86,1402.13 1384.02,1398.98 1384.33,1407.61 1384.64,1402.12 1385.05,1402.59 1385.56,1402.14 1386.08,1402.49 1386.59,1401.94 1387.11,1402.48 1387.62,1401.93 1388.14,1401.71 1388.65,1401.92 1389.17,1401.78 1389.68,1402.17 1390.2,1401.83 1390.71,1402 1391.23,1402.24 1391.74,1401.62 1392.26,1401.93 1392.77,1402.06 1393.29,1401.63 1393.8,1401.95 1394.32,1401.76 1394.83,1402.17 1395.35,1401.66 1395.86,1402.03 1396.38,1402.36 1396.89,1401.58 1397.41,1402.07 1397.92,1401.49 1398.44,1401.24 1398.95,1401.51 1399.06,1399.48 1399.21,1396.15 1399.52,1439.03 1399.83,1399.36 1399.98,1399.88 1400.5,1399.71 1401.01,1399.41 1401.53,1399.04 1402.04,1398.5 1402.56,1398.84 1403.07,1399.1 1403.59,1398.73 1404.1,1398.94 1404.62,1399 1405.13,1398.51 1405.65,1398.15 1406.16,1398.56 1406.68,1398.27 1407.19,1397.87 1407.71,1397.61 1408.22,1397.82 1408.74,1397.35 1409.25,1397.81 1409.77,1397.39 1410.28,1397.12 1410.8,1396.86 1411.31,1397.08 1411.83,1397.48 1412.34,1397.6 1412.86,1397.12 1413.37,1397.24 1413.89,1396.77 1414.4,1397.08 1414.92,1396.45 1415.43,1396.71 1415.95,1396.94 1416.46,1396.8 1416.98,1396.42 1417.49,1396.12 1418.01,1396.12 1418.52,1396.27 1419.04,1395.96 1419.55,1395.35 1420.07,1395.46 1420.58,1395.05 1421.1,1395.72 1421.61,1394.97 1422.13,1394.75 1422.64,1394.94 1423.16,1394.96 1423.67,1394.89 1424.19,1394.45 1424.7,1395.05 1425.22,1394.64 1425.73,1394.53 1426.25,1394.66 1426.76,1394.24 1427.28,1394.03 1427.79,1394.49 1428.31,1394.02 1428.82,1394.03 1429.34,1393.93 1429.85,1393.7 1430.37,1394.12 1430.47,1394.67 1430.62,1383.46 1430.93,1396.52 1431.24,1394.71 1431.4,1394.85 1431.91,1394.43 1432.43,1394.92 1432.53,1394.79 1432.68,1390.36 1432.99,1395.29 1433.3,1394.83 1433.46,1394.53 1433.97,1394.64 1434.49,1394.46 1435,1395.22 1435.52,1394.97 1436.03,1394.88 1436.55,1394.81 1437.06,1395.07 1437.58,1395.5 1438.09,1395.56 1438.61,1395.19 1439.12,1395.5 1439.64,1395.73 1440.15,1395.56 1440.67,1395.4 1441.18,1395.31 1441.7,1395.78 1442.21,1395.25 1442.73,1395.51 1443.24,1395.19 1443.76,1395.84 1444.27,1395.18 1444.79,1395.31 1445.3,1395.01 1445.82,1394.91 1446.33,1395.05 1446.85,1395.81 1447.36,1395.87 1447.88,1396.02 1448.39,1395.56 1448.91,1395.99 1449.27,1394.67 1449.42,1391.59 1449.73,1434.1 1450.04,1394.37 1450.45,1394.71 1450.97,1393.68 1451.48,1393.12 1452,1393.35 1452.51,1392.9 1453.03,1392.85 1453.54,1392.61 1454.06,1392.52 1454.57,1392.06 1455.09,1392.12 1455.6,1391.96 1456.12,1391.49 1456.63,1391.47 1457.15,1391.07 1457.66,1390.28 1458.18,1390.72 1458.69,1390.64 1459.21,1389.77 1459.72,1390.02 1460.24,1389.76 1460.75,1388.93 1461.27,1388.71 1461.78,1388.84 1462.3,1388.88 1462.81,1388.52 1463.33,1388.2 1463.84,1387.45 1464.36,1386.85 1464.87,1386.66 1465.39,1386.32 1465.9,1386.01 1466.42,1385.79 1466.93,1385.51 1467.45,1385.2 1467.96,1385.77 1468.48,1385.59 1468.99,1385.43 1469.51,1384.87 1470.02,1384.62 1470.54,1384.5 1471.05,1383.83 1471.57,1383.85 1472.08,1383.88 1472.6,1383.66 1473.11,1383.24 1473.63,1382.79 1474.14,1382.51 1474.66,1382.37 1475.17,1382.4 1475.69,1382.04 1476.2,1381.82 1476.72,1381.73 1477.23,1381.18 1477.75,1381.16 1478.26,1380.49 1478.78,1380.14 1479.29,1380.36 1479.65,1379.82 1479.81,1370.15 1480.12,1384.2 1480.43,1381.77 1480.84,1381.9 1481.35,1381.78 1481.87,1381.61 1482.38,1381.46 1482.74,1381.96 1482.9,1379.27 1483.21,1386.66 1483.52,1382.01 1483.93,1382.05 1484.44,1382.24 1484.96,1382.64 1485.47,1382.29 1485.99,1382.28 1486.5,1381.92 1487.02,1382.34 1487.53,1382.02 1488.05,1382.25 1488.56,1382.75 1489.08,1382.36 1489.59,1382.66 1490.11,1382.56 1490.62,1382.99 1491.14,1383.22 1491.65,1382.46 1492.17,1383.06 1492.68,1383.2 1493.2,1383.25 1493.71,1383.37 1494.23,1382.73 1494.74,1382.37 1495.26,1382.6 1495.77,1382.96 1496.29,1382.63 1496.8,1382.91 1497.32,1383.39 1497.83,1383.05 1498.35,1383.28 1498.71,1384.44 1498.86,1376.93 1499.17,1403.91 1499.48,1383.42 1499.89,1382.95 1500.41,1382.28 1500.92,1381.1 1501.44,1379.9 1501.95,1379.24 1502.47,1379.02 1502.98,1377.77 1503.5,1377.46 1504.01,1376.39 1504.53,1375.14 1505.04,1374.38 1505.56,1373.39 1506.07,1372.7 1506.59,1372.43 1507.1,1371.97 1507.62,1371.03 1508.13,1370 1508.65,1369.6 1509.16,1368.89 1509.68,1367.78 1510.19,1367.3 1510.71,1366.44 1511.22,1365.73 1511.74,1364.66 1512.25,1364.71 1512.77,1364.13 1513.28,1362.92 1513.8,1362.16 1514.31,1362.01 1514.83,1361.49 1515.34,1360.81 1515.86,1359.83 1516.37,1358.73 1516.89,1358.58 1517.4,1358.13 1517.92,1357.1 1518.43,1356.59 1518.95,1355.6 1519.46,1354.71 1519.98,1354.07 1520.49,1353.66 1521.01,1353.34 1521.52,1353.26 1522.04,1352.13 1522.55,1351.75 1523.07,1351.18 1523.58,1350.45 1524.1,1349.5 1524.61,1349.2 1525.13,1348.38 1525.64,1347.69 1526.16,1347.94 1526.67,1347.41 1527.19,1346.36 1527.7,1345.76 1528.22,1345.01 1528.73,1345.16 1529.25,1344.54 1529.35,1346 1529.5,1334.41 1529.81,1349.69 1530.12,1346.15 1530.28,1346.01 1530.79,1346.09 1531.31,1345.91 1531.82,1346.7 1532.34,1347.16 1532.85,1346.64 1533.37,1346.79 1533.88,1347.29 1534.4,1346.93 1534.91,1347.41 1535.43,1347.79 1535.94,1347.84 1536.46,1348.18 1536.97,1348.01 1537.49,1347.66 1538,1347.92 1538.52,1347.58 1539.03,1348.42 1539.55,1348.65 1540.06,1348.83 1540.58,1348.54 1541.09,1348.86 1541.61,1348.58 1542.12,1348.68 1542.64,1348.72 1543.15,1348.54 1543.67,1348.59 1544.18,1348.54 1544.7,1349.32 1545.21,1349.42 1545.73,1348.96 1546.24,1349.39 1546.76,1349.7 1547.27,1349.68 1547.63,1349.67 1547.79,1328.75 1548.1,1355.85 1548.41,1348.15 1548.82,1346.64 1549.33,1345.55 1549.85,1343.34 1550.36,1341.97 1550.88,1340.78 1551.39,1339.05 1551.91,1337.16 1552.42,1336.16 1552.94,1335.19 1553.45,1333.78 1553.97,1332.53 1554.48,1330.75 1555,1329.49 1555.51,1327.68 1556.03,1326.82 1556.54,1325.9 1557.06,1324.32 1557.57,1323.31 1558.09,1322 1558.6,1320.84 1559.12,1319.74 1559.63,1318.15 1560.15,1316.59 1560.66,1315.86 1561.18,1314.63 1561.69,1313.82 1562.21,1312.27 1562.72,1311.41 1563.24,1310.95 1563.75,1309.44 1564.27,1308.79 1564.78,1308.08 1565.3,1307.24 1565.81,1305.55 1566.33,1304.46 1566.84,1303.85 1567.36,1302.85 1567.87,1301.78 1568.39,1301.46 1568.9,1300.17 1569.42,1299.19 1569.93,1298.07 1570.45,1298 1570.96,1296.97 1571.48,1296.15 1571.99,1295.05 1572.51,1294.62 1573.02,1293.7 1573.54,1292.68 1574.05,1292.37 1574.57,1291.64 1575.08,1290.57 1575.6,1290.56 1576.11,1289.23 1576.63,1288.95 1577.14,1288.29 1577.66,1287.81 1578.17,1286.72 1578.69,1286.2 1579.2,1285.41 1579.31,1285.37 1579.46,1251.73 1579.77,1318.52 1580.08,1285.77 1580.23,1285.61 1580.75,1285.8 1581.26,1286.22 1581.78,1287.03 1582.29,1287.49 1582.81,1287.68 1583.32,1288.33 1583.84,1287.91 1584.35,1288.51 1584.87,1288.4 1585.38,1289.31 1585.9,1289.4 1586.41,1289.49 1586.93,1289.87 1587.44,1290.42 1587.96,1291.21 1588.47,1291.29 1588.99,1291.57 1589.5,1291.34 1590.02,1291.43 1590.53,1291.68 1591.05,1291.94 1591.56,1293.02 1592.08,1293.73 1592.59,1293.92 1593.11,1294.45 1593.62,1294.73 1594.14,1294.58 1594.65,1295.09 1595.17,1295.07 1595.68,1295.48 1596.2,1295.91 1596.71,1295.59 1597.23,1296.42 1597.74,1296.23 1598.26,1296.7 1598.77,1296.92 1599.29,1297.68 1599.8,1297.56 1600.32,1297.56 1600.83,1298.41 1601.35,1298.63 1601.86,1298.72 1602.38,1299.11 1602.89,1299.15 1603.41,1299.46 1603.92,1300.06 1604.44,1300.1 1604.95,1300.21 1605.47,1300.72 1605.98,1300.96 1606.5,1301.17 1607.01,1301.58 1607.53,1302.27 1608.04,1302.38 1608.56,1302.24 1609.07,1302.42 1609.59,1303.27 1610.1,1303.36 1610.62,1303.46 1611.13,1303.72 1611.65,1304.35 1612.16,1304.26 1612.68,1304.35 1613.19,1304.7 1613.71,1304.61 1614.22,1305.09 1614.74,1305.97 1615.25,1306.18 1615.77,1306.01 1616.28,1306.72 1616.8,1306.28 1617.31,1306.55 1617.83,1306.74 1618.34,1307.54 1618.86,1308.14 1619.37,1307.67 1619.89,1308.02 1620.4,1308.37 1620.92,1308.58 1621.43,1308.57 1621.95,1309.1 1622.46,1309.06 1622.98,1309.79 1623.49,1309.41 1624.01,1309.71 1624.52,1310.33 1625.04,1310.55 1625.55,1310.39 1626.07,1311.02 1626.58,1311.03 1627.1,1310.99 1627.61,1311.07 1628.13,1311.93 1628.64,1311.86 1629.16,1312.16 1629.67,1312.23 1630.19,1313.11 1630.7,1313.23 1631.22,1313.38 1631.73,1313.23 1632.25,1313.67 1632.76,1314.37 1633.28,1314.6 1633.79,1314.22 1634.31,1314.18 1634.82,1314.61 1635.34,1315.37 1635.85,1315.12 1636.37,1315.08 1636.88,1315.76 1637.4,1315.95 1637.91,1316.34 1638.43,1316.84 1638.94,1316.5 1639.46,1317.07 1639.97,1317.48 1640.49,1316.97 1641,1317.71 1641.52,1317.46 1642.03,1317.46 1642.55,1318.13 1643.06,1318.39 1643.58,1318.75 1644.09,1318.54 1644.61,1318.35 1645.12,1318.63 1645.64,1319.1 1646.15,1319.36 1646.67,1319.7 1647.18,1319.65 1647.7,1320.19 1648.21,1320.53 1648.73,1320.35 1649.24,1320.83 1649.76,1320.43 1650.27,1320.66 1650.79,1321.39 1651.3,1321.93 1651.82,1321.68 1652.33,1322.17 1652.85,1322.11 1653.36,1322.12 1653.88,1322.04 1654.39,1322.54 1654.91,1322.69 1655.42,1322.6 1655.94,1323.35"/>
<path class="sp" d="M1336.94 1400.21V1407.98M1351.1 1400.83V1443.1M1381.74 1394.3V1406.99M1384.32 1398.98V1407.61M1399.51 1396.15V1439.03M1430.92 1383.46V1396.52M1432.98 1390.36V1395.29M1449.72 1391.59V1434.1M1480.11 1370.15V1384.2M1483.2 1379.27V1386.66M1499.16 1376.93V1403.91M1529.8 1334.41V1349.69M1548.09 1328.75V1355.85M1579.76 1251.73V1318.52"/>
<polyline class="k" points="1335.61,1403.91 1336.24,1403.91 1336.87,1403.91 1337.51,1403.91 1338.14,1403.91 1338.77,1403.91 1339.41,1403.91 1340.04,1403.91 1340.67,1403.91 1341.3,1403.91 1341.94,1403.91 1342.57,1403.91 1343.2,1403.91 1343.84,1403.91 1344.47,1403.91 1345.1,1403.91 1345.74,1403.91 1346.37,1403.91 1347,1403.91 1347.63,1403.91 1348.27,1403.91 1348.9,1403.91 1349.53,1403.91 1350.17,1403.91 1350.8,1403.91 1350.8,1403.91 1352.08,1403.85 1353.35,1403.79 1354.63,1403.73 1355.91,1403.66 1357.18,1403.6 1358.46,1403.54 1359.74,1403.48 1361.01,1403.42 1362.29,1403.36 1363.57,1403.3 1364.84,1403.23 1366.12,1403.17 1367.4,1403.11 1368.67,1403.05 1369.95,1402.99 1371.23,1402.93 1372.51,1402.86 1373.78,1402.8 1375.06,1402.74 1376.34,1402.68 1377.61,1402.62 1378.89,1402.56 1380.17,1402.49 1381.44,1402.43 1381.44,1402.43 1382.18,1402.42 1382.92,1402.4 1383.66,1402.39 1384.4,1402.37 1385.14,1402.36 1385.88,1402.34 1386.62,1402.32 1387.37,1402.31 1388.11,1402.29 1388.85,1402.28 1389.59,1402.26 1390.33,1402.25 1391.07,1402.23 1391.81,1402.22 1392.55,1402.2 1393.29,1402.19 1394.03,1402.17 1394.77,1402.16 1395.51,1402.14 1396.25,1402.12 1396.99,1402.11 1397.73,1402.09 1398.47,1402.08 1399.21,1402.06 1399.21,1399.48 1400.52,1399.23 1401.83,1398.99 1403.14,1398.75 1404.45,1398.51 1405.75,1398.27 1407.06,1398.03 1408.37,1397.79 1409.68,1397.54 1410.99,1397.3 1412.3,1397.06 1413.61,1396.82 1414.92,1396.58 1416.23,1396.34 1417.54,1396.1 1418.84,1395.86 1420.15,1395.61 1421.46,1395.37 1422.77,1395.13 1424.08,1394.89 1425.39,1394.65 1426.7,1394.41 1428.01,1394.17 1429.32,1393.92 1430.62,1393.68 1430.62,1396.39 1431.41,1396.44 1432.19,1396.48 1432.97,1396.52 1433.76,1396.56 1434.54,1396.6 1435.32,1396.64 1436.11,1396.68 1436.89,1396.72 1437.67,1396.76 1438.46,1396.81 1439.24,1396.85 1440.02,1396.89 1440.81,1396.93 1441.59,1396.97 1442.37,1397.01 1443.16,1397.05 1443.94,1397.09 1444.72,1397.13 1445.51,1397.17 1446.29,1397.22 1447.07,1397.26 1447.86,1397.3 1448.64,1397.34 1449.42,1397.38 1449.42,1394.67 1450.69,1394.05 1451.97,1393.43 1453.24,1392.81 1454.51,1392.18 1455.78,1391.56 1457.05,1390.94 1458.32,1390.32 1459.59,1389.7 1460.87,1389.08 1462.14,1388.46 1463.41,1387.84 1464.68,1387.21 1465.95,1386.59 1467.22,1385.97 1468.49,1385.35 1469.76,1384.73 1471.04,1384.11 1472.31,1383.49 1473.58,1382.87 1474.85,1382.24 1476.12,1381.62 1477.39,1381 1478.66,1380.38 1479.94,1379.76 1479.94,1383.09 1480.72,1383.14 1481.51,1383.2 1482.3,1383.26 1483.09,1383.31 1483.88,1383.37 1484.67,1383.43 1485.46,1383.48 1486.24,1383.54 1487.03,1383.59 1487.82,1383.65 1488.61,1383.71 1489.4,1383.76 1490.19,1383.82 1490.98,1383.88 1491.77,1383.93 1492.55,1383.99 1493.34,1384.05 1494.13,1384.1 1494.92,1384.16 1495.71,1384.22 1496.5,1384.27 1497.29,1384.33 1498.07,1384.39 1498.86,1384.44 1498.86,1384.44 1500.14,1382.34 1501.42,1380.28 1502.69,1378.26 1503.97,1376.28 1505.25,1374.34 1506.52,1372.45 1507.8,1370.59 1509.08,1368.77 1510.35,1366.99 1511.63,1365.24 1512.91,1363.53 1514.18,1361.86 1515.46,1360.22 1516.74,1358.61 1518.01,1357.04 1519.29,1355.5 1520.57,1353.99 1521.84,1352.52 1523.12,1351.07 1524.4,1349.65 1525.67,1348.27 1526.95,1346.91 1528.23,1345.58 1529.5,1344.27 1529.5,1346 1530.27,1346.19 1531.04,1346.38 1531.81,1346.57 1532.57,1346.75 1533.34,1346.93 1534.11,1347.1 1534.87,1347.27 1535.64,1347.44 1536.41,1347.6 1537.18,1347.76 1537.94,1347.92 1538.71,1348.07 1539.48,1348.23 1540.24,1348.37 1541.01,1348.52 1541.78,1348.66 1542.55,1348.8 1543.31,1348.93 1544.08,1349.07 1544.85,1349.2 1545.61,1349.33 1546.38,1349.45 1547.15,1349.57 1547.92,1349.69 1547.92,1349.69 1549.23,1345.54 1550.54,1341.56 1551.86,1337.74 1553.17,1334.07 1554.49,1330.56 1555.8,1327.19 1557.12,1323.95 1558.43,1320.85 1559.75,1317.87 1561.06,1315.02 1562.37,1312.28 1563.69,1309.66 1565,1307.14 1566.32,1304.72 1567.63,1302.4 1568.95,1300.18 1570.26,1298.05 1571.57,1296 1572.89,1294.04 1574.2,1292.16 1575.52,1290.36 1576.83,1288.62 1578.15,1286.96 1579.46,1285.37 1579.46,1285.37 1582.66,1287.48 1585.85,1289.53 1589.05,1291.53 1592.25,1293.48 1595.45,1295.38 1598.64,1297.24 1601.84,1299.05 1605.04,1300.82 1608.24,1302.54 1611.43,1304.22 1614.63,1305.86 1617.83,1307.46 1621.02,1309.01 1624.22,1310.53 1627.42,1312.02 1630.62,1313.46 1633.81,1314.87 1637.01,1316.25 1640.21,1317.59 1643.41,1318.9 1646.6,1320.17 1649.8,1321.42 1653,1322.63 1656.19,1323.82"/>
<rect class="fr" x="1299.3" y="1231.4" width="412" height="221.8"/>
<path class="tk" d="M1299.3 1453.2v4M1350.8 1453.2v4M1402.3 1453.2v4M1453.8 1453.2v4M1505.3 1453.2v4M1556.8 1453.2v4M1608.3 1453.2v4M1659.8 1453.2v4M1711.3 1453.2v4M1299.3 1453.2h-4M1299.3 1403.91h-4M1299.3 1354.62h-4M1299.3 1305.33h-4M1299.3 1256.04h-4"/>
<text transform="translate(1295.8 1475.1) scale(1.12 1)" font-size="16.95" text-anchor="middle" class="s">- 200</text>
<text transform="translate(1350.8 1475.1) scale(1.12 1)" font-size="16.95" text-anchor="middle" class="s">0</text>
<text transform="translate(1402.3 1475.1) scale(1.12 1)" font-size="16.95" text-anchor="middle" class="s">200</text>
<text transform="translate(1453.8 1475.1) scale(1.12 1)" font-size="16.95" text-anchor="middle" class="s">400</text>
<text transform="translate(1505.3 1475.1) scale(1.12 1)" font-size="16.95" text-anchor="middle" class="s">600</text>
<text transform="translate(1556.8 1475.1) scale(1.12 1)" font-size="16.95" text-anchor="middle" class="s">800</text>
<text transform="translate(1613.7 1475.1) scale(1.12 1)" font-size="16.95" text-anchor="middle" class="s">1,000</text>
<text transform="translate(1664.2 1475.1) scale(1.12 1)" font-size="16.95" text-anchor="middle" class="s">1,200</text>
<text transform="translate(1718 1475.1) scale(1.12 1)" font-size="16.95" text-anchor="middle" class="s">1,400</text>
<text transform="translate(1287.4 1459.5) scale(1.12 1)" font-size="16.95" text-anchor="end" class="s">-4</text>
<text transform="translate(1287.4 1410.21) scale(1.12 1)" font-size="16.95" text-anchor="end" class="s">0</text>
<text transform="translate(1287.4 1360.92) scale(1.12 1)" font-size="16.95" text-anchor="end" class="s">4</text>
<text transform="translate(1287.4 1311.63) scale(1.12 1)" font-size="16.95" text-anchor="end" class="s">8</text>
<text transform="translate(1287.4 1262.34) scale(1.12 1)" font-size="16.95" text-anchor="end" class="s">12</text>
<text transform="translate(1313.9 1204.1) scale(1.06 1)" font-size="33.1" text-anchor="start">Fc(aMD4)B3 (<tspan font-style="italic">K</tspan><tspan font-size="17" dy="11.5" dx="-1.2">D</tspan><tspan dy="-11.5" dx="0.6"> = 4.0 nM)</tspan></text>
<text transform="translate(1510.6 1519.9) scale(1.06 1)" font-size="33.1" text-anchor="middle">Time (s)</text>
<text transform="translate(1242.2 1350.2) scale(1.12 1) rotate(-90)" font-size="31.55" text-anchor="middle">SPR signal (RU)</text>
<text transform="translate(1355.2 1381.8) scale(1.12 1)" font-size="16.95" text-anchor="start" class="s">0.03</text>
<text transform="translate(1400.9 1371.6) scale(1.12 1)" font-size="16.95" text-anchor="start" class="s">0.1</text>
<text transform="translate(1447.1 1362) scale(1.12 1)" font-size="16.95" text-anchor="start" class="s">0.3</text>
<text transform="translate(1498.1 1336.9) scale(1.12 1)" font-size="16.95" text-anchor="start" class="s">1</text>
<text transform="translate(1529.5 1279) scale(1.12 1)" font-size="16.95" text-anchor="start" class="s">3 nM</text>
</g>
<g>
<polyline class="r" points="111.54,1777.74 112.06,1778.17 112.16,1778 112.32,1773.25 112.63,1784.34 112.94,1778 113.09,1779.01 113.45,1778 113.61,1774.04 113.92,1783.55 114.23,1778 114.64,1776.91 115.16,1778.88 115.67,1778.23 116.19,1778.72 116.71,1778.39 117.22,1777.58 117.74,1777.24 118.25,1778.3 118.77,1777.66 119.29,1777.75 119.8,1778.06 120.32,1778.29 120.84,1777.88 121.35,1778.01 121.87,1777.77 122.38,1777.72 122.9,1778.36 123.42,1777.79 123.93,1777.33 124.45,1777.19 124.96,1777.57 125.48,1778.41 126,1778.76 126.36,1777.21 126.51,1748.04 126.82,1805.74 127.13,1777.08 127.54,1777.14 128.06,1777.11 128.58,1776.38 129.09,1776.78 129.61,1776.57 130.13,1776.57 130.64,1776.98 131.16,1776.41 131.67,1775.84 132.19,1776.43 132.71,1776.5 133.22,1776.23 133.74,1776.55 134.25,1776.04 134.77,1775.41 135.29,1775.33 135.8,1775.41 136.32,1774.99 136.84,1775.67 137.35,1775.34 137.87,1775.42 138.38,1775.11 138.9,1775.57 139.42,1774.86 139.93,1775.41 140.45,1775.47 140.96,1774.66 141.48,1774.16 142,1774.58 142.51,1774.71 143.03,1774.92 143.54,1774.92 144.06,1774.46 144.58,1774.8 145.09,1774.95 145.61,1774.56 146.13,1774.74 146.64,1774.17 147.16,1773.72 147.67,1773.59 148.19,1773.87 148.71,1774.1 149.22,1774.04 149.74,1774.52 150.25,1773.78 150.77,1773.96 151.29,1774.01 151.8,1774.29 152.32,1773.91 152.83,1773.58 153.35,1773.67 153.87,1773.08 154.38,1773.09 154.9,1773.6 155.42,1773.4 155.93,1772.83 156.45,1773.09 156.81,1770.71 156.96,1756.29 157.27,1779.27 157.58,1770.72 158,1770.9 158.36,1770.74 158.51,1766.9 158.82,1773.25 159.13,1770.75 159.54,1770.91 160.06,1770.71 160.58,1770.7 161.09,1770.77 161.61,1771.2 162.13,1771.01 162.64,1770.3 163.16,1770.74 163.67,1771.37 164.19,1771.64 164.71,1771.08 165.22,1771.49 165.74,1771.58 166.25,1771.6 166.77,1771.19 167.29,1770.38 167.8,1770.74 168.32,1770.9 168.83,1770.99 169.35,1770.94 169.87,1771 170.38,1770.68 170.9,1770.36 171.42,1770.5 171.93,1770.9 172.45,1770.76 172.96,1770.4 173.48,1771.21 174,1771.4 174.1,1771 174.25,1768.49 174.56,1779.27 174.87,1771.01 175.03,1770.78 175.54,1770.76 175.65,1771.03 175.8,1768.97 176.11,1785.77 176.42,1770.84 176.58,1770.32 177.09,1770.5 177.61,1770.07 178.12,1769.63 178.64,1770.04 179.16,1769.58 179.67,1769.5 180.19,1769.19 180.71,1770.04 181.22,1769.19 181.74,1769 182.25,1768.62 182.77,1768.39 183.29,1769.11 183.8,1768.82 184.32,1769.3 184.83,1768.85 185.35,1768.23 185.87,1768.86 186.38,1768.83 186.9,1769.09 187.42,1768.99 187.93,1768.89 188.45,1768.94 188.96,1767.8 189.48,1767.49 190,1767.85 190.51,1767.6 191.03,1767.52 191.54,1767.67 192.06,1767.8 192.58,1767.51 193.09,1767.51 193.61,1767.82 194.12,1767.78 194.64,1767.4 195.16,1767.24 195.67,1767.66 196.19,1767.29 196.71,1766.8 197.22,1766.6 197.74,1766.77 198.25,1767.53 198.77,1767.32 199.29,1767.64 199.8,1767.77 200.32,1767.54 200.83,1767.19 201.35,1766.67 201.87,1766.62 202.38,1767.01 202.9,1766.62 203.42,1766.69 203.93,1766.7 204.45,1766.98 204.96,1766.84 205.48,1766.9 206,1766.42 206.36,1768.49 206.51,1760.25 206.82,1771.66 207.13,1768.54 207.54,1768.62 208.06,1768.66 208.42,1768.66 208.58,1765.32 208.89,1770.87 209.2,1768.71 209.61,1768.25 210.12,1768.73 210.64,1768.45 211.16,1768.16 211.67,1768.06 212.19,1768.39 212.71,1769.34 213.22,1768.73 213.74,1768.56 214.25,1769.54 214.77,1769.53 215.29,1769.56 215.8,1769.08 216.32,1769.1 216.83,1769.54 217.35,1769.84 217.87,1770 218.38,1770.17 218.9,1769.4 219.41,1768.98 219.93,1769.74 220.45,1769.39 220.96,1769.04 221.48,1769.88 222,1769.73 222.51,1769.87 223.03,1769.29 223.54,1769.24 224.06,1770.31 224.58,1770.48 225.09,1769.77 225.45,1770.06 225.61,1752.01 225.92,1813.98 226.23,1767.98 226.64,1767.14 227.16,1766.55 227.67,1765.8 228.19,1765.99 228.71,1766.11 229.22,1765.05 229.74,1765.19 230.25,1764.33 230.77,1763.39 231.29,1763.38 231.8,1762.87 232.32,1762.98 232.83,1762.8 233.35,1761.95 233.87,1761.12 234.38,1760.44 234.9,1761.19 235.41,1760.15 235.93,1760.09 236.45,1760.09 236.96,1759.84 237.48,1759.35 238,1759.29 238.51,1759.35 239.03,1758.32 239.54,1757.99 240.06,1757.85 240.58,1757.51 241.09,1756.92 241.61,1757.58 242.12,1756.87 242.64,1756.49 243.16,1756.82 243.67,1756.55 244.19,1756.46 244.71,1756.63 245.22,1756.29 245.74,1756.4 246.25,1755.38 246.77,1755.84 247.29,1755.34 247.8,1755.16 248.32,1754.49 248.83,1754.4 249.35,1754.81 249.87,1754.85 250.38,1755.18 250.9,1755.22 251.41,1754.83 251.93,1753.83 252.45,1754.52 252.96,1754.53 253.48,1753.9 254,1753.96 254.51,1754.12 255.03,1753.18 255.54,1753.91 255.65,1757.39 255.8,1733.94 256.11,1760.57 256.42,1758.04 256.58,1758.3 257.09,1758.94 257.61,1759.67 258.12,1760.28 258.64,1760.49 259.16,1760.42 259.67,1761.04 260.19,1761.14 260.71,1761.31 261.22,1762.5 261.74,1762.29 262.25,1762.82 262.77,1763.44 263.29,1763.76 263.8,1763.63 264.32,1764.41 264.83,1765.25 265.35,1764.67 265.87,1765.7 266.38,1766.26 266.9,1765.87 267.41,1766.42 267.93,1766.8 268.45,1766.65 268.96,1766.46 269.48,1767.22 270,1766.93 270.51,1767.33 271.03,1767.62 271.54,1767.95 272.06,1768.84 272.58,1769.1 273.09,1768.66 273.61,1768.61 274.12,1769.44 274.64,1769.17 274.74,1768.49 274.9,1751.69 275.21,1801.78 275.52,1766.09 275.67,1765.4 276.19,1763.59 276.7,1762.11 277.22,1760.28 277.74,1757.83 278.25,1756.97 278.77,1754.82 279.29,1753.65 279.8,1752.91 280.32,1750.93 280.83,1750.45 281.35,1748.49 281.87,1747.77 282.38,1746.11 282.9,1745.13 283.41,1744.65 283.93,1743.54 284.45,1742.2 284.96,1742.2 285.48,1741.66 286,1740.91 286.51,1739.51 287.03,1739.34 287.54,1738.86 288.06,1737.85 288.58,1737.18 289.09,1736.77 289.61,1736.16 290.12,1736.26 290.64,1736.03 291.16,1735.64 291.67,1735.18 292.19,1733.9 292.7,1732.94 293.22,1733.42 293.74,1733.06 294.25,1733.16 294.77,1732.49 295.29,1731.78 295.8,1731.39 296.32,1730.74 296.83,1730.77 297.35,1731.26 297.87,1730.87 298.38,1730.49 298.9,1730.38 299.41,1730.58 299.93,1729.8 300.45,1729.58 300.96,1729.12 301.48,1729.28 302,1729.6 302.51,1729.38 303.03,1729.32 303.54,1728.86 304.06,1729 304.58,1729.06 305.09,1728.46 305.61,1728.65 305.71,1736.79 305.87,1705.25 306.18,1741.55 306.49,1738.58 306.64,1739.73 307.16,1740.42 307.67,1741.41 308.19,1742.6 308.7,1744.09 309.22,1745.32 309.74,1746.35 310.25,1747.81 310.77,1748.91 311.29,1749.71 311.8,1750.71 312.32,1751.7 312.83,1752.59 313.35,1753.6 313.87,1754.89 314.38,1755.75 314.9,1756.07 315.41,1757 315.93,1757.25 316.45,1758.37 316.96,1758.83 317.48,1760.08 317.99,1760.69 318.51,1760.6 319.03,1761.77 319.54,1761.97 320.06,1763.11 320.58,1763.12 321.09,1763.63 321.61,1763.55 322.12,1763.9 322.64,1764.37 323.16,1765.33 323.67,1765.52 324.03,1765 324.19,1758.98 324.5,1789.1 324.81,1754.24 325.22,1747.26 325.74,1739.16 326.25,1732.39 326.77,1725.56 327.29,1719.73 327.8,1714.01 328.32,1709.12 328.83,1704.4 329.35,1700.49 329.87,1697.73 330.38,1694.04 330.9,1691.3 331.41,1688.05 331.93,1686.25 332.45,1684.04 332.96,1681.72 333.48,1679.4 333.99,1678.23 334.51,1676.98 335.03,1675.33 335.54,1673.97 336.06,1672.63 336.58,1671.85 337.09,1671.7 337.61,1670.13 338.12,1669.19 338.64,1669.04 339.16,1668.38 339.67,1667.56 340.19,1666.89 340.7,1666.62 341.22,1667.04 341.74,1667.02 342.25,1666.41 342.77,1665.92 343.28,1665.76 343.8,1664.99 344.32,1664.59 344.83,1664.76 345.35,1664.35 345.87,1664.72 346.38,1663.82 346.9,1664.31 347.41,1664.5 347.93,1664.22 348.45,1663.47 348.96,1663.47 349.48,1663.32 349.99,1663.05 350.51,1663.45 351.03,1662.85 351.54,1662.56 352.06,1662.99 352.58,1662.85 353.09,1662.65 353.61,1662.88 354.12,1663.5 354.64,1663.06 355.16,1663.13 355.26,1676.56 355.41,1643.28 355.72,1682.9 356.03,1683.61 356.19,1685.58 356.7,1691.79 357.22,1696.72 357.74,1701.69 358.25,1705.79 358.77,1710.13 359.28,1713.94 359.8,1717.15 360.32,1721.08 360.83,1723.84 361.35,1726.92 361.87,1730.06 362.38,1731.94 362.9,1734.33 363.41,1736.14 363.93,1738.05 364.45,1740.82 364.96,1742.15 365.48,1743.94 365.99,1745.02 366.51,1747.27 367.03,1747.96 367.54,1749.56 368.06,1751.2 368.58,1752.03 369.09,1752.43 369.61,1754.15 370.12,1754.95 370.64,1756.07 371.16,1757.08 371.67,1756.82 372.19,1757.51 372.7,1758.1 373.22,1758.26 373.74,1759.67 374.25,1759.39 374.77,1759.85 375.28,1760.14 375.8,1760.54 376.32,1761.44 376.83,1762.43 377.35,1761.79 377.87,1762.19 378.38,1762.42 378.9,1762.68 379.41,1763.41 379.93,1763.37 380.45,1763.74 380.96,1764.28 381.48,1764.24 381.99,1764.38 382.51,1764.73 383.03,1764.39 383.54,1764.17 384.06,1764.55 384.57,1765.48 385.09,1765.12 385.61,1764.89 386.12,1764.59 386.64,1765.12 387.16,1765.4 387.67,1765.33 388.19,1765.57 388.7,1764.89 389.22,1765.59 389.74,1765.18 390.25,1764.7 390.77,1765.53 391.28,1765.66 391.8,1764.69 392.32,1765.2 392.83,1764.81 393.35,1765.6 393.87,1765.33 394.38,1765.77 394.9,1765.68 395.41,1765.93 395.93,1765.21 396.45,1765.23 396.96,1765.38 397.48,1765.34 397.99,1765.02 398.51,1765.43 399.03,1765.7 399.54,1765.95 400.06,1765.28 400.57,1765.04 401.09,1765.48 401.61,1765.3 402.12,1764.68 402.64,1765.08 403.16,1764.86 403.67,1765.3 404.19,1765.21 404.7,1764.91 405.22,1764.9 405.74,1765.03 406.25,1765.45 406.77,1765.9 407.28,1765.54 407.8,1765.12 408.32,1765.42 408.83,1765.08 409.35,1765.28 409.87,1765.85 410.38,1765.42 410.9,1765.32 411.41,1765.57 411.93,1765.81 412.45,1764.93 412.96,1765.12 413.48,1765.01 413.99,1765.83 414.51,1765.26 415.03,1765.78 415.54,1765.56 416.06,1765.6 416.57,1765.63 417.09,1765.14 417.61,1765.7 418.12,1764.99 418.64,1764.86 419.16,1765.26 419.67,1764.93 420.19,1765.22 420.7,1764.87 421.22,1765.29 421.74,1764.83 422.25,1764.97 422.77,1765.12 423.28,1764.77 423.8,1765.02 424.32,1765.67 424.83,1765.4 425.35,1765.9 425.87,1765.79 426.38,1765.39 426.9,1765.88 427.41,1765.78 427.93,1765.98 428.45,1765.83 428.96,1766.01 429.48,1765.49 429.99,1765.15 430.51,1765.47 431.03,1765.31 431.54,1765.2 432.06,1765.1 432.57,1765.08"/>
<path class="sp" d="M112.62 1773.25V1784.34M113.91 1774.04V1783.55M126.81 1748.04V1805.74M157.26 1756.29V1779.27M158.81 1766.9V1773.25M174.55 1768.49V1779.27M176.1 1768.97V1785.77M206.81 1760.25V1771.66M208.88 1765.32V1770.87M225.91 1752.01V1813.98M256.1 1733.94V1760.57M275.2 1751.69V1801.78M306.17 1705.25V1741.55M324.49 1758.98V1789.1M355.71 1643.28V1682.9"/>
<polyline class="k" points="111.54,1778 112.17,1778 112.79,1778 113.42,1778 114.04,1778 114.66,1778 115.29,1778 115.91,1778 116.53,1778 117.16,1778 117.78,1778 118.41,1778 119.03,1778 119.65,1778 120.28,1778 120.9,1778 121.52,1778 122.15,1778 122.77,1778 123.39,1778 124.02,1778 124.64,1778 125.27,1778 125.89,1778 126.51,1778 126.51,1776.1 127.78,1775.9 129.05,1775.71 130.32,1775.54 131.59,1775.38 132.86,1775.22 134.13,1775.08 135.39,1774.94 136.66,1774.81 137.93,1774.69 139.2,1774.58 140.47,1774.48 141.74,1774.38 143.01,1774.28 144.28,1774.19 145.54,1774.11 146.81,1774.03 148.08,1773.96 149.35,1773.89 150.62,1773.83 151.89,1773.77 153.16,1773.71 154.43,1773.66 155.7,1773.61 156.96,1773.56 156.96,1776.1 157.75,1776.21 158.53,1776.32 159.32,1776.42 160.1,1776.52 160.89,1776.62 161.67,1776.71 162.46,1776.8 163.24,1776.88 164.03,1776.96 164.81,1777.04 165.6,1777.11 166.38,1777.18 167.17,1777.25 167.95,1777.32 168.74,1777.38 169.52,1777.44 170.31,1777.5 171.09,1777.55 171.88,1777.61 172.66,1777.66 173.45,1777.71 174.23,1777.75 175.02,1777.8 175.8,1777.84 175.8,1771.03 177.08,1770.59 178.36,1770.18 179.64,1769.8 180.92,1769.45 182.2,1769.13 183.48,1768.82 184.76,1768.54 186.04,1768.28 187.32,1768.04 188.6,1767.82 189.88,1767.61 191.16,1767.42 192.44,1767.24 193.72,1767.08 195,1766.92 196.28,1766.78 197.55,1766.65 198.83,1766.52 200.11,1766.41 201.39,1766.31 202.67,1766.21 203.95,1766.12 205.23,1766.03 206.51,1765.95 206.51,1770.08 207.31,1770.46 208.11,1770.84 208.92,1771.19 209.72,1771.54 210.52,1771.87 211.32,1772.18 212.12,1772.49 212.92,1772.78 213.72,1773.05 214.52,1773.32 215.32,1773.58 216.12,1773.82 216.93,1774.06 217.73,1774.29 218.53,1774.5 219.33,1774.71 220.13,1774.91 220.93,1775.1 221.73,1775.29 222.53,1775.46 223.33,1775.63 224.14,1775.79 224.94,1775.95 225.74,1776.1 225.74,1768.97 226.99,1767.55 228.24,1766.24 229.5,1765.02 230.75,1763.9 232,1762.85 233.25,1761.88 234.51,1760.98 235.76,1760.14 237.01,1759.37 238.26,1758.65 239.52,1757.98 240.77,1757.36 242.02,1756.78 243.28,1756.25 244.53,1755.76 245.78,1755.3 247.03,1754.87 248.29,1754.48 249.54,1754.11 250.79,1753.77 252.04,1753.46 253.3,1753.16 254.55,1752.89 255.8,1752.64 255.8,1758.82 256.6,1759.75 257.39,1760.63 258.19,1761.48 258.98,1762.28 259.78,1763.04 260.58,1763.76 261.37,1764.45 262.17,1765.1 262.96,1765.73 263.76,1766.32 264.55,1766.88 265.35,1767.42 266.15,1767.93 266.94,1768.41 267.74,1768.87 268.53,1769.31 269.33,1769.73 270.12,1770.13 270.92,1770.51 271.72,1770.86 272.51,1771.21 273.31,1771.53 274.1,1771.84 274.9,1772.14 274.9,1772.14 276.19,1766.81 277.48,1762.03 278.77,1757.74 280.06,1753.89 281.35,1750.44 282.64,1747.34 283.93,1744.56 285.22,1742.06 286.51,1739.83 287.8,1737.82 289.09,1736.01 290.38,1734.4 291.67,1732.94 292.96,1731.64 294.25,1730.47 295.54,1729.42 296.83,1728.48 298.12,1727.64 299.41,1726.88 300.7,1726.2 302,1725.59 303.29,1725.04 304.58,1724.55 305.87,1724.11 305.87,1734.25 306.63,1736.57 307.39,1738.75 308.16,1740.81 308.92,1742.75 309.68,1744.58 310.45,1746.31 311.21,1747.94 311.97,1749.47 312.74,1750.92 313.5,1752.29 314.26,1753.58 315.03,1754.8 315.79,1755.95 316.55,1757.03 317.32,1758.05 318.08,1759.02 318.84,1759.93 319.61,1760.79 320.37,1761.59 321.13,1762.36 321.9,1763.08 322.66,1763.76 323.42,1764.4 324.19,1765 324.19,1765 325.49,1741.05 326.79,1722.78 328.09,1708.84 329.39,1698.22 330.69,1690.11 331.99,1683.92 333.3,1679.21 334.6,1675.61 335.9,1672.87 337.2,1670.77 338.5,1669.18 339.8,1667.96 341.1,1667.03 342.4,1666.32 343.7,1665.78 345.01,1665.37 346.31,1665.06 347.61,1664.82 348.91,1664.63 350.21,1664.49 351.51,1664.39 352.81,1664.31 354.11,1664.24 355.41,1664.2 355.41,1673.39 358.63,1698.17 361.85,1717.07 365.08,1731.49 368.3,1742.49 371.52,1750.87 374.74,1757.27 377.96,1762.15 381.18,1765.87 384.4,1768.71 387.62,1770.88 390.84,1772.53 394.06,1773.79 397.28,1774.75 400.5,1775.48 403.72,1776.04 406.94,1776.47 410.16,1776.79 413.38,1777.04 416.6,1777.23 419.82,1777.38 423.04,1777.49 426.26,1777.57 429.48,1777.63 432.7,1777.68"/>
<rect class="fr" x="74.9" y="1619.5" width="412.9" height="221.9"/>
<path class="tk" d="M74.9 1841.4v4M126.51 1841.4v4M178.12 1841.4v4M229.74 1841.4v4M281.35 1841.4v4M332.96 1841.4v4M384.57 1841.4v4M436.19 1841.4v4M487.8 1841.4v4M74.9 1841.4h-4M74.9 1778h-4M74.9 1714.6h-4M74.9 1651.2h-4"/>
<text transform="translate(71.4 1864.5) scale(1.12 1)" font-size="16.95" text-anchor="middle" class="s">- 200</text>
<text transform="translate(126.51 1864.5) scale(1.12 1)" font-size="16.95" text-anchor="middle" class="s">0</text>
<text transform="translate(178.12 1864.5) scale(1.12 1)" font-size="16.95" text-anchor="middle" class="s">200</text>
<text transform="translate(229.74 1864.5) scale(1.12 1)" font-size="16.95" text-anchor="middle" class="s">400</text>
<text transform="translate(281.35 1864.5) scale(1.12 1)" font-size="16.95" text-anchor="middle" class="s">600</text>
<text transform="translate(332.96 1864.5) scale(1.12 1)" font-size="16.95" text-anchor="middle" class="s">800</text>
<text transform="translate(389.2 1864.5) scale(1.12 1)" font-size="16.95" text-anchor="middle" class="s">1,000</text>
<text transform="translate(440.8 1864.5) scale(1.12 1)" font-size="16.95" text-anchor="middle" class="s">1,200</text>
<text transform="translate(494.4 1864.5) scale(1.12 1)" font-size="16.95" text-anchor="middle" class="s">1,400</text>
<text transform="translate(63.5 1847.7) scale(1.12 1)" font-size="16.95" text-anchor="end" class="s">-4</text>
<text transform="translate(63.5 1784.3) scale(1.12 1)" font-size="16.95" text-anchor="end" class="s">0</text>
<text transform="translate(63.5 1720.9) scale(1.12 1)" font-size="16.95" text-anchor="end" class="s">4</text>
<text transform="translate(63.5 1657.5) scale(1.12 1)" font-size="16.95" text-anchor="end" class="s">8</text>
<text transform="translate(92.7 1596) scale(1.06 1)" font-size="33.1" text-anchor="start">Fc(aMD4)T3 (<tspan font-style="italic">K</tspan><tspan font-size="17" dy="11.5" dx="-1.2">D</tspan><tspan dy="-11.5" dx="0.6"> = 652.4 nM)</tspan></text>
<text transform="translate(284.5 1907.9) scale(1.06 1)" font-size="33.1" text-anchor="middle">Time (s)</text>
<text transform="translate(25.1 1736.7) scale(1.12 1) rotate(-90)" font-size="31.55" text-anchor="middle">SPR signal (RU)</text>
<text transform="translate(127.1 1767.8) scale(1.12 1)" font-size="16.95" text-anchor="start" class="s">10</text>
<text transform="translate(172.8 1756.9) scale(1.12 1)" font-size="16.95" text-anchor="start" class="s">30</text>
<text transform="translate(218.8 1738.9) scale(1.12 1)" font-size="16.95" text-anchor="start" class="s">100</text>
<text transform="translate(268.8 1709.3) scale(1.12 1)" font-size="16.95" text-anchor="start" class="s">300</text>
<text transform="translate(309.7 1640.9) scale(1.12 1)" font-size="16.95" text-anchor="start" class="s">1,000 nM</text>
</g>
<g>
<polyline class="r" points="1335.26,1811.34 1335.77,1811.18 1336.29,1810.77 1336.8,1810.95 1337.32,1810.92 1337.83,1810.79 1338.35,1811.02 1338.86,1810.78 1339.38,1810.54 1339.89,1810.27 1340.41,1810.69 1340.93,1810.61 1341.44,1810.71 1341.96,1810.09 1342.47,1809.92 1342.99,1810.34 1343.5,1809.66 1344.02,1809.38 1344.53,1809.48 1345.05,1809.5 1345.56,1809.82 1346.08,1810 1346.59,1809.58 1347.11,1809.77 1347.62,1809.67 1348.14,1809.54 1348.65,1809.61 1349.17,1809.23 1349.68,1809.06 1350.2,1808.61 1350.56,1808.77 1350.71,1800.74 1351.02,1809.4 1351.33,1808.64 1351.74,1808.51 1352.26,1808.3 1352.77,1808.33 1353.29,1808.42 1353.8,1807.8 1354.32,1807.51 1354.83,1807.47 1355.35,1807.5 1355.86,1807.76 1356.38,1807.86 1356.89,1807.78 1357.41,1807.86 1357.92,1807.25 1358.44,1807.27 1358.95,1806.84 1359.47,1807 1359.98,1806.52 1360.5,1806.38 1361.02,1806.95 1361.53,1806.92 1362.05,1806.26 1362.56,1806.32 1363.08,1805.86 1363.59,1806.11 1364.11,1806.39 1364.62,1805.97 1365.14,1805.63 1365.65,1805.86 1366.17,1806.03 1366.68,1805.81 1367.2,1805.15 1367.71,1805.02 1368.23,1805.44 1368.74,1805.41 1369.26,1805.45 1369.77,1805.43 1370.29,1804.75 1370.8,1804.96 1371.32,1804.65 1371.83,1804.56 1372.35,1804.68 1372.86,1804.2 1373.38,1804.46 1373.89,1804.07 1374.41,1804.29 1374.92,1804.05 1375.44,1804.07 1375.95,1803.97 1376.47,1803.29 1376.98,1803.12 1377.5,1803.4 1378.01,1802.96 1378.53,1803.29 1379.04,1803.18 1379.56,1802.7 1380.07,1802.64 1380.59,1803.34 1381.1,1802.79 1381.62,1803.25 1382.14,1803.38 1382.65,1803.02 1383.17,1803.26 1383.68,1803.39 1384.2,1803.63 1384.71,1803.71 1385.23,1803.34 1385.74,1803.51 1386.26,1803.28 1386.77,1803.4 1387.29,1803.39 1387.8,1802.98 1388.32,1803.24 1388.83,1803.26 1389.35,1803.04 1389.86,1803.54 1390.38,1803.75 1390.89,1803.21 1391.41,1803.11 1391.92,1803.56 1392.44,1803.77 1392.95,1803.41 1393.47,1803.12 1393.98,1803.65 1394.5,1803.22 1395.01,1803.14 1395.53,1803.35 1396.04,1803.59 1396.56,1803.94 1397.07,1804.13 1397.59,1803.45 1398.1,1803.82 1398.62,1803.58 1398.98,1801.82 1399.13,1796.13 1399.44,1805.61 1399.75,1801.61 1400.16,1801.33 1400.68,1801.43 1401.19,1801.45 1401.71,1800.9 1402.22,1801.14 1402.74,1800.98 1403.26,1800.54 1403.77,1800.04 1404.29,1799.95 1404.8,1800.08 1405.32,1799.5 1405.83,1799.77 1406.35,1799.91 1406.86,1799.64 1407.38,1799.3 1407.89,1799.38 1408.41,1799.21 1408.92,1798.88 1409.44,1798.49 1409.95,1798.6 1410.47,1798.35 1410.98,1797.71 1411.5,1797.31 1412.01,1797.32 1412.53,1797.19 1413.04,1797.12 1413.56,1797.36 1414.07,1797.41 1414.59,1797.34 1415.1,1796.47 1415.62,1796.23 1416.13,1795.82 1416.65,1796.34 1417.16,1795.91 1417.68,1795.78 1418.19,1795.42 1418.71,1795.52 1419.22,1794.89 1419.74,1795.32 1420.25,1794.97 1420.77,1794.59 1421.28,1794.21 1421.8,1794.1 1422.31,1793.98 1422.83,1793.76 1423.35,1793.47 1423.86,1793.72 1424.38,1793.43 1424.89,1793.04 1425.41,1792.82 1425.92,1793 1426.44,1792.65 1426.95,1792.36 1427.47,1792.39 1427.98,1792.25 1428.5,1792.29 1429.01,1792.03 1429.53,1791.8 1430.04,1792.05 1430.4,1792.02 1430.56,1787.91 1430.87,1793.6 1431.18,1792.06 1431.59,1791.64 1432.1,1791.78 1432.62,1792.13 1433.13,1791.99 1433.65,1792.1 1434.16,1792.27 1434.68,1792.03 1435.19,1792.59 1435.71,1792.26 1436.22,1792.76 1436.74,1792.48 1437.25,1792.51 1437.77,1792.75 1438.28,1792.47 1438.8,1792.56 1439.31,1792.52 1439.83,1792.28 1440.34,1792.76 1440.86,1793.16 1441.37,1793.08 1441.89,1792.77 1442.4,1793.07 1442.92,1793.23 1443.43,1792.7 1443.95,1792.74 1444.47,1792.96 1444.98,1792.69 1445.5,1793.08 1446.01,1792.96 1446.53,1793.33 1447.04,1793.29 1447.56,1792.99 1448.07,1792.82 1448.59,1792.81 1448.69,1792.97 1448.84,1785.38 1449.15,1800.55 1449.46,1792.38 1449.62,1792.14 1450.13,1791.85 1450.65,1791.58 1451.16,1790.87 1451.68,1790.02 1452.19,1789.4 1452.71,1788.97 1453.22,1788.3 1453.74,1788.3 1454.25,1788.07 1454.77,1787.44 1455.28,1787.04 1455.8,1786.63 1456.31,1786 1456.83,1785.29 1457.34,1784.83 1457.86,1784.49 1458.37,1783.62 1458.89,1782.88 1459.4,1782.74 1459.92,1782.68 1460.43,1782.37 1460.95,1781.25 1461.46,1781.22 1461.98,1780.34 1462.49,1779.83 1463.01,1779.54 1463.52,1778.73 1464.04,1778.76 1464.56,1778.35 1465.07,1777.62 1465.59,1777.4 1466.1,1776.35 1466.62,1776.14 1467.13,1775.83 1467.65,1775.48 1468.16,1774.55 1468.68,1774.06 1469.19,1773.42 1469.71,1772.85 1470.22,1772.21 1470.74,1771.54 1471.25,1771.21 1471.77,1771.17 1472.28,1770.61 1472.8,1770.34 1473.31,1770.06 1473.83,1769.26 1474.34,1768.47 1474.86,1768.31 1475.37,1767.85 1475.89,1767.31 1476.4,1766.52 1476.92,1766.06 1477.43,1765.5 1477.95,1764.87 1478.46,1764.63 1478.98,1763.9 1479.34,1765.16 1479.49,1756.94 1479.8,1767.69 1480.11,1765.3 1480.52,1765.11 1481.04,1765.24 1481.55,1765.84 1482.07,1765.87 1482.58,1765.81 1483.1,1765.64 1483.61,1766.09 1484.13,1766.17 1484.64,1766.02 1485.16,1766.11 1485.68,1766.1 1486.19,1766.57 1486.71,1766.66 1487.22,1767.14 1487.74,1766.95 1488.25,1766.89 1488.77,1767.09 1489.28,1767.18 1489.8,1767.7 1490.31,1767.39 1490.83,1767.3 1491.34,1767.35 1491.86,1767.8 1492.37,1767.83 1492.89,1768.3 1493.4,1768.06 1493.92,1768.1 1494.43,1768.61 1494.95,1769.08 1495.46,1769.03 1495.98,1769 1496.49,1768.89 1497.01,1769.16 1497.52,1769.71 1498.04,1769.34 1498.4,1771.48 1498.55,1765.79 1498.86,1774.01 1499.17,1769.89 1499.58,1769.05 1500.1,1767.74 1500.61,1766.08 1501.13,1765.19 1501.64,1764.08 1502.16,1762.57 1502.67,1761.08 1503.19,1759.68 1503.7,1758.53 1504.22,1757.16 1504.73,1756.29 1505.25,1754.86 1505.77,1754.33 1506.28,1753.3 1506.8,1751.97 1507.31,1750.98 1507.83,1749.57 1508.34,1748.45 1508.86,1747.46 1509.37,1746.17 1509.89,1745.27 1510.4,1744.5 1510.92,1743.52 1511.43,1742.13 1511.95,1740.97 1512.46,1740.49 1512.98,1739.17 1513.49,1737.99 1514.01,1737.32 1514.52,1736.45 1515.04,1735.84 1515.55,1734.77 1516.07,1733.83 1516.58,1732.84 1517.1,1732.4 1517.61,1730.9 1518.13,1730.2 1518.64,1729.49 1519.16,1728.37 1519.67,1727.64 1520.19,1726.9 1520.7,1725.96 1521.22,1725.62 1521.73,1724.6 1522.25,1723.84 1522.76,1722.61 1523.28,1721.73 1523.79,1721.46 1524.31,1720.71 1524.82,1720.26 1525.34,1719.37 1525.86,1718.28 1526.37,1717.37 1526.89,1716.94 1527.4,1716.47 1527.92,1715.95 1528.43,1714.99 1528.95,1713.96 1529.46,1718.75 1529.98,1718.75 1530.49,1719.59 1531.01,1719.97 1531.52,1720.29 1532.04,1720.24 1532.55,1720.74 1533.07,1721.1 1533.58,1721.22 1534.1,1721.9 1534.61,1721.83 1535.13,1722.51 1535.64,1722.64 1536.16,1723.1 1536.67,1723.5 1537.19,1723.57 1537.7,1723.87 1538.22,1724.22 1538.73,1724.51 1539.25,1724.71 1539.76,1725.27 1540.28,1725.62 1540.79,1725.58 1541.31,1725.75 1541.82,1726.08 1542.34,1726.12 1542.85,1726.51 1543.37,1726.62 1543.88,1727.36 1544.4,1727.37 1544.91,1727.5 1545.43,1727.64 1545.94,1728.34 1546.46,1728.76 1546.98,1728.58 1547.34,1727.24 1547.49,1723.45 1547.8,1733.56 1548.11,1724.02 1548.52,1721.42 1549.04,1719.41 1549.55,1717.02 1550.07,1714.15 1550.58,1712.06 1551.1,1709.93 1551.61,1707.12 1552.13,1705.08 1552.64,1702.63 1553.16,1701.03 1553.67,1698.9 1554.19,1696.65 1554.7,1695.19 1555.22,1693.27 1555.73,1691.07 1556.25,1688.95 1556.76,1687.04 1557.28,1686 1557.79,1684.22 1558.31,1682.39 1558.82,1680.94 1559.34,1679.3 1559.85,1678.2 1560.37,1676.95 1560.88,1675.61 1561.4,1674.31 1561.91,1672.57 1562.43,1671.17 1562.94,1669.8 1563.46,1668.9 1563.97,1667.77 1564.49,1666.61 1565,1664.96 1565.52,1663.53 1566.03,1662.4 1566.55,1662.01 1567.07,1661.24 1567.58,1659.61 1568.1,1658.8 1568.61,1657.68 1569.13,1657.05 1569.64,1656.13 1570.16,1655.23 1570.67,1654.42 1571.19,1653.48 1571.7,1653.11 1572.22,1651.9 1572.73,1650.89 1573.25,1650.58 1573.76,1649.8 1574.28,1648.83 1574.79,1648.32 1575.31,1647.9 1575.82,1647.34 1576.34,1646.47 1576.85,1646.17 1577.37,1644.95 1577.88,1644.23 1578.24,1643.96 1578.4,1637.5 1578.71,1648.24 1579.02,1646.03 1579.43,1646.58 1579.94,1647.81 1580.46,1648.73 1580.97,1649.78 1581.49,1650.4 1582,1651.37 1582.52,1652.74 1583.03,1653.28 1583.55,1654.2 1584.06,1655.09 1584.58,1655.97 1585.09,1657.19 1585.61,1657.74 1586.12,1658.5 1586.64,1659.46 1587.15,1660.29 1587.67,1661.12 1588.19,1662.26 1588.7,1662.89 1589.22,1664.14 1589.73,1664.86 1590.25,1665.51 1590.76,1666.62 1591.28,1667.23 1591.79,1667.68 1592.31,1668.3 1592.82,1669.3 1593.34,1669.53 1593.85,1670.31 1594.37,1671.31 1594.88,1671.84 1595.4,1672.51 1595.91,1673.21 1596.43,1673.99 1596.94,1674.19 1597.46,1674.99 1597.97,1675.64 1598.49,1676.19 1599,1676.6 1599.52,1677.92 1600.03,1678.29 1600.55,1678.71 1601.06,1679.64 1601.58,1680.21 1602.09,1681.05 1602.61,1681.59 1603.12,1681.99 1603.64,1682.72 1604.15,1683.21 1604.67,1683.18 1605.18,1683.79 1605.7,1684.37 1606.21,1684.52 1606.73,1685.24 1607.24,1685.47 1607.76,1686.17 1608.28,1686.57 1608.79,1687.61 1609.31,1687.86 1609.82,1688.12 1610.34,1689.1 1610.85,1689.02 1611.37,1689.9 1611.88,1690.23 1612.4,1690.87 1612.91,1691.11 1613.43,1691.38 1613.94,1692.21 1614.46,1692.03 1614.97,1692.66 1615.49,1693.04 1616,1693.38 1616.52,1693.95 1617.03,1694.47 1617.55,1694.6 1618.06,1694.95 1618.58,1695.54 1619.09,1695.63 1619.61,1696.24 1620.12,1696.93 1620.64,1697.21 1621.15,1697.69 1621.67,1697.98 1622.18,1697.81 1622.7,1698.27 1623.21,1698.23 1623.73,1698.56 1624.24,1699.45 1624.76,1699.19 1625.27,1699.33 1625.79,1700.3 1626.3,1700.16 1626.82,1700.7 1627.33,1701.04 1627.85,1700.93 1628.36,1701.68 1628.88,1701.9 1629.4,1701.82 1629.91,1702.15 1630.43,1702.66 1630.94,1702.58 1631.46,1702.86 1631.97,1703.3 1632.49,1704.02 1633,1704.03 1633.52,1704.34 1634.03,1704.81 1634.55,1705.25 1635.06,1705.17 1635.58,1705.64 1636.09,1705.69 1636.61,1705.68 1637.12,1706 1637.64,1706.41 1638.15,1706.44 1638.67,1706.72 1639.18,1706.67 1639.7,1707 1640.21,1706.87 1640.73,1706.99 1641.24,1707.35 1641.76,1708.01 1642.27,1708.48 1642.79,1708.14 1643.3,1708.24 1643.82,1708.52 1644.33,1708.96 1644.85,1709.31 1645.36,1709.21 1645.88,1709.4 1646.39,1709.56 1646.91,1709.7 1647.42,1709.76 1647.94,1710.35 1648.45,1710.63 1648.97,1710.23 1649.48,1710.26 1650,1710.41 1650.52,1711.25 1651.03,1711.63 1651.55,1711.69 1652.06,1711.69 1652.58,1711.63 1653.09,1712.14 1653.61,1712.05 1654.12,1712.5 1654.64,1712.74 1655.15,1712.43 1655.67,1712.52 1656.18,1712.58"/>
<path class="sp" d="M1351.01 1800.74V1809.4M1399.43 1796.13V1805.61M1430.86 1787.91V1793.6M1449.14 1785.38V1800.55M1479.79 1756.94V1767.69M1498.85 1765.79V1774.01M1547.79 1723.45V1733.56M1578.7 1637.5V1648.24"/>
<polyline class="k" points="1335.26,1809.4 1335.9,1809.37 1336.55,1809.35 1337.19,1809.32 1337.83,1809.29 1338.48,1809.27 1339.12,1809.24 1339.77,1809.22 1340.41,1809.19 1341.05,1809.16 1341.7,1809.14 1342.34,1809.11 1342.99,1809.08 1343.63,1809.06 1344.27,1809.03 1344.92,1809 1345.56,1808.98 1346.21,1808.95 1346.85,1808.93 1347.49,1808.9 1348.14,1808.87 1348.78,1808.85 1349.42,1808.82 1350.07,1808.79 1350.71,1808.77 1350.71,1808.77 1351.95,1808.52 1353.19,1808.27 1354.43,1808.02 1355.67,1807.77 1356.91,1807.52 1358.15,1807.27 1359.39,1807.02 1360.63,1806.77 1361.87,1806.52 1363.11,1806.27 1364.35,1806.02 1365.59,1805.77 1366.83,1805.52 1368.07,1805.27 1369.31,1805.02 1370.54,1804.77 1371.78,1804.52 1373.02,1804.27 1374.26,1804.01 1375.5,1803.76 1376.74,1803.51 1377.98,1803.26 1379.22,1803.01 1380.46,1802.76 1380.46,1805.23 1381.24,1805.27 1382.02,1805.31 1382.8,1805.36 1383.57,1805.4 1384.35,1805.44 1385.13,1805.48 1385.91,1805.52 1386.69,1805.57 1387.46,1805.61 1388.24,1805.65 1389.02,1805.69 1389.8,1805.73 1390.58,1805.78 1391.35,1805.82 1392.13,1805.86 1392.91,1805.9 1393.69,1805.95 1394.47,1805.99 1395.24,1806.03 1396.02,1806.07 1396.8,1806.11 1397.58,1806.16 1398.36,1806.2 1399.13,1806.24 1399.13,1801.82 1400.44,1801.39 1401.75,1800.96 1403.06,1800.54 1404.37,1800.11 1405.68,1799.68 1406.99,1799.26 1408.3,1798.83 1409.61,1798.4 1410.92,1797.98 1412.23,1797.55 1413.54,1797.12 1414.85,1796.7 1416.15,1796.27 1417.46,1795.84 1418.77,1795.42 1420.08,1794.99 1421.39,1794.56 1422.7,1794.14 1424.01,1793.71 1425.32,1793.28 1426.63,1792.86 1427.94,1792.43 1429.25,1792 1430.56,1791.58 1430.56,1796.06 1431.32,1796.15 1432.08,1796.23 1432.84,1796.32 1433.6,1796.4 1434.37,1796.49 1435.13,1796.57 1435.89,1796.65 1436.65,1796.74 1437.41,1796.82 1438.18,1796.91 1438.94,1796.99 1439.7,1797.08 1440.46,1797.16 1441.22,1797.24 1441.99,1797.33 1442.75,1797.41 1443.51,1797.5 1444.27,1797.58 1445.03,1797.67 1445.8,1797.75 1446.56,1797.83 1447.32,1797.92 1448.08,1798 1448.84,1798.09 1448.84,1793.6 1450.12,1792.35 1451.4,1791.1 1452.68,1789.86 1453.95,1788.61 1455.23,1787.36 1456.51,1786.11 1457.78,1784.86 1459.06,1783.61 1460.34,1782.37 1461.61,1781.12 1462.89,1779.87 1464.17,1778.62 1465.45,1777.37 1466.72,1776.13 1468,1774.88 1469.28,1773.63 1470.55,1772.38 1471.83,1771.13 1473.11,1769.88 1474.39,1768.64 1475.66,1767.39 1476.94,1766.14 1478.22,1764.89 1479.49,1763.64 1479.49,1768.76 1480.29,1768.97 1481.08,1769.17 1481.88,1769.37 1482.67,1769.57 1483.46,1769.78 1484.26,1769.98 1485.05,1770.18 1485.85,1770.38 1486.64,1770.59 1487.44,1770.79 1488.23,1770.99 1489.02,1771.2 1489.82,1771.4 1490.61,1771.6 1491.41,1771.8 1492.2,1772.01 1492.99,1772.21 1493.79,1772.41 1494.58,1772.61 1495.38,1772.82 1496.17,1773.02 1496.97,1773.22 1497.76,1773.43 1498.55,1773.63 1498.55,1773.63 1499.83,1770.15 1501.11,1766.77 1502.38,1763.49 1503.66,1760.3 1504.94,1757.21 1506.22,1754.2 1507.49,1751.28 1508.77,1748.44 1510.05,1745.69 1511.32,1743.01 1512.6,1740.41 1513.88,1737.89 1515.16,1735.44 1516.43,1733.06 1517.71,1730.74 1518.99,1728.5 1520.26,1726.32 1521.54,1724.2 1522.82,1722.14 1524.09,1720.14 1525.37,1718.2 1526.65,1716.31 1527.93,1714.48 1529.2,1712.7 1529.2,1715.23 1529.97,1715.72 1530.73,1716.2 1531.49,1716.67 1532.25,1717.13 1533.01,1717.6 1533.78,1718.05 1534.54,1718.5 1535.3,1718.94 1536.06,1719.38 1536.82,1719.82 1537.58,1720.24 1538.35,1720.67 1539.11,1721.08 1539.87,1721.5 1540.63,1721.9 1541.39,1722.3 1542.16,1722.7 1542.92,1723.09 1543.68,1723.48 1544.44,1723.86 1545.2,1724.24 1545.97,1724.61 1546.73,1724.98 1547.49,1725.34 1547.49,1725.34 1548.78,1718.78 1550.08,1712.69 1551.37,1707.04 1552.66,1701.8 1553.96,1696.93 1555.25,1692.42 1556.54,1688.23 1557.84,1684.35 1559.13,1680.75 1560.42,1677.4 1561.72,1674.3 1563.01,1671.43 1564.3,1668.76 1565.59,1666.28 1566.89,1663.98 1568.18,1661.85 1569.47,1659.87 1570.77,1658.04 1572.06,1656.34 1573.35,1654.76 1574.65,1653.29 1575.94,1651.93 1577.23,1650.67 1578.53,1649.5 1578.53,1653.93 1581.76,1657.66 1585,1661.28 1588.23,1664.79 1591.47,1668.21 1594.7,1671.53 1597.94,1674.75 1601.18,1677.88 1604.41,1680.92 1607.65,1683.87 1610.88,1686.74 1614.12,1689.52 1617.35,1692.23 1620.59,1694.85 1623.83,1697.4 1627.06,1699.88 1630.3,1702.29 1633.53,1704.63 1636.77,1706.9 1640,1709.1 1643.24,1711.24 1646.47,1713.32 1649.71,1715.35 1652.95,1717.31 1656.18,1719.21"/>
<rect class="fr" x="1299.2" y="1619.8" width="412.1" height="221.2"/>
<path class="tk" d="M1299.2 1841v4M1350.71 1841v4M1402.22 1841v4M1453.74 1841v4M1505.25 1841v4M1556.76 1841v4M1608.28 1841v4M1659.79 1841v4M1711.3 1841v4M1299.2 1841h-4M1299.2 1809.4h-4M1299.2 1777.8h-4M1299.2 1746.2h-4M1299.2 1714.6h-4M1299.2 1683h-4M1299.2 1651.4h-4M1299.2 1619.8h-4"/>
<text transform="translate(1295.7 1864.5) scale(1.12 1)" font-size="16.95" text-anchor="middle" class="s">- 200</text>
<text transform="translate(1350.71 1864.5) scale(1.12 1)" font-size="16.95" text-anchor="middle" class="s">0</text>
<text transform="translate(1402.22 1864.5) scale(1.12 1)" font-size="16.95" text-anchor="middle" class="s">200</text>
<text transform="translate(1453.74 1864.5) scale(1.12 1)" font-size="16.95" text-anchor="middle" class="s">400</text>
<text transform="translate(1505.25 1864.5) scale(1.12 1)" font-size="16.95" text-anchor="middle" class="s">600</text>
<text transform="translate(1556.76 1864.5) scale(1.12 1)" font-size="16.95" text-anchor="middle" class="s">800</text>
<text transform="translate(1613.7 1864.5) scale(1.12 1)" font-size="16.95" text-anchor="middle" class="s">1,000</text>
<text transform="translate(1664.2 1864.5) scale(1.12 1)" font-size="16.95" text-anchor="middle" class="s">1,200</text>
<text transform="translate(1718 1864.5) scale(1.12 1)" font-size="16.95" text-anchor="middle" class="s">1,400</text>
<text transform="translate(1286.7 1815.7) scale(1.12 1)" font-size="16.95" text-anchor="end" class="s">0</text>
<text transform="translate(1286.7 1752.5) scale(1.12 1)" font-size="16.95" text-anchor="end" class="s">10</text>
<text transform="translate(1286.7 1689.3) scale(1.12 1)" font-size="16.95" text-anchor="end" class="s">20</text>
<text transform="translate(1286.7 1626.1) scale(1.12 1)" font-size="16.95" text-anchor="end" class="s">30</text>
<text transform="translate(1313.9 1596) scale(1.06 1)" font-size="33.1" text-anchor="start">Fc(aMD4ds)B3 (<tspan font-style="italic">K</tspan><tspan font-size="17" dy="11.5" dx="-1.2">D</tspan><tspan dy="-11.5" dx="0.6"> = 3.7 nM)</tspan></text>
<text transform="translate(1510.6 1907.9) scale(1.06 1)" font-size="33.1" text-anchor="middle">Time (s)</text>
<text transform="translate(1242.2 1745.4) scale(1.12 1) rotate(-90)" font-size="31.55" text-anchor="middle">SPR signal (RU)</text>
<text transform="translate(1356.9 1785.5) scale(1.12 1)" font-size="16.95" text-anchor="start" class="s">0.3</text>
<text transform="translate(1403.5 1775.3) scale(1.12 1)" font-size="16.95" text-anchor="start" class="s">1</text>
<text transform="translate(1448.7 1756.9) scale(1.12 1)" font-size="16.95" text-anchor="start" class="s">3</text>
<text transform="translate(1485.9 1722.9) scale(1.12 1)" font-size="16.95" text-anchor="start" class="s">10</text>
<text transform="translate(1526.3 1638.5) scale(1.12 1)" font-size="16.95" text-anchor="start" class="s">30 nM</text>
</g>
</svg></body></html>
